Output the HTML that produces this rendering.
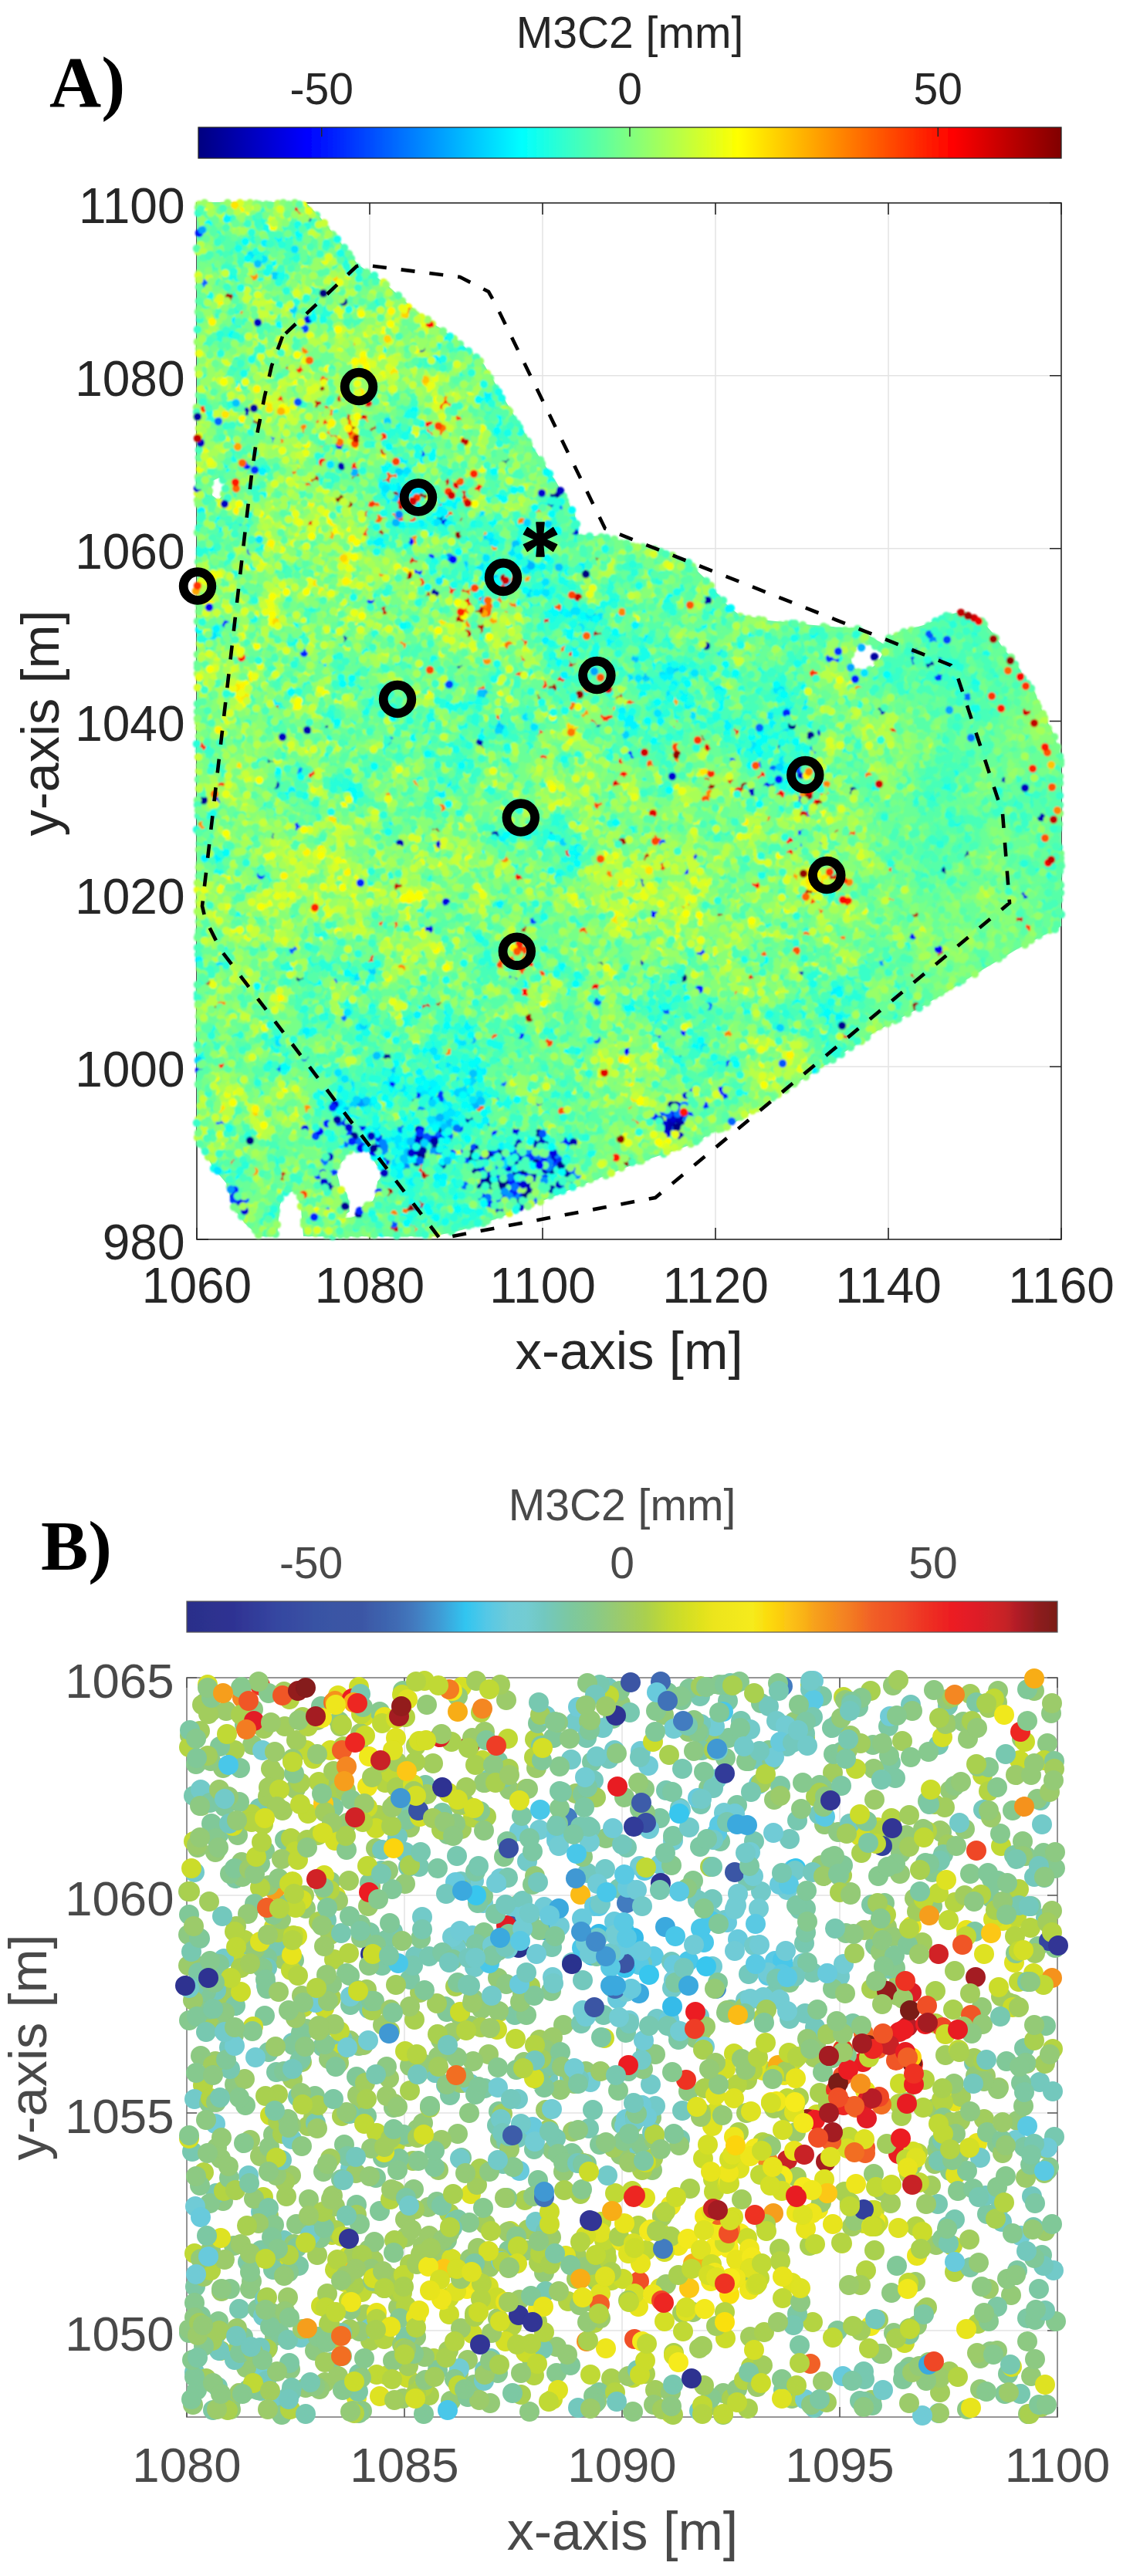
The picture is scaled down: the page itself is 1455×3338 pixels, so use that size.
<!DOCTYPE html><html><head><meta charset="utf-8"><style>
html,body{margin:0;padding:0;background:#fff;width:1455px;height:3338px;overflow:hidden}
svg{display:block}
.t{font-family:"Liberation Sans",sans-serif;fill:#262626}
.u{font-family:"Liberation Sans",sans-serif;fill:#4a4a4a}
.s{font-family:"Liberation Serif",serif;font-weight:bold;fill:#000}
</style></head><body>
<svg width="1455" height="3338" viewBox="0 0 1455 3338">
<defs>
<filter id="bl" x="-2%" y="-2%" width="104%" height="104%"><feGaussianBlur stdDeviation="0.9"/></filter>
<filter id="gb" filterUnits="userSpaceOnUse" x="0" y="0" width="1455" height="3338"><feGaussianBlur stdDeviation="0.55"/></filter>
<linearGradient id="jet" x1="0" x2="1" y1="0" y2="0">
<stop offset="0" stop-color="#000080"/><stop offset="0.125" stop-color="#0000ff"/>
<stop offset="0.375" stop-color="#00ffff"/><stop offset="0.625" stop-color="#ffff00"/>
<stop offset="0.875" stop-color="#ff0000"/><stop offset="1" stop-color="#800000"/>
</linearGradient>
<linearGradient id="bmap" x1="0" x2="1" y1="0" y2="0">
<stop offset="0" stop-color="#2b2f8a"/><stop offset="0.05" stop-color="#2e3192"/><stop offset="0.1" stop-color="#3545a0"/><stop offset="0.15" stop-color="#3953a4"/><stop offset="0.2" stop-color="#3b56a5"/><stop offset="0.24" stop-color="#3f6ab3"/><stop offset="0.26" stop-color="#4379be"/><stop offset="0.29" stop-color="#3f9bd5"/><stop offset="0.32" stop-color="#31c5f0"/><stop offset="0.345" stop-color="#55c8e6"/><stop offset="0.37" stop-color="#6fcbd8"/><stop offset="0.39" stop-color="#73ccd2"/><stop offset="0.41" stop-color="#72c8c0"/><stop offset="0.44" stop-color="#7cc8a0"/><stop offset="0.467" stop-color="#88c98a"/><stop offset="0.5" stop-color="#9ccb6a"/><stop offset="0.527" stop-color="#aad04e"/><stop offset="0.554" stop-color="#c4da30"/><stop offset="0.58" stop-color="#d8e022"/><stop offset="0.605" stop-color="#ece51a"/><stop offset="0.65" stop-color="#f6eb1b"/><stop offset="0.67" stop-color="#fcd90b"/><stop offset="0.69" stop-color="#fcc513"/><stop offset="0.71" stop-color="#f9b116"/><stop offset="0.72" stop-color="#f7a21b"/><stop offset="0.74" stop-color="#f5901f"/><stop offset="0.76" stop-color="#f37e21"/><stop offset="0.79" stop-color="#f15d27"/><stop offset="0.82" stop-color="#ef4b26"/><stop offset="0.85" stop-color="#ee3124"/><stop offset="0.88" stop-color="#ec1c24"/><stop offset="0.91" stop-color="#dd1f26"/><stop offset="0.94" stop-color="#c62128"/><stop offset="0.96" stop-color="#a81d24"/><stop offset="0.98" stop-color="#8c1a1d"/><stop offset="1.0" stop-color="#7a1a17"/>
</linearGradient>
</defs>
<rect width="1455" height="3338" fill="#fff"/>
<g filter="url(#gb)">

<line x1="479.0" y1="263" x2="479.0" y2="1606" stroke="#e3e3e3" stroke-width="1.5"/>
<line x1="703.0" y1="263" x2="703.0" y2="1606" stroke="#e3e3e3" stroke-width="1.5"/>
<line x1="927.0" y1="263" x2="927.0" y2="1606" stroke="#e3e3e3" stroke-width="1.5"/>
<line x1="1151.0" y1="263" x2="1151.0" y2="1606" stroke="#e3e3e3" stroke-width="1.5"/>
<line x1="255" y1="1382.2" x2="1375" y2="1382.2" stroke="#e3e3e3" stroke-width="1.5"/>
<line x1="255" y1="1158.3" x2="1375" y2="1158.3" stroke="#e3e3e3" stroke-width="1.5"/>
<line x1="255" y1="934.5" x2="1375" y2="934.5" stroke="#e3e3e3" stroke-width="1.5"/>
<line x1="255" y1="710.7" x2="1375" y2="710.7" stroke="#e3e3e3" stroke-width="1.5"/>
<line x1="255" y1="486.8" x2="1375" y2="486.8" stroke="#e3e3e3" stroke-width="1.5"/>
<rect x="255" y="263" width="1120" height="1343" fill="none" stroke="#262626" stroke-width="1.6"/>
<path d="M255.0 1606v-15M255.0 263v15M479.0 1606v-15M479.0 263v15M703.0 1606v-15M703.0 263v15M927.0 1606v-15M927.0 263v15M1151.0 1606v-15M1151.0 263v15M1375.0 1606v-15M1375.0 263v15M255 1606.0h15M1375 1606.0h-15M255 1382.2h15M1375 1382.2h-15M255 1158.3h15M1375 1158.3h-15M255 934.5h15M1375 934.5h-15M255 710.7h15M1375 710.7h-15M255 486.8h15M1375 486.8h-15M255 263.0h15M1375 263.0h-15" stroke="#262626" stroke-width="1.6" fill="none"/>
<polygon points="255,262 396,262 416,283 464,343 499,367 542,406 590,439 627,472 660,528 692,582 721,625 739,657 744,664 750,693 784,696 832,708 860,714 890,727 912,748 940,782 958,797 996,804 1042,809 1102,814 1114,813 1120,820 1147,836 1150,826 1172,817 1200,809 1228,797 1243,793 1273,805 1286,820 1302,843 1313,855 1329,880 1341,898 1348,916 1365,952 1373,978 1375,995 1375,1200 1321,1228 1259,1265 1197,1303 1134,1337 1072,1378 978,1438 940,1462 922,1467 903,1480 885,1487 823,1508 760,1533 698,1558 641,1580 598,1594 562,1602 393,1602 390,1564 384,1543 368,1546 362,1564 359,1602 336,1602 317,1585 302,1564 293,1533 275,1512 266,1491 257,1480 255,1480" fill="#6cf8a4"/>
<polygon points="434.7,1514.8 444,1504.4 448.6,1494 460.2,1489.4 475.2,1488.2 481,1498.6 488,1510.2 496,1515 495,1524 489,1531 488,1545 483,1556 475,1561 465,1566 464,1574 455.6,1578 440,1579 453,1570 451,1554 448.6,1545 440.5,1538 438.2,1526.4" fill="#fff"/>
<polygon points="1102,852 1108,840 1118,830 1138,840 1143,848 1136,860 1126,868 1112,870 1104,864" fill="#fff"/>
<polygon points="273,624 284,619 292,624 290,640 283,648 275,642" fill="#fff"/>
<g fill="none" stroke-linecap="round" stroke-width="10.4" filter="url(#bl)">
<path stroke="#a8ff57" d="M258 265h0m59 0h0m-54 25h0m32 2h0m26 6h0m28-7h0m-45 12h0m92 20h0m-40 23h0m87 9h0m-159 5h0m133 12h0m49-8h0m27 6h0m-118 20h0m23 8h0m17-15h0m33 16h0m-147 12h0m25-3h0m12 6h0m3-13h0m8 14h0m-84 19h0m63 0h0m36 3h0m14-10h0m17 6h0m7-5h0m16 4h0m5-2h0m2 2h0m5-10h0m31 10h0m11-2h0m12-10h0m11 13h0m46-5h0m14 6h0m-297 11h0m90 1h0m32 13h0m55-18h0m15 1h0m63 5h0m10-7h0m-157 27h0m115 9h0m29-16h0m12 5h0m-242 18h0m66 16h0m38-6h0m137-10h0m51 12h0m7-12h0m-273 27h0m204-2h0m39 6h0m43-6h0m7 5h0m-243 26h0m31-6h0m57-11h0m-171 31h0m0-5h0m31-8h0m31 13h0m3-6h0m107 7h0m101 1h0m13-7h0m8 0h0m-221 29h0m9 3h0m10-19h0m218 4h0m67 13h0m-299 12h0m283-1h0m27 3h0m-392 16h0m349 0h0m86 10h0m-407 11h0m125 10h0m200-11h0m65 0h0m-362 14h0m82-1h0m65 0h0m-126 21h0m2 4h0m90 8h0m-99 7h0m32 3h0m14 14h0m45-12h0m29 5h0m-84 25h0m27 2h0m161-8h0m184 0h0m-302 30h0m62-7h0m367-3h0m-540 12h0m47 6h0m386 2h0m-457 27h0m86-4h0m41 2h0m99-10h0m31 9h0m-308 22h0m24-16h0m148 16h0m51-1h0m37 0h0m88 1h0m185-1h0m-491 8h0m45 6h0m74 3h0m10-3h0m118 9h0m100-1h0m193-14h0m85 3h0m-565 27h0m6 4h0m72-15h0m153 1h0m70 8h0m6-2h0m222-8h0m25 7h0m21 7h0m51 2h0m-654 4h0m70 3h0m2 2h0m128 13h0m2-5h0m534-4h0m13-7h0m23-2h0m-849 32h0m57-2h0m60-9h0m95 15h0m14-4h0m14 5h0m8 0h0m45 1h0m156 0h0m85-12h0m230 6h0m40 1h0m30-1h0m8-4h0m-742 29h0m11-4h0m166-2h0m1 7h0m161 1h0m242-14h0m131-6h0m26 11h0m5 8h0m8-8h0m-765 19h0m42-5h0m113 1h0m73 11h0m485-1h0m-762 23h0m88-18h0m190 9h0m162-3h0m5 0h0m607 7h0m-871 15h0m241 7h0m377-13h0m23-2h0m35 0h0m194 2h0m-1057 30h0m28-6h0m40-6h0m9 4h0m4 7h0m15-1h0m4-3h0m19-1h0m71 1h0m151-6h0m74-1h0m57 7h0m6-1h0m143 7h0m102-3h0m116 4h0m19-12h0m21 10h0m9-12h0m-868 24h0m18 7h0m5 7h0m10 1h0m169-8h0m15 6h0m17-7h0m108 2h0m44-3h0m216 6h0m28-2h0m-595 16h0m206 2h0m184-5h0m89-4h0m275 16h0m-788 17h0m43-9h0m214-4h0m110 0h0m20 6h0m50 0h0m23 11h0m6-15h0m130 9h0m76 1h0m104-9h0m-640 30h0m123-16h0m134 9h0m52-6h0m16 8h0m78-1h0m145-2h0m105 3h0m-773 15h0m138 2h0m6-7h0m109 0h0m15 5h0m12 8h0m3-1h0m177 6h0m145 1h0m151-20h0m22 8h0m-816 14h0m38 8h0m50 3h0m9-6h0m43 0h0m33-6h0m58 3h0m8 1h0m22-5h0m43 7h0m38-6h0m219 18h0m1-18h0m21 15h0m24-15h0m6 17h0m17-5h0m34-6h0m2-6h0m104 1h0m27 15h0m60-13h0m-796 34h0m44-9h0m140 7h0m17-7h0m99 6h0m37-3h0m130-2h0m51 1h0m73 7h0m104-18h0m-776 25h0m78-1h0m28-2h0m13 16h0m11-4h0m1-5h0m65 1h0m59 5h0m15 2h0m30-15h0m34 1h0m89-1h0m74 3h0m21-4h0m14 1h0m115 14h0m14-11h0m7-4h0m84 1h0m55 15h0m-744 19h0m79-3h0m12-10h0m89 0h0m66 12h0m21-7h0m115-5h0m42 4h0m30-4h0m16 4h0m10 8h0m57-2h0m8 1h0m113-3h0m10-10h0m142 9h0m9 3h0m1 6h0m24-13h0m105 9h0m32-5h0m-1052 18h0m71 11h0m1-8h0m1-10h0m40 9h0m218-5h0m21-2h0m8-2h0m93 1h0m128-1h0m2 4h0m7-3h0m78-2h0m17 0h0m5 11h0m12-8h0m45 5h0m-729 23h0m4 8h0m18-7h0m244 5h0m195 1h0m112-16h0m56-1h0m130 12h0m19-7h0m62 9h0m9 3h0m-824 11h0m37 6h0m9-3h0m35 7h0m94-12h0m55 10h0m33-12h0m70 1h0m184 13h0m61-7h0m20 1h0m95-1h0m43 7h0m14-6h0m137 4h0m18-1h0m54-11h0m-956 31h0m47 1h0m26 1h0m126-8h0m4 0h0m57 9h0m38-1h0m8-3h0m167-6h0m61 2h0m2 3h0m42-6h0m61 1h0m8-5h0m22 1h0m40 9h0m60-12h0m26 4h0m153 11h0m-952 11h0m82 7h0m179-15h0m34 13h0m155 3h0m36 4h0m34-12h0m78 6h0m-583 14h0m10 8h0m1-10h0m147 8h0m62-7h0m1 8h0m61 4h0m57-17h0m169 1h0m104 7h0m5-7h0m22 11h0m18-12h0m0 18h0m50-17h0m44-2h0m-785 27h0m9-4h0m214 11h0m111-2h0m15-9h0m19-4h0m38 11h0m76-9h0m35 17h0m164-13h0m175-5h0m-871 29h0m252 4h0m166-11h0m326 9h0m-325 14h0m97-3h0m108 1h0m134 5h0m-762 22h0m147 4h0m3-8h0m3-2h0m284 5h0m85-1h0m41 7h0m154-1h0m58 4h0m-41 8h0m17 8h0m17-13h0m-370 30h0m98-10h0m60 9h0m9-10h0m72 1h0m42 12h0m32 1h0m21 4h0m-700 8h0m53-6h0m17 8h0m4 8h0m18-1h0m289-10h0m260 0h0m40 3h0m9 1h0m5 4h0m-677 8h0m380 7h0m3-6h0m122-3h0m27 2h0m9 15h0m10-5h0m63-10h0m-645 19h0m55 10h0m27 5h0m31-9h0m398-3h0m70 7h0m57 0h0m27-7h0m-683 31h0m141-8h0m188 2h0m119-3h0m100 4h0m71-4h0m-497 28h0m418 5h0m47-8h0m-449 17h0m-34 20h0m253 4h0m-289 24h0m57-12h0m17-2h0m264 2h0m31 13h0m-371 13h0m75 17h0m34-5h0"/>
<path stroke="#98ff67" d="M288 267h0m7-4h0m4 14h0m11 3h0m83-4h0m-129 9h0m24 7h0m10 5h0m13-15h0m-33 34h0m135 19h0m-155 19h0m27-2h0m103 1h0m9-5h0m31-1h0m-51 30h0m18-12h0m55 9h0m8-14h0m-180 25h0m12 0h0m16 13h0m17-1h0m133-14h0m55 9h0m-192 11h0m37 15h0m53-11h0m-141 22h0m63 1h0m0-8h0m39 17h0m76-3h0m53-14h0m11 14h0m57 0h0m21 3h0m-306 15h0m92-9h0m1-2h0m23-2h0m4 6h0m121 12h0m3-13h0m-35 28h0m5 4h0m34-14h0m29-3h0m20 1h0m43 6h0m-353 31h0m168-12h0m23-5h0m58 5h0m-215 18h0m79 9h0m67-4h0m86-3h0m8 10h0m6-8h0m7 1h0m-301 18h0m68 0h0m21 7h0m130-3h0m4 3h0m32 4h0m-209 10h0m47 6h0m3-10h0m70-2h0m74 5h0m87-2h0m11 8h0m14-14h0m-348 33h0m11-7h0m5-2h0m44-2h0m265-1h0m11 13h0m-283 21h0m92-9h0m1 4h0m34 10h0m125-3h0m98-12h0m9 11h0m8 1h0m-320 13h0m30 4h0m2-9h0m91 0h0m98-1h0m23 8h0m36-9h0m-281 19h0m206 4h0m26 11h0m105-10h0m-439 21h0m48-2h0m29 9h0m42-6h0m10-3h0m44-5h0m15 0h0m175 14h0m16 0h0m6-2h0m-303 8h0m89 19h0m237-8h0m7-12h0m-328 33h0m7-7h0m65 7h0m58-12h0m5 15h0m74 0h0m-257 21h0m20-2h0m120-10h0m334 13h0m2-8h0m49-2h0m16 7h0m-552 18h0m21-10h0m46 0h0m76 8h0m65 3h0m37 2h0m312-11h0m-546 28h0m62 6h0m52-11h0m114 3h0m23-10h0m245 5h0m45-3h0m5 2h0m80 14h0m-632 13h0m120 1h0m72-5h0m42-8h0m37 8h0m10 11h0m272-9h0m6-6h0m-587 21h0m43 9h0m7-11h0m6 15h0m23-8h0m24 7h0m4-17h0m74 7h0m44-3h0m41 13h0m2-14h0m19 11h0m44 2h0m294 2h0m27-15h0m46 16h0m-607 19h0m53-3h0m70 0h0m11-4h0m20-6h0m37 3h0m88-3h0m16 0h0m156 5h0m232 8h0m-699 4h0m179 1h0m6 4h0m48-6h0m8 1h0m297 14h0m0-8h0m207 10h0m22-4h0m59-10h0m-900 16h0m14 13h0m11 6h0m97-13h0m27-2h0m14 14h0m4-16h0m50 16h0m93-16h0m13 13h0m103-12h0m4 0h0m10 4h0m151 9h0m221-14h0m63 17h0m12-18h0m112 2h0m-972 28h0m15 1h0m122 2h0m24-14h0m28 19h0m21-5h0m62-2h0m47-10h0m24 4h0m62 5h0m116-11h0m201 3h0m-744 35h0m59-11h0m25 9h0m54-12h0m6 2h0m15 0h0m7 11h0m45-6h0m35-7h0m173 1h0m111 4h0m16 1h0m97 6h0m3-4h0m30-11h0m-671 36h0m79-2h0m111 0h0m136 1h0m210-11h0m301 10h0m-801 16h0m37 6h0m134-8h0m253 8h0m254-16h0m126 6h0m42 0h0m24 8h0m167-8h0m-1068 19h0m43 14h0m7-12h0m32 8h0m45-13h0m56-2h0m121 13h0m12-4h0m129-2h0m30 12h0m1-16h0m54-3h0m147 12h0m92-5h0m81 11h0m33 0h0m10-5h0m20-7h0m24-5h0m98 16h0m1-6h0m21 7h0m1-18h0m24 9h0m-1063 25h0m25 3h0m13 0h0m81-1h0m293-15h0m71 10h0m97-10h0m23 17h0m181 0h0m72-5h0m197-2h0m-987 19h0m42 1h0m7-8h0m34 14h0m21-13h0m302 12h0m0-10h0m231 1h0m148 5h0m132-8h0m-1018 22h0m30 2h0m34-3h0m19 0h0m72 13h0m61-9h0m20-8h0m17 7h0m42 6h0m144 3h0m25-17h0m49 11h0m17 4h0m138-12h0m1 11h0m25-6h0m0-4h0m-597 31h0m232 2h0m38-2h0m47-5h0m15-3h0m20-1h0m10 9h0m8 0h0m48-9h0m68 7h0m69-6h0m231-3h0m-839 35h0m29-10h0m37-9h0m140 19h0m165 0h0m78-12h0m52-7h0m106 9h0m22 5h0m5 4h0m5-15h0m57-1h0m14 16h0m34-9h0m20-3h0m64 6h0m-769 19h0m110-7h0m72-3h0m51 1h0m79 2h0m126 9h0m11-11h0m14 16h0m62-8h0m47-5h0m34 13h0m8-5h0m94 5h0m50-10h0m72 4h0m-905 19h0m15-5h0m105 12h0m1-11h0m89 3h0m44 2h0m39-6h0m217 10h0m7-15h0m52 3h0m61 14h0m41 1h0m137-15h0m77-1h0m-668 28h0m187 6h0m127-15h0m49 8h0m16-2h0m39 10h0m25-9h0m30 6h0m35-7h0m16-2h0m22-4h0m80 6h0m-805 25h0m303-12h0m35 16h0m40-15h0m113 1h0m10 13h0m21-3h0m11 0h0m42-11h0m20 12h0m20-5h0m65-8h0m18 1h0m44 13h0m28 2h0m18-10h0m121 4h0m8-4h0m-968 13h0m98 12h0m49-3h0m49 7h0m37-3h0m4-7h0m10-1h0m35 8h0m39 1h0m77-4h0m6 8h0m64-16h0m23-3h0m94 3h0m7 3h0m52 9h0m185 0h0m1-6h0m50-7h0m-804 30h0m40-11h0m28 6h0m39 11h0m7-9h0m2 9h0m91-16h0m5 3h0m7 4h0m30-4h0m18 7h0m13 2h0m149-12h0m33 9h0m23 4h0m55-3h0m54 6h0m157-8h0m19 2h0m171-10h0m47 12h0m-1050 10h0m69 2h0m141 0h0m40 5h0m16 3h0m197-7h0m6-5h0m160 5h0m34 6h0m124-6h0m13-2h0m57 3h0m7 5h0m35 4h0m5 1h0m-904 7h0m25 14h0m67-16h0m45 8h0m314 7h0m66-12h0m55 5h0m62-11h0m68 6h0m12-5h0m75 11h0m87 4h0m4 3h0m11-18h0m20 12h0m8-3h0m35 10h0m-965 11h0m69-1h0m36-7h0m109 2h0m64 3h0m29 10h0m284-2h0m77-7h0m88 5h0m10-13h0m9 16h0m36-6h0m93-5h0m8 5h0m24 5h0m14-4h0m11-11h0m18 8h0m-747 20h0m260 10h0m64 0h0m121-18h0m139 8h0m-667 11h0m13 1h0m51 18h0m15-5h0m49-13h0m14 7h0m20-6h0m10 7h0m37 7h0m91 2h0m128-11h0m35-2h0m28 7h0m242-4h0m45 6h0m33-13h0m-944 37h0m33-11h0m80 10h0m31 2h0m77-5h0m76-2h0m56-8h0m63-2h0m39-2h0m39 19h0m205-1h0m25-12h0m116 5h0m-815 22h0m223-2h0m95 5h0m406-12h0m-737 21h0m65 0h0m111 6h0m219-11h0m24 5h0m34 5h0m189 0h0m24 6h0m162-8h0m-839 19h0m0-4h0m76 11h0m134-6h0m192-3h0m80 10h0m4 2h0m21-9h0m19-3h0m2 5h0m99 6h0m50 0h0m36-3h0m23-4h0m34 7h0m-709 11h0m79 6h0m87 6h0m6-7h0m94 2h0m2-6h0m33 2h0m27-3h0m166 12h0m0-16h0m12 10h0m117 6h0m69-13h0m14 13h0m-745 14h0m63 2h0m344-3h0m170-5h0m85 1h0m-718 29h0m67-5h0m60 2h0m247-13h0m23 4h0m84 7h0m141-7h0m122 9h0m-702 23h0m58-15h0m23 2h0m10 7h0m367 4h0m57-2h0m54-8h0m-593 29h0m408-9h0m-381 24h0m2 11h0m315-11h0m173-7h0m42 11h0m36 3h0m-592 9h0m62 3h0m404 1h0m65 0h0m29 2h0m3-9h0m-470 37h0m50-2h0m321-4h0m84-9h0m-431 16h0m3 3h0m359 2h0m-422 29h0m93 3h0m7-1h0m-115 12h0m19-5h0m50 24h0m15 11h0m37-10h0m5-5h0m94 6h0"/>
<path stroke="#f9ff06" d="M269 274h0m52 4h0m7-9h0m65-3h0m68 113h0m68 19h0m-32 30h0m-206 62h0m93 7h0m180 40h0m-103 41h0m-56 42h0m-68 46h0m90 8h0m-141 73h0m169 9h0m-130 117h0m-7 13h0m782 0h0m-285 129h0m251 39h0m-661 61h0m42 2h0m123 1h0m-276 20h0m169 0h0m580-1h0m-555 15h0m-137 17h0m171-7h0m277 19h0m-440 22h0m56 16h0m594 144h0m-190 22h0m181 12h0m-630 14h0m40 158h0"/>
<path stroke="#8f7" d="M257 269h0m71 8h0m41-8h0m-100 48h0m17-14h0m0 19h0m104 16h0m-125 15h0m21-8h0m55 2h0m36 4h0m35 9h0m10-1h0m35-4h0m-195 6h0m13 17h0m9 1h0m5-2h0m19-11h0m56 13h0m-24 19h0m18-9h0m31 0h0m80-3h0m43 9h0m9-5h0m-225 27h0m81 3h0m19-12h0m100 3h0m19-8h0m-255 20h0m57 1h0m90 2h0m4 8h0m48-4h0m58 0h0m-72 21h0m54 6h0m7-11h0m9-4h0m93 16h0m-285 3h0m31 13h0m78-1h0m28 4h0m121-11h0m-317 20h0m20 12h0m34-6h0m13-8h0m10 5h0m129 3h0m19-10h0m4 16h0m43-6h0m42 4h0m18-13h0m-284 25h0m5 9h0m74-3h0m38-4h0m-117 14h0m83 3h0m80 1h0m11 4h0m-214 28h0m37-6h0m70 5h0m28-7h0m8 7h0m22-13h0m18 14h0m133-13h0m33-5h0m-339 32h0m55-4h0m17 1h0m27-6h0m100 5h0m110-5h0m-310 31h0m94-12h0m58 5h0m30 4h0m27-9h0m138 13h0m41-11h0m16 13h0m-428 19h0m73-4h0m76-11h0m11 0h0m13 9h0m7 2h0m122-10h0m128 1h0m-397 35h0m10-4h0m42-14h0m46 11h0m22 0h0m2-4h0m242 4h0m-314 20h0m4-6h0m5 0h0m133 12h0m146-16h0m-363 24h0m368-5h0m16 17h0m-322 11h0m46-1h0m2 9h0m25-1h0m105-2h0m52 5h0m29-10h0m32-1h0m36-4h0m-384 33h0m91-4h0m94-9h0m19-1h0m34 14h0m71-12h0m182-1h0m34-3h0m-510 21h0m6 1h0m29 0h0m196 0h0m12 7h0m36-6h0m212 11h0m52-7h0m17 8h0m34-6h0m0 8h0m-569 14h0m8-12h0m6 1h0m21 6h0m3-5h0m2 10h0m66 6h0m1-17h0m9-2h0m145 4h0m167 4h0m106 5h0m4 5h0m-535 6h0m8 10h0m40-9h0m14-1h0m5 13h0m1-3h0m139-7h0m62-7h0m7 10h0m167 0h0m83-2h0m65-7h0m4 7h0m13 11h0m-611 11h0m11-4h0m142 12h0m39-14h0m37 16h0m8-5h0m27-10h0m61 13h0m27 1h0m-294 13h0m119-9h0m48 5h0m65-4h0m383-1h0m198 14h0m-856 12h0m188 8h0m17-1h0m15-12h0m31 12h0m123 1h0m209-10h0m27 3h0m31-8h0m78 5h0m3 7h0m-727 12h0m59-4h0m13 11h0m79-5h0m5-5h0m16 3h0m78 9h0m182 3h0m216-16h0m90 12h0m12 4h0m23-11h0m0 12h0m7-12h0m-833 24h0m122 3h0m54-14h0m113 11h0m400-6h0m66 8h0m74 7h0m7-3h0m7 1h0m7-6h0m-840 20h0m131 2h0m34 6h0m9-6h0m22 2h0m87-6h0m9 9h0m89-6h0m52 0h0m233-2h0m4 0h0m27 5h0m154 0h0m179-3h0m-1028 12h0m0 6h0m16 1h0m7-8h0m116 12h0m26-8h0m212-6h0m260 1h0m222 13h0m9-10h0m28 11h0m3 0h0m151-8h0m3-4h0m6 12h0m-1060 8h0m56-1h0m3 6h0m25-2h0m48-3h0m91 3h0m87-4h0m13-3h0m76 16h0m34-8h0m116 5h0m323-10h0m20 13h0m28-15h0m118 8h0m1 9h0m1-5h0m-1060 20h0m5-1h0m81-4h0m9-5h0m5 5h0m99 5h0m36 3h0m120 1h0m183-3h0m320 3h0m56-12h0m13-2h0m22-2h0m10 16h0m5-12h0m108-4h0m28 2h0m-1079 35h0m6-14h0m32 15h0m28-2h0m64 0h0m45 1h0m91-13h0m107-4h0m14 18h0m51-2h0m20-13h0m50-3h0m64 0h0m18 15h0m12-16h0m31 3h0m37 13h0m55-2h0m58-12h0m53 15h0m44 2h0m19-3h0m125-14h0m-1041 18h0m241 5h0m2 10h0m4-12h0m11 10h0m127 6h0m41-19h0m72 5h0m12 7h0m20-8h0m16 14h0m40-6h0m201 4h0m96-12h0m34 13h0m-813 6h0m14 12h0m145 3h0m40-6h0m1 5h0m77-8h0m31 5h0m3-5h0m172-10h0m48 5h0m37 12h0m46-8h0m2-6h0m94 6h0m25 7h0m39-8h0m10-3h0m4 8h0m5-9h0m23 15h0m134-15h0m-893 31h0m15-1h0m245-4h0m103 6h0m52-7h0m12 9h0m249-9h0m180-2h0m78-6h0m-1071 36h0m20-8h0m20 10h0m117 0h0m17-18h0m121 7h0m6-2h0m47-5h0m22 19h0m84-11h0m20-6h0m24-2h0m24 6h0m38-6h0m7 14h0m32-12h0m139 10h0m1-4h0m257-5h0m59 15h0m-1062 12h0m104-5h0m99 14h0m21-9h0m16-8h0m20-2h0m4 6h0m63 13h0m57-14h0m100-5h0m8 5h0m9 7h0m9 1h0m34 3h0m58-14h0m140 13h0m10-10h0m8 8h0m52 1h0m2-8h0m15-7h0m31 19h0m199-5h0m3 3h0m8-8h0m15-8h0m-1085 35h0m58-11h0m51 11h0m12 2h0m47-7h0m10 6h0m3-5h0m11 0h0m4-6h0m130 8h0m9-13h0m49 12h0m138-8h0m1 13h0m53-1h0m8-17h0m49 1h0m81 3h0m7 8h0m38-1h0m241 6h0m17-5h0m22-6h0m14 12h0m-989 6h0m94-1h0m49 3h0m38-5h0m44 10h0m94 7h0m8-13h0m136 13h0m287 1h0m80-9h0m96-2h0m8 5h0m41-8h0m-1054 26h0m50 0h0m13-9h0m23 6h0m7-2h0m58-4h0m17 15h0m196-7h0m44-7h0m19 7h0m12 10h0m47-3h0m26-7h0m195 10h0m27-19h0m91 9h0m48 7h0m24 1h0m10-11h0m116-5h0m-1006 28h0m84-9h0m136 5h0m63 11h0m8-16h0m10 8h0m48 5h0m114 1h0m34-5h0m67-9h0m12 5h0m9 0h0m73-2h0m21 0h0m9 13h0m247-8h0m57-2h0m4-3h0m-1007 34h0m11 0h0m5-15h0m0 6h0m16 2h0m41-9h0m43 5h0m50-4h0m45 16h0m69-1h0m110-9h0m20-1h0m5 4h0m25-7h0m6-2h0m1 16h0m1-14h0m70 2h0m50 12h0m82-11h0m36 11h0m209-18h0m3 5h0m15 7h0m46 4h0m1-5h0m29-11h0m7 2h0m-936 23h0m15 14h0m11-4h0m115-9h0m10-3h0m28 0h0m17 6h0m96-5h0m29 9h0m83-14h0m3 10h0m86-4h0m107 13h0m19-15h0m40 2h0m25 9h0m69-8h0m18 5h0m24-2h0m8-6h0m7 14h0m82-13h0m20-3h0m1 3h0m4 8h0m3-9h0m27 2h0m17 2h0m44-3h0m10 3h0m12 11h0m-1088 14h0m44-13h0m89 10h0m26-4h0m66 0h0m92-1h0m57 4h0m25 8h0m55-5h0m24-5h0m64-1h0m33 11h0m37-13h0m26 3h0m17 11h0m82-15h0m54 7h0m96 2h0m89-6h0m17 7h0m19-9h0m18 0h0m58 1h0m-1034 19h0m135-3h0m60 18h0m11-7h0m82 6h0m87-3h0m5-12h0m25 11h0m6-2h0m15-1h0m14-8h0m16 7h0m36 8h0m45-9h0m70 6h0m63-11h0m13 1h0m146 6h0m25 0h0m11 3h0m26-9h0m10-1h0m14 13h0m-982 18h0m80 0h0m9-2h0m40-9h0m116 15h0m18-9h0m40 3h0m33-9h0m1 6h0m53 3h0m34-12h0m21 14h0m78-8h0m16-2h0m22-5h0m8 8h0m1-3h0m29 11h0m13-9h0m16 13h0m17-9h0m10-4h0m27-6h0m31 7h0m20 9h0m13-12h0m46 4h0m43 5h0m93-9h0m-920 17h0m100 0h0m16 4h0m6 13h0m124-3h0m77 2h0m37 0h0m41-11h0m33 9h0m56-1h0m8 0h0m36-15h0m91 3h0m8 5h0m137 11h0m35-11h0m18-6h0m29 9h0m11-4h0m15 2h0m74-9h0m2 15h0m-951 16h0m57 6h0m48 1h0m43-13h0m108 0h0m115-4h0m61 7h0m50 9h0m68-17h0m68 4h0m8 9h0m0-7h0m19 14h0m9-17h0m41 9h0m31-1h0m45 4h0m98-9h0m10-1h0m7 3h0m6-8h0m-904 37h0m69-4h0m262-7h0m67 7h0m29-2h0m84-10h0m145 17h0m137-5h0m58-1h0m26-12h0m-815 37h0m117-14h0m98 13h0m89-7h0m80-3h0m36-1h0m78 0h0m117 12h0m98-12h0m67 7h0m-818 16h0m3 6h0m52 0h0m54-9h0m144 5h0m228-9h0m14 7h0m43 8h0m21-5h0m-511 29h0m102-19h0m13 3h0m20 4h0m211 8h0m19-6h0m48 10h0m195-12h0m19-5h0m26 5h0m13-6h0m5 16h0m-701 9h0m38 12h0m56 0h0m15-17h0m248 16h0m121 1h0m35-18h0m19 0h0m9 13h0m37-5h0m20-2h0m-619 26h0m35-5h0m36 2h0m10-6h0m16-4h0m12 4h0m277-3h0m16 12h0m14 3h0m70 3h0m15-16h0m95 3h0m71 5h0m86-11h0m-763 25h0m88 4h0m142 6h0m245 1h0m34-5h0m21 7h0m7-9h0m9-6h0m93 0h0m30 2h0m10 0h0m14 4h0m-604 21h0m554-3h0m10 9h0m-662 4h0m100 10h0m7-7h0m24 1h0m7 9h0m27-10h0m256 13h0m19-16h0m83 17h0m8-8h0m17-8h0m11 9h0m17-7h0m8 4h0m-449 21h0m9 0h0m372-8h0m37 15h0m-490 15h0m31 8h0m35-9h0m-36 23h0m57-3h0m21-7h0m334 6h0m-407 19h0m46 3h0m72 12h0m17 14h0m159-16h0m-229 23h0m81 10h0"/>
<path stroke="#fff500" d="M312 273h0m-2 229h0m52 2h0m-100 31h0m236 56h0m-95 63h0m45 73h0m-174 50h0m142-11h0m48 45h0m-137 68h0m56 36h0m172-15h0m258 125h0m-524 123h0m635 86h0m-107 169h0"/>
<path stroke="#37ffc8" d="M343 273h0m-13 10h0m39 15h0m38 10h0m-123 20h0m16-8h0m0 9h0m84 0h0m65 3h0m-129 15h0m93 42h0m4 9h0m75 1h0m-223 12h0m15-3h0m10 26h0m-26 14h0m319 7h0m20 0h0m-57 13h0m-235 27h0m-46 45h0m194-20h0m60 19h0m-196 4h0m308 16h0m-225 8h0m152 1h0m99 6h0m-230 7h0m146 8h0m78-4h0m34 0h0m-386 27h0m128 5h0m8-8h0m218-1h0m37-4h0m-203 17h0m114 13h0m57-1h0m-343 19h0m173-10h0m166 0h0m-361 35h0m187 0h0m32-16h0m37 17h0m115-5h0m52-3h0m-242 16h0m31 0h0m3 12h0m31-16h0m60 3h0m6-2h0m61 17h0m19-4h0m39-16h0m-462 37h0m200-5h0m34-8h0m94 2h0m11 4h0m20-7h0m157 12h0m-466 14h0m325 1h0m7-9h0m33-1h0m36 17h0m21-2h0m25-6h0m-173 17h0m1 8h0m98-5h0m-432 19h0m51-2h0m8-5h0m3 5h0m311 1h0m119-6h0m60 7h0m107 7h0m5-4h0m-527 21h0m168-3h0m113-2h0m28 7h0m65-4h0m95 4h0m12-7h0m-146 17h0m102 8h0m364 7h0m8-4h0m26-9h0m34 5h0m-963 12h0m140 11h0m359-4h0m52 5h0m16-10h0m185 2h0m14 9h0m136-5h0m-886 23h0m29 2h0m38 0h0m384-4h0m77 0h0m71-2h0m269-3h0m15 12h0m32-7h0m11 2h0m-595 11h0m198 0h0m27 14h0m117-5h0m23-1h0m17 5h0m207-13h0m9 10h0m40-3h0m8 3h0m-716 12h0m127 5h0m280 1h0m14 7h0m11-19h0m12 9h0m6 8h0m11-11h0m8 0h0m95-5h0m5 5h0m5-2h0m79 5h0m28-4h0m-825 16h0m172 9h0m94 5h0m18 1h0m8-7h0m19-10h0m153 0h0m127 4h0m268-4h0m9 3h0m-937 35h0m166-8h0m102 6h0m31-1h0m16-14h0m240 3h0m27 5h0m31 2h0m153-9h0m-808 21h0m331 11h0m7-6h0m6 12h0m24-11h0m137 6h0m28 0h0m8 1h0m5-13h0m13 12h0m86-2h0m10 6h0m30-9h0m104 8h0m145-18h0m-987 32h0m314 7h0m18-1h0m137 1h0m136-7h0m89-7h0m3-3h0m29 11h0m62-1h0m202 2h0m-970 22h0m87-5h0m98 7h0m9-13h0m85-4h0m156 3h0m131 2h0m148 4h0m4-6h0m1-3h0m98 0h0m16 17h0m103-4h0m23-4h0m-887 19h0m98 1h0m135 0h0m76-6h0m33 13h0m339 0h0m21-6h0m66 6h0m71-9h0m3 5h0m19 0h0m31 4h0m66-8h0m33 1h0m-796 23h0m41-11h0m72 15h0m453-1h0m107-13h0m109 14h0m1-9h0m-935 24h0m164 7h0m37-16h0m524 1h0m57-3h0m10 14h0m33-8h0m5 7h0m67-14h0m-603 37h0m16-11h0m121 12h0m262-2h0m150-11h0m83 8h0m-1061 18h0m368-5h0m61 1h0m31-6h0m213 1h0m-245 19h0m33 15h0m269-13h0m136 1h0m227 14h0m-1024 7h0m330 4h0m35 1h0m484 1h0m30 0h0m127-7h0m-1014 26h0m19-7h0m208-2h0m86 15h0m322-5h0m-287 22h0m32-1h0m261 2h0m20 5h0m27-19h0m18 2h0m39 4h0m-741 25h0m45-6h0m168 12h0m27-3h0m17-1h0m489 4h0m9 1h0m-67 19h0m6-6h0m-196 14h0m223 5h0m-634 19h0m18-4h0m195 9h0m36-1h0m52 3h0m171-10h0m381 2h0m-935 18h0m57-3h0m63 9h0m4-12h0m244 1h0m22-1h0m26 7h0m68 9h0m39-4h0m5 3h0m181 0h0m113 0h0m-905 13h0m221-7h0m205-1h0m177 4h0m17 6h0m165 8h0m29-1h0m43 0h0m-662 8h0m18 14h0m6-5h0m58-1h0m188-4h0m86-4h0m20 5h0m30 1h0m44 6h0m3-13h0m98 8h0m7 4h0m71-13h0m20 4h0m1-6h0m56 0h0m-763 30h0m170 7h0m8-4h0m17 3h0m25-2h0m28 4h0m96-1h0m26-9h0m71 8h0m270-5h0m10-9h0m-840 26h0m214 6h0m27-12h0m39 4h0m8 2h0m9 0h0m115 2h0m149-7h0m57 10h0m12 2h0m169-9h0m14 4h0m-578 23h0m65 0h0m43-11h0m51 0h0m4 3h0m246 9h0m-452 6h0m16 3h0m64 6h0m0-3h0m7 10h0m29-2h0m-141 12h0m21 2h0m23 11h0m368-16h0m86 4h0m-537 29h0m23-5h0m6-6h0m77-3h0m13 11h0m19-11h0m56 9h0m87-2h0m-188 15h0m105-4h0m52 15h0m50-1h0m4 5h0m131-11h0m-567 18h0m215 5h0m26-8h0m85 2h0m71-5h0m-309 24h0m70 8h0m34-4h0m137-6h0m-320 24h0m79 7h0m51 0h0m245 3h0m9 2h0m11-15h0m60 8h0m2-6h0m-363 24h0m139 3h0m14-7h0m3 9h0m4-11h0m51 0h0m-222 29h0m141-6h0m25 10h0m15-2h0m47-10h0m1 11h0m42-1h0m-288 21h0m221-1h0"/>
<path stroke="#b8ff47" d="M279 279h0m75-10h0m35 9h0m-82 18h0m118 11h0m9 1h0m-37 22h0m-13 56h0m122 5h0m-181 26h0m149-15h0m-109 24h0m113-4h0m11 13h0m1-9h0m35-6h0m-100 34h0m74-6h0m37-5h0m4 4h0m5 12h0m7-1h0m19-3h0m-179 15h0m26 8h0m84-10h0m64-7h0m-198 31h0m18-8h0m29 13h0m92-6h0m32-6h0m92-1h0m-357 20h0m4 10h0m46-10h0m55 4h0m185-5h0m52 4h0m3-1h0m-310 31h0m104-4h0m23-6h0m-31 32h0m13-13h0m169-4h0m21 10h0m-160 20h0m6 7h0m165-7h0m-295 17h0m14-2h0m57 2h0m44 2h0m29-8h0m201 9h0m-55 16h0m82 2h0m-129 14h0m108 2h0m-322 33h0m41-11h0m230-5h0m-360 19h0m76 13h0m116-8h0m168-5h0m-277 35h0m6-17h0m-39 29h0m373-4h0m-303 15h0m29 1h0m3 8h0m38 10h0m340-19h0m-499 22h0m462 17h0m83-1h0m-421 13h0m16-6h0m69 8h0m262 7h0m0-14h0m83 6h0m54-7h0m-620 31h0m48-5h0m132-10h0m158 6h0m19-6h0m182 17h0m-517 2h0m11 15h0m54-9h0m142 6h0m8 6h0m144-7h0m-405 23h0m47-10h0m9 5h0m11 9h0m31-2h0m49-11h0m86 12h0m113 0h0m341 0h0m-639 11h0m91-2h0m109 6h0m131-11h0m48 6h0m318-2h0m9-2h0m-738 29h0m30-11h0m27 12h0m73-1h0m308 6h0m31-16h0m325 5h0m-800 25h0m103 1h0m711-12h0m-782 37h0m5-9h0m358 6h0m-394 14h0m47 5h0m805-3h0m37 4h0m2-6h0m175 5h0m-1055 7h0m17 12h0m21 1h0m124-10h0m227-2h0m450 13h0m3-14h0m34 2h0m-841 32h0m83 3h0m18-3h0m46-1h0m317-9h0m305 2h0m48-7h0m-836 34h0m236 0h0m181-4h0m37 4h0m381-4h0m-866 26h0m31-7h0m14 2h0m17-2h0m75 8h0m306-7h0m17 7h0m51-1h0m37-11h0m5 10h0m121-6h0m-613 12h0m33 19h0m373-19h0m69 8h0m145 2h0m316 0h0m-939 11h0m388 0h0m40 11h0m271 7h0m64-1h0m-644 10h0m103 4h0m283-11h0m28-2h0m114 7h0m87-2h0m14 0h0m11 0h0m-729 16h0m5 17h0m3-17h0m59 9h0m3 7h0m52-6h0m119 5h0m271-12h0m86 9h0m13-11h0m-610 37h0m19-2h0m26-11h0m86-5h0m9 3h0m90 12h0m200 4h0m102-2h0m48-6h0m109 3h0m77-10h0m162 5h0m-977 26h0m3 1h0m158-5h0m19-9h0m7-2h0m11 11h0m290 6h0m13-8h0m12-1h0m30-5h0m22 7h0m28 5h0m113-15h0m38 3h0m28-1h0m-806 21h0m26 1h0m69 9h0m26 0h0m56-12h0m9 1h0m23 8h0m51 0h0m7 4h0m93-11h0m66 3h0m6 2h0m69-6h0m7 14h0m54-6h0m47-8h0m50-3h0m23 12h0m72 5h0m1-10h0m7-4h0m28-3h0m82 14h0m130-1h0m-1008 19h0m28 7h0m72-11h0m71 6h0m100-6h0m17 5h0m6 0h0m44 2h0m118-4h0m45-9h0m11 10h0m4 6h0m12-3h0m0-7h0m31 9h0m38-15h0m5 7h0m43-6h0m48 11h0m133-3h0m-771 15h0m24 8h0m6-6h0m44 4h0m8-11h0m16 10h0m27 9h0m21-6h0m320 6h0m11-3h0m16 0h0m6-17h0m241 12h0m-787 27h0m98-2h0m22 1h0m116-8h0m119-4h0m158 0h0m114 0h0m51-5h0m-540 36h0m334 0h0m115-1h0m76-13h0m149 12h0m138-4h0m-708 17h0m11 7h0m82-13h0m84 14h0m99 0h0m55-15h0m82 9h0m144 9h0m6-14h0m27 5h0m-489 26h0m162-1h0m38-3h0m90-11h0m40 14h0m113-8h0m-710 31h0m346-6h0m22-11h0m-407 31h0m128-7h0m121 12h0m41-14h0m190 3h0m-257 26h0m15 6h0m81-16h0m312 14h0m189-2h0m-678 20h0m354-6h0m136 12h0m-490 18h0m234-6h0m89-8h0m25 5h0m11-1h0m93 7h0m98 1h0m31-6h0m-646 30h0m318-2h0m81-9h0m0 11h0m33-2h0m153-10h0m42-3h0m6-3h0m9 7h0m-724 18h0m702 11h0m-690 9h0m79-1h0m492 0h0m92 10h0m-685 13h0m24 2h0m72 7h0m-136 16h0m494 4h0m52 1h0m68-10h0m-597 12h0m508 29h0m10 3h0m-466 46h0m85-8h0m-20 12h0m28 29h0"/>
<path stroke="#7f8" d="M376 273h0m-67 16h0m25 14h0m64 1h0m-22 35h0m-112 10h0m16 25h0m5-3h0m133-5h0m50 12h0m5-6h0m2 6h0m22-2h0m-200 19h0m73-5h0m37-8h0m102 3h0m-233 16h0m20 10h0m105-6h0m12 13h0m-142 16h0m12-12h0m13-2h0m101 2h0m107 6h0m15-5h0m5 10h0m15 2h0m-226 23h0m243-11h0m-276 30h0m8-11h0m0 5h0m47-7h0m22 2h0m198 14h0m-148 6h0m7-1h0m31-1h0m74 4h0m26 7h0m68-4h0m-321 20h0m49-9h0m44 8h0m68-6h0m145-2h0m-269 22h0m120 11h0m30-7h0m24 6h0m41 2h0m2-9h0m-270 25h0m45-9h0m23 2h0m29 11h0m65-3h0m33-2h0m71 7h0m-240 21h0m14-1h0m70-7h0m224 7h0m4-5h0m21-1h0m37-6h0m-356 26h0m53-3h0m28 8h0m37 0h0m93-10h0m13 10h0m42-12h0m23 4h0m9 4h0m4-2h0m17 6h0m27 0h0m30 2h0m-381 10h0m157 5h0m7 2h0m30-7h0m118-5h0m77 10h0m-361 21h0m94-1h0m11-13h0m137 7h0m124-2h0m-288 28h0m238 5h0m-351 13h0m28 7h0m40-19h0m105 1h0m112 4h0m95-3h0m-190 22h0m27 11h0m137 3h0m56 1h0m60 0h0m22 0h0m-511 3h0m79 14h0m50-14h0m61 16h0m73-4h0m11 1h0m21 1h0m72 0h0m26 0h0m121-8h0m6-4h0m9 13h0m-544 16h0m107 0h0m22 4h0m21-16h0m16 0h0m331 2h0m30 14h0m48-13h0m16 1h0m27 5h0m-550 13h0m6 10h0m69-3h0m64 2h0m78 3h0m6-7h0m237-7h0m55 18h0m-567 7h0m11 2h0m78 4h0m119-10h0m20 4h0m17-2h0m244 3h0m43-2h0m45-4h0m25 6h0m-630 25h0m20-5h0m137-1h0m65 7h0m32-10h0m44 15h0m263-18h0m52 20h0m29-2h0m29-6h0m-656 26h0m31 1h0m93-10h0m64 6h0m145 0h0m122 0h0m173 3h0m17-9h0m14-4h0m2 9h0m22-10h0m54 11h0m61-1h0m8 5h0m16-2h0m-821 13h0m48-8h0m25 2h0m16-3h0m4 6h0m33 7h0m17-4h0m2-10h0m6 9h0m10 10h0m21-17h0m43 7h0m68-2h0m52 3h0m73 4h0m26-11h0m146 16h0m119-5h0m56-13h0m85 10h0m36-3h0m-904 20h0m62-8h0m26 19h0m33-2h0m19-2h0m11 4h0m67-4h0m71-6h0m10 3h0m104-5h0m5-2h0m84 10h0m51-3h0m174-7h0m45 2h0m23 3h0m24-6h0m90 2h0m108 9h0m20-1h0m19 6h0m-986 3h0m80-2h0m98 7h0m250 2h0m22 1h0m11 2h0m43 5h0m106-16h0m50 6h0m128 1h0m32 0h0m159-9h0m7 6h0m-1012 22h0m47-2h0m87 4h0m1 7h0m63-13h0m66-4h0m41 10h0m5 2h0m7-8h0m7 16h0m60-9h0m4-6h0m9-5h0m33 3h0m23 1h0m13 10h0m188 3h0m34-3h0m22-9h0m51-4h0m31 3h0m43 0h0m3 6h0m21 7h0m25-11h0m5 5h0m132 5h0m2-2h0m-991 11h0m17-5h0m135 4h0m60 13h0m29-2h0m85-8h0m13 2h0m65 9h0m31-12h0m149 4h0m78-5h0m68 13h0m2-5h0m19-1h0m36-6h0m17 0h0m89 0h0m76 9h0m24 2h0m23-6h0m-1051 21h0m19-7h0m15 6h0m23 0h0m74 5h0m207-14h0m78 13h0m19-5h0m33-1h0m112-6h0m43 5h0m6 8h0m76 1h0m175-1h0m40-2h0m14-4h0m5 0h0m108-9h0m-935 36h0m114-5h0m55 2h0m128-1h0m28-10h0m7 1h0m0 14h0m187-9h0m119-7h0m21 12h0m14-10h0m40 9h0m87-5h0m16 2h0m25 6h0m6 3h0m26-7h0m12 0h0m18-5h0m24 11h0m11-1h0m29-2h0m-1037 14h0m24 4h0m20 4h0m33-17h0m5 14h0m51-12h0m84 15h0m48-10h0m16-7h0m25 1h0m39 7h0m40-7h0m20 10h0m14 1h0m75-6h0m20 11h0m100 0h0m122-5h0m39-10h0m63 1h0m27 11h0m62-14h0m66 3h0m0 2h0m31 2h0m12-2h0m1 15h0m-1098 10h0m63-9h0m120 6h0m84 9h0m26-9h0m92 3h0m18 9h0m105-6h0m161 4h0m17-15h0m4 14h0m25-11h0m66 6h0m43 1h0m26 1h0m35-1h0m11-8h0m7 14h0m94-10h0m7-4h0m14 14h0m1-5h0m11 0h0m5-11h0m15 10h0m-1010 23h0m6 0h0m15 4h0m40-9h0m92-8h0m57 3h0m13 6h0m87 7h0m20-6h0m77-10h0m21-2h0m39 2h0m65 11h0m41-2h0m18 6h0m14-11h0m53 3h0m180 6h0m35-10h0m3 4h0m94 0h0m23-7h0m36 4h0m-1037 26h0m45-7h0m232 10h0m83-1h0m153-6h0m98-6h0m11 15h0m38-16h0m15 8h0m52 2h0m57 0h0m9-10h0m19 4h0m53 11h0m112-14h0m89 0h0m-1082 20h0m64 5h0m33 1h0m34-4h0m10-3h0m77 6h0m5 8h0m30-11h0m14 2h0m58-6h0m10 19h0m72-1h0m4-12h0m9-4h0m26 11h0m126-4h0m19-8h0m9 18h0m66 0h0m13-10h0m7 5h0m78-10h0m36-1h0m35 16h0m45-19h0m5 7h0m51 3h0m3-6h0m-928 18h0m28 12h0m25-9h0m28 1h0m71-1h0m30 10h0m54 4h0m1-7h0m21 6h0m47-12h0m7 3h0m25-1h0m1 11h0m1-18h0m38 14h0m148-9h0m21 1h0m12-5h0m288 12h0m11 4h0m3-5h0m10-4h0m4 6h0m22-13h0m29 6h0m39 12h0m73-12h0m8 0h0m-1067 30h0m42-17h0m89 13h0m80-11h0m66 8h0m78 1h0m126-12h0m183 14h0m9-1h0m67 7h0m3-19h0m27 14h0m82-14h0m8 11h0m5 7h0m4-2h0m39-4h0m29 3h0m72-10h0m15-2h0m7 9h0m5-9h0m15 14h0m-1035 21h0m179-6h0m39-10h0m23 0h0m25 9h0m9 1h0m36-2h0m22-10h0m79 10h0m70 0h0m6 6h0m62-16h0m16 15h0m111 3h0m33-7h0m6-8h0m55 6h0m3-6h0m27 7h0m19 7h0m8 0h0m112-12h0m12 12h0m6-2h0m14-5h0m14-8h0m5 1h0m22 6h0m50 9h0m22-13h0m-1100 22h0m147 6h0m157 0h0m33-13h0m28 4h0m328 9h0m64-5h0m119 3h0m38-9h0m62 0h0m15-1h0m8 9h0m21-1h0m-986 27h0m116 0h0m173-16h0m39 2h0m26 4h0m5 2h0m68-2h0m251-5h0m20 6h0m56 6h0m21 5h0m18-12h0m4-6h0m41 9h0m4 0h0m11-3h0m85 2h0m19-2h0m37 6h0m12-9h0m28-1h0m-919 30h0m108 3h0m44 2h0m11-16h0m50 4h0m135 6h0m54-4h0m134-2h0m73 2h0m36-7h0m66 17h0m66 1h0m7-17h0m84 4h0m10 13h0m29-9h0m36 8h0m-954 12h0m73 3h0m11-3h0m17-8h0m56 12h0m24 4h0m80-1h0m26 3h0m10-3h0m155-6h0m30 0h0m91-6h0m36 2h0m4-3h0m28 7h0m122 0h0m33-3h0m1 4h0m21-1h0m4 7h0m50-6h0m22 6h0m54-18h0m8 12h0m-1112 23h0m30 4h0m43-2h0m48-12h0m53 6h0m21 8h0m47-8h0m40-6h0m38 2h0m53 5h0m48 3h0m33-4h0m1 5h0m10-6h0m23-5h0m19 7h0m57-7h0m21-4h0m4 12h0m84-4h0m102 9h0m48-14h0m17 6h0m39-1h0m9 10h0m9-14h0m36 0h0m30-1h0m18 14h0m12-17h0m33 19h0m37-17h0m5 12h0m11-11h0m-940 35h0m38-17h0m20 4h0m7 9h0m28 2h0m100-9h0m34 1h0m18 7h0m169-13h0m7 1h0m85 12h0m90-4h0m16-4h0m77 3h0m100-3h0m66-2h0m1 4h0m35 2h0m8 4h0m0-4h0m13-10h0m-982 35h0m49-14h0m20-3h0m44 14h0m115 2h0m22 4h0m16-12h0m111 1h0m9-5h0m7-1h0m36 13h0m38-13h0m91-3h0m65 3h0m16 12h0m21 0h0m17 5h0m35-16h0m40 3h0m6 3h0m54 7h0m18-7h0m28 9h0m1-12h0m10 4h0m2 6h0m44-2h0m10-5h0m17 5h0m13-9h0m14-4h0m-932 28h0m58-1h0m10 0h0m37-1h0m24 7h0m35-9h0m205 10h0m6-6h0m26-5h0m8 10h0m43-6h0m36 5h0m12 4h0m47-6h0m94 4h0m70-2h0m10-12h0m62-1h0m45 9h0m25 0h0m38-7h0m-993 25h0m50-2h0m11 1h0m14 5h0m56-7h0m28 7h0m49 6h0m54 1h0m151-1h0m144-13h0m94 0h0m68-4h0m26 18h0m41-8h0m160-3h0m5-7h0m1 6h0m-947 13h0m38 13h0m13-8h0m50-4h0m7 17h0m0-13h0m5 0h0m363 5h0m13 9h0m24-3h0m161-6h0m27 6h0m93 4h0m73-3h0m-874 13h0m2-6h0m64 0h0m47 8h0m74-3h0m0-6h0m88 1h0m119-1h0m36 5h0m1-3h0m40 12h0m59 0h0m3-12h0m96-5h0m63 1h0m29 15h0m42-11h0m103 14h0m5-17h0m31 0h0m-891 26h0m46-7h0m35 2h0m18-1h0m29 4h0m38 3h0m4-1h0m53 3h0m163-9h0m1 15h0m36-12h0m17 2h0m170 11h0m8-14h0m54 12h0m25-14h0m50 1h0m35 13h0m-777 23h0m32-7h0m82-9h0m122-1h0m71 7h0m103 9h0m76-10h0m44-7h0m49 5h0m68-5h0m-282 31h0m76 7h0m13-1h0m4-17h0m44 1h0m130 4h0m7 12h0m104 2h0m-668 6h0m21-5h0m32 2h0m5 15h0m388-13h0m18-5h0m23 12h0m29 6h0m49-10h0m54-2h0m4-6h0m28 5h0m-686 27h0m87 1h0m380-8h0m99-5h0m92 5h0m-695 19h0m36 1h0m40 11h0m60 2h0m7 1h0m1-12h0m72 2h0m12-7h0m7 1h0m121 17h0m43-16h0m70 9h0m55-4h0m27-4h0m22 0h0m78 10h0m-567 17h0m50-3h0m175 3h0m54-9h0m79-2h0m37 5h0m40 6h0m9-2h0m28-4h0m17-3h0m-582 19h0m34 6h0m91 5h0m111 1h0m47 3h0m141-10h0m30-6h0m63 2h0m7 4h0m29 7h0m30-9h0m-519 27h0m453 5h0m43-13h0m-530 34h0m37-2h0m213-14h0m56 7h0m124-6h0m57 0h0m-460 32h0m8-13h0m5 6h0m208 3h0m9-8h0m79-2h0m64 9h0m-363 25h0m61-13h0m267 4h0m-322 20h0m107 8h0m8-7h0"/>
<path stroke="#f10000" d="M387 272h0m69 217h0m-52 189h0m73-11h0m126 111h0m22-3h0m111 72h0m-9 32h0m42 57h0m183 11h0m204 2h0m-100 86h0m2 7h0m-323 63h0m-62 31h0m187-13h0m-380 119h0m292 38h0m323 62h0m-792 165h0"/>
<path stroke="#57ffa8" d="M267 278h0m143 1h0m-135 10h0m69-7h0m38 4h0m-76 25h0m123 2h0m-122 13h0m7-4h0m11 11h0m84-11h0m27 8h0m-117 29h0m-58 19h0m45 1h0m38-18h0m27 10h0m15-3h0m50 11h0m-60 5h0m78 4h0m28 3h0m14 7h0m-135 17h0m66-7h0m26 2h0m15 5h0m-165 9h0m34 0h0m-40 19h0m1 11h0m192-9h0m-174 33h0m29-6h0m16 1h0m167 1h0m4 3h0m50 2h0m-291 5h0m65 7h0m-91 14h0m181-3h0m79 6h0m3-5h0m112 8h0m-347 18h0m129-9h0m94 8h0m122 8h0m-241 10h0m92-1h0m130 3h0m-307 12h0m13 7h0m165 3h0m51 3h0m40 1h0m28-13h0m51 17h0m11-4h0m13-2h0m-257 27h0m36-2h0m11-6h0m39 2h0m75-6h0m53 3h0m-317 19h0m30 2h0m62 5h0m20-14h0m52 13h0m173 2h0m-195 14h0m7-7h0m2 8h0m5-2h0m9 5h0m52-11h0m48 6h0m8 3h0m51-11h0m32 18h0m1-4h0m31 0h0m-47 7h0m65 0h0m2 6h0m-471 27h0m7-4h0m15 5h0m277-7h0m80-2h0m45 4h0m36-7h0m-444 25h0m8 8h0m11 1h0m229-5h0m68 5h0m10-19h0m66 5h0m33 10h0m5 1h0m-377 5h0m260 16h0m22-1h0m133-11h0m31 1h0m-490 25h0m9 5h0m85-6h0m11 6h0m133-13h0m17 8h0m118-7h0m46 6h0m61 10h0m4-11h0m-435 29h0m421-5h0m43 3h0m4-9h0m2 11h0m8-6h0m-544 14h0m33 6h0m100-1h0m72 9h0m71-19h0m86 11h0m17 2h0m35 5h0m23-7h0m18-7h0m70 3h0m106 3h0m-478 20h0m129-4h0m193 10h0m92-16h0m15 14h0m46 2h0m333 2h0m-953 12h0m17-6h0m33 4h0m2 6h0m11 3h0m128-8h0m330-6h0m75 0h0m33 0h0m57-2h0m253 13h0m20-9h0m5 3h0m4 9h0m-918 6h0m18 13h0m111 3h0m26-9h0m55 5h0m13-12h0m77 6h0m191-9h0m21 13h0m12-4h0m24 9h0m13-3h0m34 0h0m3 4h0m43-11h0m72-2h0m51 9h0m15-15h0m28 16h0m19-1h0m42-14h0m5 14h0m-903 20h0m8 0h0m43 4h0m180-12h0m22 7h0m0-13h0m86 10h0m24-9h0m78 12h0m23-9h0m98 13h0m15-5h0m14-8h0m27-5h0m80 11h0m33 8h0m7-12h0m55-5h0m120 7h0m83 2h0m6-6h0m-1015 33h0m100-17h0m1 3h0m107 6h0m61-7h0m17 13h0m30 2h0m9-12h0m41 4h0m99 4h0m21 4h0m141-18h0m73-1h0m194 5h0m20 3h0m21 5h0m91-6h0m3 10h0m3 0h0m-1056 10h0m76 5h0m105-9h0m36 1h0m8 7h0m122 7h0m239-2h0m83-15h0m97 9h0m90-7h0m71 8h0m65-6h0m1 11h0m46 2h0m7-10h0m25-2h0m-1057 16h0m51 14h0m6-3h0m13 3h0m61-16h0m77 19h0m31-12h0m18-4h0m244 13h0m8-13h0m55-3h0m17 4h0m44 13h0m43 0h0m21 0h0m164-7h0m31-5h0m50 0h0m13 13h0m10-6h0m1 5h0m19-17h0m3 16h0m12-8h0m7-1h0m47-1h0m-1013 28h0m189-2h0m26-11h0m83 17h0m25 2h0m81-18h0m84 6h0m32 1h0m104-7h0m242 0h0m105 15h0m14-8h0m-847 26h0m21 0h0m94-6h0m14-1h0m11-1h0m75 12h0m106-12h0m1-7h0m94 20h0m87-10h0m0 6h0m68 3h0m39-11h0m39 0h0m48 8h0m21-15h0m29 0h0m15 10h0m27 9h0m43-7h0m11-12h0m-917 26h0m73-1h0m11 9h0m11 3h0m167-1h0m52-17h0m41 6h0m127 9h0m8 5h0m141-13h0m147 1h0m86 9h0m27-17h0m35 3h0m-1024 22h0m6 13h0m8-7h0m104 2h0m3 1h0m130-14h0m110 4h0m161 1h0m34 5h0m13-7h0m80 16h0m135-9h0m16 2h0m32-5h0m1 11h0m11-2h0m96-15h0m42 17h0m42 0h0m-857 11h0m95-1h0m35-8h0m55 5h0m65 12h0m10-7h0m328-6h0m12 5h0m62-7h0m3 9h0m67-8h0m19 8h0m20 1h0m4-12h0m31 18h0m8-11h0m5 9h0m57 2h0m44-14h0m-1009 19h0m22 14h0m15-14h0m7 0h0m5 6h0m47 6h0m42-12h0m62 4h0m52 2h0m35 0h0m48 9h0m315-4h0m127-10h0m48 12h0m44-15h0m95 14h0m14-11h0m23 1h0m7 10h0m12-10h0m-982 18h0m2 4h0m9 8h0m114-5h0m1 3h0m26 2h0m60 0h0m67-4h0m185-9h0m51 7h0m42 10h0m152-2h0m18-14h0m41 9h0m58-5h0m54 0h0m3-6h0m5 19h0m5-1h0m4-5h0m5 5h0m6-3h0m3-7h0m36-1h0m14-2h0m7 8h0m-854 9h0m74 2h0m51 1h0m65-1h0m5-2h0m24 15h0m336-6h0m72-10h0m53 6h0m8-3h0m10 4h0m12-1h0m5-6h0m2 10h0m7-11h0m0 10h0m90-10h0m50 17h0m-1108 15h0m121 5h0m31-8h0m413 7h0m64-3h0m69-13h0m75 3h0m40 1h0m37 8h0m53 0h0m15 0h0m48-12h0m13-1h0m24 10h0m4-9h0m1 3h0m1 10h0m25 4h0m47-6h0m-1043 19h0m183 2h0m87-7h0m80-1h0m44-5h0m25 17h0m17-1h0m29 1h0m155 0h0m167-12h0m7-1h0m54 5h0m0-4h0m7 1h0m60 13h0m15-2h0m3 2h0m10-6h0m62-10h0m53 10h0m-1095 17h0m301 8h0m7 0h0m54 0h0m97-7h0m5-6h0m10 9h0m236-2h0m137-2h0m170 7h0m11 1h0m15 0h0m6-17h0m13 9h0m-1008 22h0m43-10h0m333 4h0m5-4h0m56-1h0m198 12h0m47 3h0m121-8h0m74-6h0m50 13h0m21-13h0m70 5h0m19 1h0m7-5h0m16 4h0m0 10h0m-1104 13h0m34-3h0m114 5h0m76 6h0m33-5h0m22-2h0m98-3h0m65 11h0m234-16h0m17 15h0m149-16h0m14 1h0m3 14h0m38-6h0m40 2h0m165-7h0m-1058 18h0m69 13h0m4-12h0m51 6h0m125 6h0m23-4h0m36 2h0m29-7h0m27 4h0m9 8h0m7-1h0m75-13h0m216 4h0m57-6h0m4 12h0m133-10h0m96 12h0m38-1h0m13-5h0m20 0h0m23 6h0m-1018 6h0m370 1h0m55 8h0m59 0h0m131-9h0m122 9h0m26 7h0m107-1h0m7-4h0m88 3h0m11-18h0m26 6h0m-1091 29h0m34-1h0m28-3h0m46-3h0m116 1h0m154 3h0m43 5h0m28-1h0m52-8h0m25 3h0m10 5h0m83 1h0m80 0h0m24 0h0m32-14h0m11 7h0m33-2h0m65-4h0m53 10h0m-897 14h0m80 5h0m5-5h0m35 2h0m1 3h0m26-9h0m24 12h0m14 1h0m232-3h0m113-5h0m87 1h0m29 5h0m94-12h0m80 11h0m15-11h0m29 13h0m18-1h0m9-7h0m-823 23h0m74 7h0m53-10h0m50 6h0m115-1h0m19 6h0m10-1h0m73-14h0m60 12h0m9 2h0m87 0h0m162-7h0m34-3h0m33-7h0m-795 26h0m66 10h0m78-7h0m302-9h0m37 11h0m229-6h0m15 8h0m126 3h0m-888 12h0m125 1h0m99 9h0m6-14h0m32 0h0m8 2h0m43-2h0m18 7h0m136 1h0m55-1h0m100 1h0m6 6h0m25-9h0m35 2h0m6-6h0m5 1h0m22 0h0m96 6h0m22-1h0m26 8h0m-898 19h0m9-3h0m83-8h0m63-2h0m89 0h0m35 0h0m73-4h0m14 8h0m5 8h0m12-2h0m42-1h0m24-3h0m26 2h0m27-9h0m6-2h0m94 9h0m8-3h0m93-6h0m54 15h0m24-7h0m-759 18h0m182 8h0m26-7h0m253-1h0m36-8h0m181 8h0m100 0h0m36 8h0m-788 16h0m286-9h0m55-4h0m41 14h0m159 4h0m17 1h0m77-9h0m51 3h0m75-6h0m4 6h0m-820 26h0m72-6h0m9-9h0m43 16h0m8-14h0m5-1h0m7 3h0m171 7h0m66-13h0m52 5h0m49-1h0m7 7h0m109 6h0m19-8h0m-542 19h0m37-5h0m90 14h0m30-9h0m94 0h0m70 10h0m52-7h0m34-7h0m48 11h0m110-10h0m3-7h0m47 4h0m5 16h0m-446 11h0m77-8h0m5 10h0m38 3h0m29 2h0m72 0h0m165-7h0m21 7h0m32-5h0m-632 24h0m111-9h0m3-7h0m60 4h0m130 0h0m17-3h0m8 7h0m50 5h0m26-10h0m7 11h0m7-10h0m-319 27h0m24-9h0m155 13h0m30-1h0m26-13h0m8 2h0m19 16h0m93-11h0m99 7h0m-549 15h0m5-5h0m36-6h0m43 1h0m177 16h0m248-9h0m3-7h0m-502 24h0m42 8h0m52-2h0m80-1h0m1 8h0m26-6h0m29-2h0m257-10h0m-502 28h0m108 1h0m12 8h0m128-5h0m20-4h0m31 6h0m122-3h0m-423 12h0m14 0h0m121 15h0m166-3h0m86-12h0m13 6h0m-370 17h0m79-5h0m154 0h0m27 13h0m-126 14h0m22-1h0m86 9h0m41-11h0"/>
<path stroke="#47ffb8" d="M293 295h0m8-12h0m75 8h0m-63 24h0m11-5h0m59-1h0m-34 25h0m11-11h0m37 11h0m33-13h0m-152 27h0m60 3h0m15 1h0m82-4h0m27-2h0m-180 19h0m99 32h0m15-8h0m43 10h0m-155 3h0m75 6h0m105 9h0m-1 4h0m54 15h0m-242 13h0m63-2h0m254 5h0m-285 27h0m237-11h0m7 4h0m61 1h0m-150 25h0m-146 3h0m326 2h0m-121 30h0m8-6h0m97 2h0m-125 12h0m17 8h0m134 9h0m2-7h0m11 1h0m5-3h0m-188 16h0m60 1h0m-224 18h0m114 0h0m-144 32h0m123 0h0m92-14h0m144 3h0m-375 17h0m284 2h0m29-1h0m57 8h0m-337 9h0m11 9h0m60 5h0m176 5h0m38-10h0m52-7h0m49 6h0m-405 24h0m22 5h0m17-2h0m221-3h0m45-10h0m15 6h0m71 5h0m13 5h0m-426 14h0m8 0h0m20 7h0m22-4h0m8-14h0m209 5h0m4-1h0m34 11h0m48-12h0m121 9h0m-458 10h0m21 2h0m21 0h0m17 12h0m204-15h0m54 8h0m21 6h0m60-12h0m-406 20h0m318 11h0m10-7h0m122 2h0m15-2h0m-377 14h0m98 5h0m252 11h0m96-6h0m12 6h0m-490 13h0m130-5h0m49 1h0m128 1h0m85 3h0m13-9h0m17 6h0m100 10h0m32-11h0m15 0h0m40 11h0m-529 15h0m8-2h0m35-5h0m46-5h0m37 16h0m144-16h0m21 0h0m112 6h0m53 11h0m74 1h0m15 1h0m273-2h0m21 1h0m5-1h0m-675 4h0m82 9h0m34 6h0m7 2h0m140 0h0m9-2h0m410 1h0m-996 7h0m57 8h0m64 3h0m49-5h0m95 9h0m101-7h0m62-4h0m47 5h0m40-12h0m174 12h0m85 3h0m8-12h0m17 12h0m2-6h0m125 6h0m81-1h0m5-9h0m-937 14h0m17 5h0m104 13h0m5-3h0m60-9h0m36 12h0m160-6h0m53-1h0m71-4h0m51 6h0m16 3h0m64 1h0m186-2h0m8-9h0m29 8h0m42-6h0m6-8h0m2 8h0m4 11h0m18-12h0m4-6h0m31 10h0m-949 14h0m11 9h0m100-6h0m57-3h0m58 12h0m36-13h0m99 0h0m35 0h0m143 14h0m45-11h0m20 11h0m40 1h0m41-8h0m97-1h0m32-10h0m21 14h0m35-1h0m20 3h0m3-11h0m-750 31h0m11-4h0m39 4h0m3-8h0m128 7h0m60 1h0m41-1h0m30 3h0m147-16h0m34 1h0m1-4h0m5 14h0m162-7h0m21 0h0m9-7h0m17 17h0m2-11h0m22-5h0m3 9h0m-818 17h0m100 10h0m97 0h0m25-13h0m32 12h0m9-13h0m53 15h0m38-9h0m60-5h0m2 7h0m255 2h0m144-8h0m4 4h0m2-5h0m41 9h0m-993 25h0m66-7h0m71-3h0m43 2h0m9-3h0m2 7h0m78 2h0m26 1h0m167-10h0m50-5h0m153 3h0m10-1h0m15-3h0m25 0h0m38 17h0m5-10h0m9 7h0m25-5h0m155 4h0m18 4h0m37-9h0m-750 18h0m9 2h0m37-3h0m190 11h0m57-3h0m44-6h0m18-2h0m7 2h0m21-6h0m11 14h0m2-13h0m30 6h0m35 10h0m36-6h0m69 0h0m141-4h0m43 0h0m-1016 30h0m36-17h0m204 18h0m40-13h0m87 1h0m12 3h0m37 3h0m157-3h0m97-3h0m10-7h0m69 18h0m30-10h0m159 8h0m25-5h0m46 0h0m-937 13h0m219 14h0m7-12h0m289 5h0m70-3h0m35 1h0m9 9h0m23-3h0m105-9h0m2 3h0m12-2h0m144-6h0m108 10h0m-1063 15h0m98 2h0m31-2h0m138-1h0m425-1h0m7 6h0m20 7h0m77-7h0m11 7h0m15-1h0m85-12h0m27-3h0m-703 31h0m24-12h0m294 7h0m114 9h0m24-7h0m46-1h0m14 7h0m151-3h0m29-4h0m64 7h0m12-11h0m45 2h0m-1094 30h0m5 2h0m78-8h0m203-4h0m15-6h0m231 2h0m94 14h0m160-14h0m117 16h0m46-9h0m46-9h0m35 9h0m40 0h0m0 9h0m27-18h0m-1091 33h0m141-5h0m133 5h0m124-3h0m6 3h0m156 1h0m241 0h0m148-2h0m44-7h0m19 2h0m-954 32h0m226-15h0m123-1h0m57 1h0m21-3h0m59 4h0m266 8h0m66-1h0m50-2h0m15-6h0m14 1h0m-693 19h0m145 6h0m71 5h0m216-4h0m236 3h0m-441 6h0m159 3h0m214 13h0m56-7h0m12-1h0m7-7h0m-937 20h0m455 5h0m135-7h0m454 0h0m-654 27h0m42-4h0m-14 22h0m70 13h0m101-1h0m415-3h0m108-9h0m-965 16h0m13 16h0m274-13h0m142 12h0m79 3h0m121-13h0m-666 28h0m70 2h0m139 0h0m51-7h0m13 3h0m49 4h0m27 2h0m405-2h0m-863 18h0m71-11h0m101 4h0m52 8h0m129-13h0m1 6h0m16-1h0m121 0h0m2-5h0m115 14h0m78 1h0m100 0h0m59 0h0m18-6h0m2 6h0m147-15h0m-985 26h0m6-2h0m104 6h0m5-10h0m230-1h0m202 4h0m45 7h0m125-6h0m60 13h0m19-10h0m20-2h0m67 12h0m68-6h0m-927 8h0m103 18h0m8-7h0m17 7h0m348-17h0m70 15h0m21 3h0m150-10h0m18-8h0m16 18h0m39-14h0m-768 19h0m60 8h0m11 4h0m37-12h0m37 14h0m43-7h0m191-2h0m22 3h0m38-10h0m69 10h0m24 4h0m46-3h0m39-9h0m25-5h0m129 3h0m56-2h0m-810 35h0m46-14h0m12 12h0m173 4h0m137-10h0m56 8h0m129-13h0m51 14h0m139 0h0m17-7h0m-762 30h0m22-15h0m59 0h0m20-4h0m23 13h0m15-12h0m85 13h0m145-2h0m17 3h0m3-12h0m125 2h0m30 4h0m-520 11h0m13 13h0m10-8h0m4 13h0m85-16h0m18 5h0m90 5h0m35-11h0m70 13h0m153-3h0m78-3h0m4 3h0m3 3h0m-609 22h0m16-15h0m28 4h0m43-1h0m116-1h0m233 13h0m119-2h0m24-1h0m148-8h0m-622 17h0m42 14h0m20-16h0m411 16h0m52-3h0m-684 21h0m267 4h0m170 0h0m6-8h0m2-6h0m1 14h0m-417 5h0m3 5h0m75 2h0m13-6h0m139 4h0m150 2h0m103 4h0m122-10h0m-490 35h0m28-20h0m92 10h0m14-3h0m64 6h0m13 3h0m65-2h0m30-5h0m52-1h0m-487 27h0m15 3h0m47-9h0m294-7h0m-324 21h0m23 13h0m193 4h0m102-10h0m120-10h0m9 2h0m-469 29h0m198 4h0m60 1h0m12 2h0m127-16h0m3-2h0m13 15h0m17-13h0m-334 36h0m154-14h0m10 0h0m1 11h0m17 3h0m21-14h0m10 5h0m13 7h0m62-2h0m-328 9h0m160 13h0m51-10h0m13-6h0m-113 26h0m87 3h0m52-1h0m-176 14h0"/>
<path stroke="#c8ff37" d="M372 283h0m36 87h0m-126 25h0m50 2h0m15-17h0m21 19h0m136-5h0m-150 15h0m87-4h0m80 4h0m-82 25h0m121-14h0m-218 21h0m17 18h0m32 0h0m40-14h0m-161 28h0m68-1h0m-2 14h0m161 3h0m60 0h0m7 22h0m-204 21h0m9-9h0m87 1h0m35-1h0m68 3h0m7-4h0m10 27h0m26 3h0m-215 25h0m253 3h0m-354 3h0m54 10h0m44 13h0m-38 33h0m35-15h0m33 10h0m204-10h0m-188 30h0m1-5h0m19-6h0m173 3h0m55 6h0m-262 13h0m248-4h0m-329 32h0m93 2h0m-34 24h0m53-5h0m13 4h0m112-4h0m-223 22h0m75 1h0m194-14h0m172 12h0m-380 6h0m1 19h0m65-2h0m306-11h0m-508 15h0m74 4h0m-77 24h0m87-7h0m1 10h0m141 4h0m98-16h0m172 0h0m-314 21h0m34 9h0m9 7h0m74-9h0m5 2h0m19 6h0m16 12h0m53 8h0m12-3h0m-416 16h0m42-9h0m59 3h0m588 10h0m-691 18h0m17 6h0m28-12h0m58-3h0m148 14h0m203-4h0m-446 12h0m75 3h0m70 11h0m107-18h0m293 30h0m-440 20h0m34-3h0m-92 20h0m428 10h0m-312 15h0m484 0h0m293-6h0m-844 17h0m392 6h0m373 8h0m-857 40h0m386-16h0m47 4h0m-203 15h0m260 7h0m-446 18h0m148-4h0m573 3h0m81 10h0m-781 24h0m98 0h0m3-12h0m131 0h0m217 3h0m116-6h0m1 7h0m-575 13h0m39 6h0m31-2h0m140 1h0m9-4h0m110 12h0m144 2h0m4-16h0m31 15h0m5-5h0m140 0h0m76-7h0m76 12h0m-746 10h0m18-5h0m45 0h0m93-1h0m16 3h0m215 10h0m41 3h0m7 0h0m58-8h0m-520 24h0m67-1h0m39-3h0m75-2h0m19 0h0m228-8h0m17 15h0m8-7h0m26 9h0m31-13h0m13 12h0m175-6h0m-799 22h0m79 5h0m27-17h0m8 15h0m53-6h0m35 4h0m20-2h0m12-5h0m249 7h0m63-6h0m80-5h0m69 3h0m-597 17h0m9 16h0m7-4h0m50-6h0m37 3h0m75 2h0m256 0h0m43-1h0m39-8h0m4 7h0m101 8h0m18-19h0m101 4h0m-800 26h0m157-7h0m404 2h0m40 12h0m58 2h0m3-6h0m64-1h0m84-7h0m-737 17h0m15 6h0m119-2h0m35 4h0m33 1h0m371-7h0m22 4h0m116-4h0m-808 46h0m39-3h0m57 27h0m617-14h0m32 2h0m-697 37h0m114-7h0m83-11h0m-187 34h0m563-5h0m194 13h0m-802 25h0m682 1h0m-189 19h0m219 5h0m-713 18h0m20 1h0m505-7h0m-515 27h0m27-2h0m9 3h0m456-10h0m188 16h0m-718 12h0m70-7h0m371-3h0m264 1h0m-697 19h0m114 6h0m395 38h0m-20 21h0m-392 15h0m56 4h0"/>
<path stroke="#0000a0" d="M402 282h0m144 169h0m176 188h0m-151 33h0m-7 96h0m353 10h0m-2 59h0m290 24h0m-779 83h0m574 74h0m251 89h0m-718 316h0m343 9h0m-1 23h0m7 1h0m-178 18h0m26-1h0m-62 14h0m39-5h0m-90 26h0m6 30h0m14-2h0m98-16h0m-64 37h0m44-16h0"/>
<path stroke="#06fff9" d="M270 290h0m84 17h0m-16 33h0m16 0h0m8 81h0m264 94h0m-321 56h0m-2 19h0m-6 22h0m210-10h0m26 9h0m-36 13h0m1 13h0m-218 36h0m233-8h0m49-1h0m1 13h0m42 21h0m-329 14h0m219-4h0m177-7h0m-55 35h0m78-1h0m-119 13h0m49 1h0m11 7h0m6 11h0m145 12h0m11 0h0m-129 2h0m278 7h0m-689 28h0m474 0h0m25 1h0m2-15h0m23 6h0m129 3h0m-289 13h0m352-2h0m10 24h0m-549 28h0m410-11h0m21 10h0m6-1h0m-39 28h0m209-9h0m-539 11h0m76 9h0m31-3h0m135 3h0m188 6h0m-121 12h0m-300 12h0m44 19h0m24 7h0m437 46h0m-646 18h0m640-8h0m10 63h0m-396 21h0m116-3h0m6-1h0m-372 152h0m37 19h0m435-1h0m25 1h0m18 20h0m143 6h0m-489 3h0m274 5h0m38-2h0m-333 24h0m392-5h0m-14 31h0m-28 12h0m-275 30h0m-143 14h0m72 6h0m42-12h0m2 3h0m13 7h0m10-5h0m36 2h0m338 3h0m-550 22h0m51-1h0m143-1h0m-79 7h0m-36 18h0m20 8h0m4 11h0m-36 19h0m8 0h0m18-17h0m15 7h0m245 4h0m-474 26h0m62-19h0m208 33h0m-45 15h0m5-5h0m-4 34h0"/>
<path stroke="#67ff98" d="M283 295h0m109-3h0m14 3h0m-38 13h0m16 5h0m6 0h0m-124 26h0m9-9h0m5 3h0m39-3h0m5-9h0m64 2h0m6 5h0m14 8h0m24-1h0m-153 20h0m57 4h0m22-6h0m45 0h0m4 0h0m-144 21h0m39-7h0m128-3h0m48 7h0m-206 20h0m54-3h0m104-2h0m26 13h0m7-14h0m14 6h0m-185 14h0m93 11h0m99-15h0m-95 20h0m184 12h0m-280 9h0m15 4h0m288 0h0m-245 20h0m76 4h0m131 7h0m-209 15h0m-29 17h0m196 0h0m3 11h0m-111 7h0m59-1h0m-97 16h0m18 7h0m166 4h0m92-1h0m8-6h0m-356 20h0m21 4h0m15-6h0m141 6h0m89 3h0m11 0h0m58-8h0m3 12h0m-170 12h0m11 10h0m43-9h0m14-3h0m108 10h0m7 1h0m22-18h0m29 16h0m-434 22h0m159-10h0m23 1h0m42 1h0m90 5h0m94-10h0m9-1h0m3 10h0m-414 12h0m27-6h0m61 14h0m10 6h0m67-12h0m1 8h0m46-13h0m39-1h0m162-2h0m8 2h0m14 17h0m-239 20h0m38-5h0m-227 11h0m52 7h0m57-6h0m153 7h0m123-6h0m13-3h0m63 2h0m-419 28h0m289-1h0m29-10h0m91 0h0m29 15h0m20-2h0m-396 13h0m37-5h0m68 5h0m16 3h0m66 3h0m149-12h0m12 15h0m17 0h0m-475 12h0m84-6h0m49 6h0m160 4h0m26-5h0m66 4h0m83-3h0m91-8h0m0 11h0m-524 13h0m5 3h0m243-9h0m19 20h0m105-12h0m119 11h0m16-19h0m-525 38h0m48-5h0m74 6h0m161-14h0m40 6h0m120 3h0m72-3h0m17-4h0m40 7h0m6-7h0m0-7h0m16 20h0m3-9h0m22 6h0m-570 23h0m46-16h0m42 13h0m159-10h0m116-2h0m103-2h0m25 13h0m-574 9h0m113 12h0m23-8h0m21 3h0m11-8h0m61 11h0m20-6h0m170 9h0m2-10h0m1-8h0m41 17h0m92-12h0m5 7h0m15-10h0m8 8h0m7-5h0m14-3h0m6 4h0m16 0h0m33 13h0m13-3h0m22 2h0m7-3h0m154 0h0m60 4h0m101-14h0m3 4h0m-964 26h0m216-11h0m11-3h0m11 8h0m68-4h0m240 3h0m216-1h0m5-5h0m4 1h0m5 7h0m51 7h0m14-10h0m16 10h0m7-8h0m30 11h0m25-9h0m3 3h0m53 0h0m-953 14h0m87-7h0m15 5h0m22 10h0m28-9h0m66 0h0m15 3h0m41-6h0m22-3h0m66 8h0m28-7h0m73 10h0m8-8h0m14 2h0m33-2h0m88-3h0m19-1h0m25 14h0m11-11h0m23-2h0m30 0h0m22 14h0m98-14h0m19 19h0m3-20h0m94 6h0m10 3h0m6-7h0m-1043 23h0m113 13h0m79 2h0m3-14h0m155 13h0m23-6h0m22-8h0m13 12h0m4-16h0m10 18h0m9-16h0m275-2h0m84 13h0m81-6h0m68 9h0m71-15h0m1 9h0m27-4h0m-863 25h0m44-2h0m121-6h0m87 8h0m82-8h0m63 0h0m88 0h0m147 12h0m12 0h0m27-5h0m7-8h0m88 16h0m8-9h0m31 9h0m91-2h0m-989 8h0m26 4h0m126-3h0m27-4h0m8 15h0m49-15h0m53 16h0m11-7h0m1 6h0m108-11h0m14-3h0m23 5h0m1 10h0m48 0h0m8-13h0m72 5h0m116-2h0m53 11h0m7-3h0m48-10h0m32-2h0m4 9h0m47-2h0m2-7h0m63 8h0m25 6h0m12 0h0m-1057 10h0m20-6h0m86 12h0m2 6h0m56-3h0m53-14h0m7-1h0m49 1h0m26 4h0m67-4h0m42 6h0m109 6h0m52-7h0m5-7h0m45 8h0m101-2h0m4-4h0m143 7h0m54-2h0m52-3h0m63 9h0m6-3h0m24-1h0m-843 12h0m20 10h0m22-2h0m28 4h0m15-11h0m11 16h0m183 1h0m202-17h0m64 6h0m15 10h0m15-5h0m35-8h0m85 1h0m81 0h0m29 7h0m9-10h0m5-2h0m-832 32h0m43-11h0m41 6h0m6 3h0m4-10h0m41 16h0m44-13h0m103 12h0m56-3h0m21-9h0m7 3h0m54-3h0m13-2h0m27 16h0m299-10h0m6-1h0m13 11h0m12-11h0m3 4h0m45-8h0m6 10h0m25 3h0m-973 8h0m14 2h0m55 5h0m6 2h0m81-5h0m26-5h0m35 9h0m45 0h0m12-10h0m17 4h0m15-2h0m7-4h0m23 17h0m116-8h0m164 6h0m56-12h0m50 0h0m29 9h0m14-8h0m24 6h0m14 1h0m20-7h0m8 9h0m6-11h0m30 1h0m30-3h0m11-1h0m24 17h0m0-5h0m19-8h0m25 3h0m27-1h0m-1117 24h0m28-1h0m263-9h0m65 16h0m8-5h0m26-7h0m19 9h0m127 0h0m80 3h0m82 0h0m89-9h0m3 2h0m21 3h0m62-7h0m33 8h0m51-10h0m98 7h0m19-4h0m9 13h0m33-13h0m-1110 34h0m89-3h0m5-9h0m17-7h0m100 19h0m57-12h0m10 10h0m40-13h0m5 4h0m36-1h0m33-5h0m1 11h0m43 3h0m32-5h0m36-1h0m101-4h0m52-2h0m32 13h0m105-13h0m58 4h0m4-5h0m30 13h0m8-6h0m2 7h0m79-7h0m15 4h0m12-14h0m2 12h0m14 1h0m34-4h0m6-2h0m3-6h0m-1040 37h0m37-1h0m68-2h0m28-10h0m33 0h0m42 2h0m84-5h0m62-2h0m50 5h0m1 10h0m57-7h0m27-2h0m8 8h0m136 0h0m58-12h0m29 1h0m8-2h0m102 6h0m69 2h0m60 6h0m13-15h0m6 9h0m9 6h0m33-2h0m9-3h0m21 2h0m16 0h0m7-13h0m-1088 23h0m3 16h0m30-8h0m2-2h0m35 8h0m45 2h0m37-6h0m36-1h0m41-9h0m27 2h0m36 11h0m32-13h0m19-2h0m38 4h0m120-5h0m39 1h0m116 1h0m3 4h0m18 0h0m40 0h0m148 9h0m15-3h0m49-4h0m14-8h0m11 5h0m24 14h0m53-5h0m53-9h0m7 7h0m9-9h0m3 5h0m-1064 20h0m204-1h0m48 7h0m60-13h0m25 15h0m75 3h0m31-8h0m23-1h0m8 6h0m172 1h0m135-3h0m19-13h0m11 11h0m11 4h0m20 4h0m80-6h0m1-14h0m8 6h0m37-1h0m5 7h0m8-7h0m22 9h0m2-12h0m19 0h0m22 16h0m2-14h0m5 2h0m-1058 25h0m60 8h0m104-1h0m24-1h0m193-10h0m36 8h0m193-3h0m70-11h0m8 1h0m38 14h0m10-3h0m8-3h0m40 5h0m49-4h0m155 6h0m18-14h0m10 14h0m19-8h0m9 2h0m12-10h0m15 11h0m-1116 23h0m36-5h0m122 2h0m112-7h0m32 7h0m31 3h0m0-8h0m5 5h0m26-7h0m11 3h0m64 0h0m18-5h0m15 11h0m182-4h0m99 7h0m100 1h0m19-3h0m11 5h0m3-3h0m62 1h0m5-1h0m22-2h0m116-14h0m13 7h0m-1038 19h0m316 0h0m18 12h0m3-3h0m101-6h0m27 1h0m326 4h0m70 4h0m1-8h0m33-10h0m1 11h0m31 1h0m5-10h0m75-2h0m12 19h0m1-13h0m28-3h0m-1006 35h0m28-13h0m182 9h0m87 0h0m265 1h0m58-3h0m190 6h0m44-12h0m37 11h0m41-12h0m25 0h0m15 0h0m-1080 28h0m62-2h0m21 4h0m36-15h0m132 9h0m7-6h0m160 2h0m40 11h0m3-10h0m40 9h0m15-9h0m59-5h0m22 11h0m53 4h0m127-17h0m138 1h0m65 19h0m22-8h0m80 2h0m-991 22h0m108 3h0m16-1h0m13-2h0m91-6h0m13-1h0m68-5h0m39 15h0m11-17h0m95 16h0m49-11h0m34 5h0m92 5h0m4-11h0m17 12h0m120-14h0m33 5h0m29 7h0m45-5h0m38 4h0m-1001 17h0m75 0h0m67-9h0m38 6h0m4-7h0m47 15h0m101 1h0m1-10h0m18-6h0m67 4h0m5-4h0m28 14h0m45-11h0m58 4h0m8 0h0m72-1h0m17 2h0m5 6h0m7-13h0m78 1h0m65-2h0m221 1h0m10 14h0m-969 19h0m134-8h0m122 12h0m19-5h0m134 0h0m66 0h0m69-5h0m117 1h0m65 2h0m93 2h0m13-13h0m17 14h0m46-2h0m41-4h0m-969 23h0m7 0h0m37 2h0m35-6h0m72 4h0m17-2h0m193 0h0m77 7h0m71-17h0m81 15h0m288-3h0m58 2h0m-975 17h0m117-11h0m8 5h0m10-4h0m55 9h0m64-7h0m13 10h0m31-9h0m27 5h0m12 7h0m49-2h0m32-13h0m7 16h0m41 0h0m49-6h0m100-5h0m30 4h0m11 0h0m46 8h0m14-6h0m28-6h0m16 5h0m39-3h0m33 3h0m34 3h0m42-2h0m-896 23h0m7-1h0m31 2h0m20 2h0m15-13h0m10 9h0m183-8h0m35-6h0m175 3h0m7 1h0m15-1h0m10 7h0m49-8h0m65-2h0m94 2h0m60 11h0m55-5h0m60 1h0m4 0h0m-893 15h0m36 9h0m77-12h0m33 8h0m94 1h0m125-7h0m14 4h0m5 1h0m92 9h0m42-3h0m19-3h0m43-6h0m26 12h0m22-2h0m29 2h0m48-15h0m49 2h0m28 5h0m51 8h0m-794 11h0m6-1h0m62-5h0m14 0h0m52 10h0m67 2h0m60-10h0m140 9h0m9-5h0m42 4h0m6 1h0m5-10h0m82-3h0m20 4h0m-567 18h0m8 16h0m140-11h0m14 4h0m189-11h0m63 11h0m116-10h0m23 6h0m113 4h0m87-10h0m-791 27h0m18-5h0m65 10h0m27-12h0m25 9h0m12 1h0m55-10h0m13 0h0m75 5h0m28 6h0m14 0h0m31-1h0m49-1h0m6-8h0m6-2h0m-431 28h0m59-9h0m5 4h0m252 3h0m181-3h0m73-3h0m9 12h0m15-3h0m15 4h0m-598 8h0m33 11h0m106-8h0m3 1h0m96 11h0m65-15h0m95 7h0m42-5h0m38 2h0m4-2h0m70 14h0m83-3h0m26 2h0m31-13h0m-669 32h0m76-15h0m7 14h0m230-10h0m53 14h0m52-5h0m17 0h0m16-12h0m74 0h0m109 12h0m-634 22h0m316 2h0m14 1h0m10-4h0m45-13h0m32 13h0m29-3h0m37-2h0m113 6h0m6-9h0m-636 20h0m34-6h0m4 14h0m42 0h0m22-8h0m82-1h0m108 5h0m101-10h0m11 11h0m131 3h0m36-13h0m-548 25h0m10-7h0m39 7h0m41 7h0m38-11h0m16 5h0m204 10h0m0-13h0m-272 31h0m129 2h0m97-12h0m8-5h0m6 3h0m8 2h0m46 10h0m96-3h0m-435 8h0m30 1h0m291 15h0m-135 5h0m134 13h0m-305 7h0m12 14h0m11 3h0m66 1h0m9-15h0m106 13h0m21-16h0"/>
<path stroke="#e9ff16" d="M349 294h0m125 141h0m75-14h0m-80 31h0m27 33h0m59 18h0m30 8h0m25-3h0m-36 13h0m-112 37h0m-21 10h0m97-6h0m63 6h0m-342 40h0m366 0h0m-271 45h0m-6 20h0m-26 61h0m125 24h0m87-15h0m-173 27h0m166 7h0m-176 3h0m86 13h0m-83 15h0m309 10h0m161-16h0m-511 22h0m337 11h0m-355 36h0m15 14h0m-4 15h0m89 72h0m343-11h0m205 62h0m117 37h0m-157 6h0m-541 25h0m597-7h0m-528 28h0m115 6h0m245-2h0m-349 22h0m385-15h0m-571 30h0m29 0h0m173 6h0m373-4h0m83-7h0m-620 26h0m52 0h0m63-13h0m466 18h0m-595 6h0m147-1h0m368 2h0m112 9h0m194-15h0m-798 24h0m247 3h0m250-3h0m77 12h0m0-12h0m66 44h0m66 38h0m-671 37h0m460 35h0m16-11h0m164 1h0m-203 19h0m-469 51h0m77 26h0m425 34h0m3-6h0"/>
<path stroke="#26ffd9" d="M384 299h0m-102 5h0m64-3h0m-21 37h0m15-12h0m37 11h0m-103 4h0m30 42h0m80 8h0m79 4h0m-44 12h0m5-5h0m3 3h0m-144 35h0m285 9h0m-292 93h0m49 18h0m205-6h0m-48 22h0m22-12h0m139 2h0m-98 17h0m10 8h0m70 1h0m-109 23h0m21-14h0m45 11h0m-165 12h0m12-1h0m128 8h0m77 16h0m73 7h0m-35 25h0m46-3h0m-413 5h0m274 12h0m130-9h0m-97 26h0m26 7h0m25-8h0m95 18h0m-454 16h0m240 6h0m62 3h0m43-8h0m15 7h0m35-9h0m24 8h0m40-1h0m84-4h0m-165 25h0m8-10h0m99 9h0m2-8h0m1 12h0m91-11h0m46 13h0m-525 14h0m292-6h0m55 14h0m38-10h0m17 8h0m-103 8h0m5 12h0m20-15h0m28 8h0m12 9h0m263-2h0m-654 18h0m343 3h0m28-8h0m58-6h0m31 3h0m31 12h0m147-1h0m205 1h0m42-13h0m-743 31h0m517-2h0m51 0h0m-739 26h0m297-7h0m131-11h0m5 6h0m24 1h0m38 9h0m39-16h0m12 14h0m147-14h0m112 11h0m56 5h0m81 3h0m-892 7h0m192-2h0m48 14h0m95-5h0m27 2h0m67-7h0m11-5h0m15 7h0m24-8h0m106 13h0m20 0h0m13-11h0m182-1h0m44 14h0m18-17h0m-687 29h0m76 7h0m93-7h0m59 6h0m40 1h0m25-15h0m-407 32h0m230 2h0m153 4h0m35-19h0m86 6h0m6-4h0m-467 33h0m96-14h0m217 12h0m68-14h0m78 19h0m30-11h0m21 2h0m-556 17h0m45-3h0m84 1h0m269 1h0m3 9h0m98-7h0m43 9h0m-337 14h0m355 3h0m20-3h0m-610 21h0m11-1h0m174-4h0m222 5h0m-469 18h0m66 3h0m133 5h0m3-10h0m620 9h0m146-10h0m-1061 29h0m74-15h0m492 5h0m205 2h0m-313 12h0m273 18h0m-491 16h0m192 5h0m2-7h0m515 7h0m-934 12h0m417-6h0m-354 32h0m158-3h0m48 3h0m112-15h0m65 8h0m488-6h0m123 5h0m-863 14h0m589 13h0m-769 7h0m245 16h0m156-1h0m61-4h0m360-12h0m-371 32h0m245 4h0m-576 12h0m191 2h0m433-5h0m-13 15h0m-663 31h0m5-2h0m30-7h0m4 5h0m9 4h0m57-3h0m4 5h0m385-2h0m123-4h0m-144 19h0m260-3h0m66 14h0m-310 18h0m61 0h0m-429 22h0m41 1h0m377-9h0m58-8h0m72 10h0m31 0h0m-679 24h0m80 1h0m10-16h0m51 6h0m55 1h0m-281 12h0m316 13h0m282-7h0m-441 15h0m75 11h0m16-7h0m20 1h0m10 5h0m7-5h0m54 8h0m265-12h0m-495 23h0m6-4h0m21 0h0m5 8h0m111-3h0m32-5h0m9 7h0m72 5h0m44-2h0m8 8h0m-382 18h0m92-12h0m100 1h0m185 11h0m-265 15h0m144-10h0m-110 20h0m37 10h0m33-12h0m60 15h0m-88 18h0m125-8h0m91 0h0m-384 38h0m208 4h0m33-7h0m59 0h0m-156 29h0m166-1h0m-299 16h0m162-1h0m28 31h0m31-2h0m7-5h0m5-4h0"/>
<path stroke="#00e5ff" d="M325 330h0m209 309h0m2-11h0m89 39h0m101 124h0m43 15h0m-493 18h0m441 30h0m216-8h0m-75 29h0m149 19h0m5 0h0m-367 44h0m353-11h0m-374 22h0m351 17h0m6 0h0m-696 284h0m197 2h0m-20 14h0m450 91h0m-332 25h0m13 18h0m-34 13h0m49 3h0m-140 10h0m15 5h0m91-3h0m-36 45h0m115 33h0"/>
<path stroke="#d9ff26" d="M257 357h0m240 9h0m-144 25h0m-19 47h0m148-5h0m-126 21h0m84 1h0m-148 12h0m3 3h0m109 10h0m48-7h0m17 1h0m6 4h0m3-13h0m-215 44h0m144-1h0m-70 21h0m5-6h0m30 11h0m128-13h0m-153 22h0m108 28h0m151 5h0m-350 63h0m146 21h0m51 1h0m-105 32h0m121 5h0m-125 6h0m73 12h0m118-11h0m-243 80h0m39 11h0m-63 23h0m184-17h0m134 8h0m72-4h0m-352 31h0m98-2h0m45 5h0m-154 22h0m405 16h0m-444 13h0m63 9h0m58 9h0m61 0h0m122-6h0m155 43h0m33-3h0m379 0h0m-700 18h0m649 6h0m-657 30h0m222 18h0m76 3h0m190-14h0m-89 23h0m-386 40h0m12 7h0m7 0h0m144-3h0m163 3h0m224-1h0m-441 14h0m24 12h0m400-15h0m-574 36h0m221-13h0m317 6h0m58 6h0m127-17h0m-519 19h0m58 1h0m119 7h0m-292 25h0m64-11h0m376 0h0m-514 26h0m54 0h0m167 4h0m177 5h0m67 0h0m36-17h0m191 2h0m-732 29h0m66-10h0m453 6h0m115 21h0m196-4h0m-452 25h0m183 1h0m-546 17h0m143-5h0m244 2h0m26 15h0m262-13h0m39-5h0m-242 21h0m47 0h0m-399 37h0m210 0h0m-172 51h0m485-3h0m-243 25h0m60-1h0m-63 20h0m-493 25h0m460-1h0m63 3h0m-521 10h0m97 10h0m454-14h0m-505 48h0m260 19h0m67 80h0m-217 8h0m123 18h0"/>
<path stroke="#16ffe9" d="M298 358h0m10 2h0m30 5h0m-66 18h0m134 35h0m192 35h0m-294 44h0m-3 30h0m227 12h0m2-4h0m-30 23h0m18-5h0m2 5h0m126-10h0m-99 28h0m-245 21h0m-9 4h0m419 13h0m-318 20h0m240 1h0m-293 6h0m240 8h0m-259 18h0m235 4h0m83 3h0m58-3h0m44 3h0m-192 8h0m86-2h0m87 11h0m-385 17h0m142-5h0m145 16h0m11 8h0m76 12h0m-151 2h0m51 12h0m34-3h0m32 6h0m25-9h0m32 9h0m-117 25h0m67 15h0m1-11h0m60 0h0m1-5h0m27 7h0m28 12h0m32-6h0m-452 18h0m-114 19h0m18-8h0m95 9h0m346 2h0m17-2h0m31 4h0m24-13h0m108 18h0m-472 13h0m38-9h0m239 16h0m124-6h0m442-8h0m-801 20h0m261 13h0m258-15h0m-112 33h0m-404 8h0m205 14h0m211-7h0m38-7h0m332 13h0m-653 15h0m242-3h0m5-2h0m17 0h0m124 9h0m18-1h0m-417 5h0m21 0h0m29 2h0m46-1h0m112 7h0m17-6h0m115 7h0m20-8h0m36 11h0m22-11h0m-748 26h0m226 5h0m332 2h0m155 0h0m38-15h0m-749 30h0m759-4h0m-574 33h0m395-1h0m370 1h0m-762 18h0m778 29h0m-504 27h0m-453 22h0m445-6h0m14 4h0m-17 18h0m-313 79h0m25 9h0m-145 13h0m140 19h0m46 22h0m134-10h0m-270 21h0m108 16h0m83-3h0m204-11h0m135 12h0m227-5h0m-710 18h0m489 7h0m187-1h0m17-7h0m-804 23h0m324-5h0m13 3h0m317 0h0m-665 25h0m133-14h0m190 3h0m4 10h0m480 0h0m-812 13h0m4 4h0m617 8h0m185-14h0m-636 26h0m41 3h0m52-4h0m2 9h0m58-14h0m20 3h0m20 6h0m-209 19h0m6 3h0m109-6h0m-118 26h0m30-12h0m4-3h0m116 14h0m37-13h0m33 15h0m27-6h0m0-7h0m-59 30h0m106-10h0m-234 19h0m8-2h0m75 0h0m119 11h0m33 1h0m31 0h0m-102 7h0m3 19h0m47 5h0m-174 30h0m14-3h0m7 3h0m13-14h0m166 3h0m-178 31h0m76 15h0m-34 19h0"/>
<path stroke="#ff9400" d="M329 358h0m134 87h0m117 72h0m-152 41h0m72 115h0m38 26h0m102 9h0m-31 58h0m22 21h0m127 138h0m-220 91h0m503 12h0m-779 41h0m136 368h0m-68 81h0"/>
<path stroke="#ffd500" d="M435 360h0m304 581h0m-407 500h0"/>
<path stroke="#0063ff" d="M264 367h0m953 487h0m36 49h0m-251 94h0m-622 234h0m271 172h0m-6 22h0m-16 32h0m-61 13h0m306-10h0m-425 22h0m201 17h0m15-6h0m46 5h0m-64 15h0m94 3h0m-423 38h0m373 2h0m-266 14h0"/>
<path stroke="#a00000" d="M297 385h0m123 120h0m-27 55h0m63-9h0m-4 101h0m322 170h0m-58 69h0m197 63h0m-291 14h0m299 49h0m127 14h0m15 11h0m-498 34h0m241 15h0m128 97h0m-655 119h0m407 12h0m-182 226h0"/>
<path stroke="#000090" d="M445 391h0m210 207h0m63 44h0m332 311h0m-698 33h0m-88 51h0m841-12h0m120 103h0m-449 121h0m-275 121h0m369 62h0m-299 30h0m127 6h0m-134 21h0m86 2h0m-34 25h0m99 0h0m-59 14h0m34-7h0m-4 20h0m-221 30h0"/>
<path stroke="#ff8400" d="M313 404h0m81 151h0m63 10h0m219 111h0m-183 70h0m171 21h0m142 26h0m-198 15h0m-87 28h0m591 58h0m-235 77h0m1 16h0m193 30h0m-151 11h0m-266 84h0m137 19h0m309 12h0m55 25h0m-635 87h0m-233 46h0m657 40h0m-364 21h0m235 75h0m-305 132h0m1 7h0"/>
<path stroke="#ff1200" d="M531 404h0m44 124h0m4-4h0m-171 23h0m44 12h0m80 90h0m262 228h0m-89 102h0m102 7h0m179 19h0m-310 76h0m423 87h0m-411 79h0"/>
<path stroke="#0000e1" d="M399 414h0m41 163h0m-115 137h0m857 142h0m-146 181h0m292 122h0m-750 10h0m-22 35h0m144 225h0m-253 25h0m421-2h0m-473 11h0m274 3h0m-181 19h0m185 14h0m-14 14h0m-24 10h0"/>
<path stroke="#ff0200" d="M557 421h0m-2 127h0m-123 20h0m137-8h0m51 73h0m-101 16h0m90 136h0m-296 67h0m476 78h0m-88 20h0m-297 53h0m608 26h0m10 61h0m0 15h0m-43 42h0m-91 27h0m-208 112h0m-395 93h0m262 135h0"/>
<path stroke="#0043ff" d="M395 426h0m553 561h0m100 69h0m-357 136h0m-121 232h0m-285 32h0m124 16h0m141 13h0m65 2h0m-10 17h0m-302 51h0m345 0h0"/>
<path stroke="#00f5ff" d="M580 440h0m-16 25h0m-40 133h0m-28 3h0m5 48h0m42-8h0m31 13h0m-29 24h0m33-5h0m56 24h0m111-12h0m-256 18h0m114 34h0m23 17h0m36-11h0m-14 18h0m66 22h0m122 44h0m-92 13h0m-107 37h0m230 0h0m2-17h0m18 38h0m42-4h0m-312 12h0m12-1h0m240 7h0m40 6h0m132-10h0m3 11h0m-485 15h0m381 3h0m20 37h0m-582 50h0m72-2h0m123 7h0m95 14h0m-163 27h0m-223 40h0m807 172h0m-511 29h0m272 11h0m-257 29h0m-46 47h0m74-10h0m433-2h0m-636 26h0m94 5h0m100-13h0m-150 43h0m107 9h0m-78 22h0m-50 6h0m75 16h0m1-11h0m59 0h0m74-4h0m-156 27h0m25 4h0m26 17h0m-14 30h0"/>
<path stroke="#e10000" d="M374 480h0m103 42h0m-5 21h0m29 80h0m91 5h0m-56 99h0m66 39h0m50-4h0m58 43h0m208 163h0m-119 48h0m116-3h0m33-2h0m59 19h0m-161 24h0m-171 199h0m300 15h0m206-1h0"/>
<path stroke="#f20" d="M389 478h0m-25 40h0m57 13h0m3 17h0m34 56h0m16 85h0m191 58h0m-79 17h0m290 174h0m-614 29h0m659 35h0m158 153h0m-25 12h0m-381 56h0m1 9h0"/>
<path stroke="#ff4300" d="M420 492h0m40 83h0m-77 35h0m119 7h0m195 43h0m-177 12h0m14-1h0m97 123h0m47 37h0m-121 37h0m319 100h0m187 63h0m-288 12h0m328 36h0m-611 119h0m842 3h0m-654 30h0m-31 19h0m14-3h0m38 16h0m10 88h0"/>
<path stroke="#ffe500" d="M552 495h0m-204 29h0m60 232h0m165 48h0m-262 189h0m601 6h0m-526 150h0m670 3h0m-258 40h0m-511 245h0"/>
<path stroke="#d00000" d="M439 515h0m12 27h0m47 42h0m22 71h0m47-2h0m34-12h0m4 180h0m-243 97h0m968 4h0m-289 134h0m40 21h0m-1 59h0m-480 50h0m720 5h0m-100 47h0m-668 67h0"/>
<path stroke="#c00000" d="M411 523h0m191 49h0m-194 49h0m169 3h0m-25 147h0m197 3h0m-251 17h0m98 12h0m30 14h0m115 43h0m60 42h0m35 208h0m246 14h0m-566 25h0m35 373h0m-6 39h0m-34 32h0"/>
<path stroke="#f30" d="M265 529h0m331 12h0m-100 25h0m33 69h0m-48 17h0m64 102h0m131 99h0m-3 20h0m381-1h0m-350 15h0m79 42h0m-496 90h0m708 40h0m-144 28h0m304 37h0m-62 17h0m174 32h0m-754 27h0m166 60h0"/>
<path stroke="#0000b0" d="M320 533h0m123 71h0m6 224h0m145 36h0m-61 45h0m609 12h0m-365 23h0m-155 18h0m676 49h0m51 48h0m-994 25h0m163 9h0m124-13h0m193 167h0m203 12h0m-430 191h0m247 1h0m15 4h0m-327 9h0m0 10h0m323-12h0m15 10h0m-260 15h0m15 7h0m56-12h0m51-2h0m-170 30h0m48 9h0m46-11h0m2 11h0m-240 18h0m198-6h0m22-3h0m38 10h0m55-7h0"/>
<path stroke="#ff7300" d="M429 536h0m144 19h0m-208 19h0m75-1h0m51 81h0m113-4h0m-94 20h0m138 107h0m-43 13h0m48 1h0m11-6h0m-5 51h0m83 79h0m314 98h0m69-7h0m-622 26h0m537-10h0m33 8h0m-501 17h0m495 99h0m-23 66h0m48 6h0m-566 349h0m13 24h0"/>
<path stroke="#900000" d="M333 547h0m107 99h0m72-4h0m36 1h0m47 50h0m182 30h0m-26 177h0m126 78h0m88 41h0m-300 215h0m522 70h0m-383 172h0m9 29h0m-280 61h0"/>
<path stroke="#ff6300" d="M456 548h0m-38 30h0m91 39h0m153 141h0m-37 33h0m10-4h0m97 55h0m353 300h0m-94 96h0m-40 46h0m-329 151h0m-87 152h0"/>
<path stroke="#ffa400" d="M477 546h0m-49 148h0m204-2h0m53 60h0m-58 43h0m12 10h0m153 112h0m82-8h0m-126 39h0m285 187h0m-357 106h0"/>
<path stroke="#00d4ff" d="M502 546h0m128 152h0m-24 31h0m81 40h0m-269 92h0m456 7h0m145 81h0m-762 425h0m336 42h0m-31 35h0m-53 21h0m144 37h0"/>
<path stroke="#b00000" d="M484 556h0m-24 61h0m85 41h0m54 17h0m-104 17h0m34 53h0m123 24h0m8-2h0m-39 24h0m1 19h0m76 95h0m349 250h0m139 32h0m-509 16h0m-410 71h0m302 24h0"/>
<path stroke="#ff5300" d="M557 560h0m-32 93h0m56 13h0m141 121h0m-107 15h0m8 88h0m194 22h0m-170 15h0m196 63h0m71 46h0m-158 171h0m276 25h0m-384 8h0m13 1h0m-19 104h0m181 108h0"/>
<path stroke="#0002ff" d="M353 568h0m178 134h0m-51 75h0m232 304h0m180 50h0m-44 53h0m-174 157h0m140 22h0m131 16h0m-687 8h0m251 18h0m425 8h0m-53 22h0m-467 31h0m160 8h0m68-4h0m-74 22h0m34-1h0m131-8h0m-16 21h0m14 30h0m-97 26h0m22-11h0"/>
<path stroke="#0012ff" d="M545 589h0m181 73h0m-434 147h0m-12 229h0m106 33h0m50 202h0m229-6h0m222 70h0m-36 6h0m88 76h0m-23 14h0m-68 15h0m-382 26h0m98 3h0m167 3h0m-145 15h0m40 21h0m-214 7h0m251 8h0m10 4h0m-182 10h0m133 6h0"/>
<path stroke="#0000d0" d="M256 633h0m488 57h0m320 259h0m-37 47h0m-457 98h0m311 274h0m8 51h0m-29 38h0m12-8h0m-8 20h0m-324 11h0m179 19h0m-299 33h0m270-4h0"/>
<path stroke="#0000c0" d="M726 636h0m-11 18h0m298 314h0m25 36h0m-207 140h0m49 304h0m6-5h0m-346 49h0m16-10h0m29 1h0m45 15h0m41-17h0m31 0h0m0 18h0m5 17h0m-56 27h0m-342 20h0m365 1h0"/>
<path stroke="#0084ff" d="M727 655h0m-145 67h0m627 108h0m-821 169h0m158 439h0m341-6h0m-351 53h0m150 9h0m37 3h0m-197 15h0m185 1h0m1-7h0m-44 43h0"/>
<path stroke="#0000f1" d="M577 678h0m606 164h0m-190 177h0m-93 90h0m283 103h0m33 18h0m-820 143h0m478 69h0m-405 20h0m76 2h0m-78 24h0m17 5h0m-66 27h0m266 4h0m-371 33h0m229 10h0"/>
<path stroke="#02f" d="M542 740h0m16-17h0m-164 123h0m688 9h0m-576 105h0m312 18h0m170 12h0m71 8h0m-20 81h0m-131 156h0m-2 47h0m-366 137h0m356-7h0m-338 13h0m-134 31h0m46 23h0m21-4h0m68 0h0m130 24h0m-62 11h0m77-5h0m-27 17h0m-12 23h0m13 4h0m-212 20h0"/>
<path stroke="#00c4ff" d="M640 748h0m183 106h0m-175 88h0m359 58h0m-496 385h0m102 44h0"/>
<path stroke="#00b4ff" d="M774 799h0m-147 99h0m-15 449h0m-139 82h0m111 9h0m33-6h0"/>
<path stroke="#0053ff" d="M1204 822h0m-151 150h0m-194 121h0m-85 205h0m90 11h0m-91 38h0m-412 38h0m78 69h0m421-13h0m6 3h0m-313 29h0m29-1h0m121-3h0m18 43h0m-211 74h0"/>
<path stroke="#03f" d="M1075 853h0m141 24h0m-149 217h0m-494 324h0m323 23h0m-444 26h0m92 1h0m51-6h0m28 36h0m18-7h0m-209 27h0m293-13h0m-19 22h0m-403 24h0"/>
<path stroke="#000080" d="M1026 940h0m-637 329h0m496-2h0m-8 194h0m-331 37h0m66-3h0m0 6h0m67 15h0m-45 14h0m6-5h0m11 10h0m30 12h0"/>
<path stroke="#0094ff" d="M1034 1096h0m109 150h0m-666 232h0m21 13h0m64 1h0m186 31h0m-94 21h0m6 6h0"/>
<path stroke="#0073ff" d="M447 1318h0m471-14h0m-470 144h0m430-5h0m-414 35h0m56-15h0m177 36h0m-277 6h0m241 20h0m6 13h0m-35 14h0"/>
<path stroke="#7f8" d="M282 268h0m63-3h0m-62 25h0m56-1h0m61 10h0m-140 4h0m57 1h0m99 12h0m0-14h0m15 2h0m6 12h0m-160 5h0m91 5h0m38 0h0m13 3h0m11-3h0m-160 20h0m12-4h0m90 7h0m-32 20h0m-81 30h0m49-10h0m56-3h0m71 6h0m27-2h0m-205 14h0m9 10h0m22 1h0m31-8h0m116 7h0m4 1h0m-116 11h0m51 6h0m80 3h0m104 1h0m-270 15h0m19-8h0m22 0h0m19 12h0m42-4h0m24 7h0m3-10h0m67-2h0m2 9h0m89 3h0m-286 21h0m33-14h0m14 12h0m29 0h0m13-12h0m9-1h0m49 2h0m9 7h0m9 4h0m60 1h0m30 0h0m45-10h0m14-4h0m7 16h0m13-1h0m-199 6h0m76 13h0m135-8h0m-302 27h0m113-1h0m29-1h0m97-7h0m0-2h0m14-3h0m42 0h0m-310 20h0m31 12h0m37-7h0m11-7h0m48 10h0m12 3h0m59-14h0m78 2h0m-233 24h0m120-4h0m31 3h0m84 4h0m19-7h0m12 7h0m33-7h0m-384 31h0m14-2h0m58 0h0m169 1h0m36-2h0m132 6h0m-275 4h0m37 16h0m1-15h0m35 4h0m7 10h0m84-9h0m32 11h0m-305 7h0m64 12h0m36-8h0m51 8h0m164-1h0m3-12h0m36 15h0m-291 9h0m9 1h0m113 1h0m90 5h0m132-5h0m-422 29h0m24-10h0m107-2h0m196 12h0m55-13h0m-363 22h0m61 6h0m0 7h0m108-6h0m16 4h0m159-17h0m88 16h0m-481 13h0m64 6h0m301 1h0m-334 20h0m3-8h0m14-1h0m96-3h0m26-3h0m13 15h0m15-2h0m61 0h0m45-13h0m140 4h0m54-3h0m53 5h0m26 1h0m15 3h0m-524 16h0m157 8h0m22-14h0m15 6h0m237-4h0m68 0h0m15 6h0m3-2h0m2 5h0m-535 26h0m30-10h0m1 4h0m43-10h0m33 12h0m21-9h0m26-5h0m121 12h0m135-5h0m108 0h0m52 5h0m20-7h0m-635 21h0m63-2h0m159-1h0m26 10h0m273 1h0m48-6h0m-574 15h0m71 0h0m39 9h0m4-4h0m27-6h0m46 13h0m2-2h0m11-11h0m14 2h0m55 7h0m54-7h0m2 8h0m59-3h0m7 3h0m15-2h0m155-2h0m8 3h0m15-11h0m-501 31h0m86-8h0m6-2h0m60 1h0m6-1h0m12 16h0m103-3h0m4 3h0m168-7h0m6 7h0m44-1h0m19 0h0m35 0h0m46-6h0m23 0h0m36 1h0m16-2h0m8-1h0m5 9h0m16-8h0m27 2h0m36 6h0m-814 17h0m36 5h0m71-20h0m33 1h0m29 15h0m10-9h0m93 0h0m36 0h0m75 12h0m16-16h0m142 0h0m54 8h0m56-10h0m47 2h0m35 16h0m223-9h0m45-3h0m-998 28h0m62-13h0m88 1h0m7 5h0m14-2h0m44 2h0m29 11h0m53 1h0m193-18h0m93 4h0m7 0h0m21 7h0m40 4h0m37-14h0m18 6h0m100 4h0m1 7h0m157-5h0m28-15h0m12 15h0m-1007 22h0m27-9h0m102 12h0m12-14h0m25 9h0m22 0h0m7-7h0m31 5h0m22-1h0m27 6h0m109-12h0m15-1h0m16 2h0m42-1h0m176 9h0m48-12h0m73 2h0m22 2h0m20-4h0m98 5h0m-700 16h0m36 4h0m20-5h0m5 8h0m22 2h0m217-3h0m120 4h0m7-14h0m47 10h0m71-3h0m38 7h0m2-2h0m5-7h0m113 3h0m88-7h0m1 18h0m1-16h0m2 11h0m27 3h0m-1044 5h0m10 10h0m67 5h0m30-14h0m184 15h0m15-15h0m125 1h0m20 1h0m246 6h0m34-2h0m17 5h0m42-3h0m38-5h0m27 0h0m15 1h0m12 6h0m23-4h0m12 3h0m14 7h0m53-2h0m77-11h0m10 10h0m-1052 11h0m36 5h0m16 2h0m65 2h0m67-11h0m71 2h0m66 2h0m39-6h0m55 11h0m52 2h0m43-14h0m110 18h0m4-12h0m72 9h0m79-16h0m7 12h0m6-10h0m17 2h0m51-1h0m86 12h0m19-11h0m16 9h0m52-10h0m6-1h0m11 16h0m-1018 5h0m110 14h0m107-5h0m58-12h0m141 18h0m27-11h0m83-6h0m13 11h0m251 0h0m9-6h0m58 10h0m84-7h0m35 8h0m31-12h0m8 4h0m-1011 24h0m35-11h0m53 4h0m215 1h0m129 6h0m18 1h0m16-12h0m15-2h0m24 0h0m240 8h0m114-1h0m4 4h0m48-5h0m19-5h0m29-2h0m22 9h0m3 3h0m5-6h0m6 0h0m47-6h0m3 18h0m4-5h0m9-5h0m-1083 18h0m31 6h0m34-11h0m0 11h0m35-12h0m78 12h0m8-8h0m16-3h0m47 2h0m153 4h0m7 3h0m8-3h0m61 5h0m46 0h0m5-5h0m2 12h0m18-2h0m55-17h0m16 3h0m165-2h0m17 16h0m172-7h0m8 3h0m70-7h0m-1034 24h0m73-1h0m17-4h0m24 0h0m74 3h0m38-4h0m8-1h0m8 1h0m11 5h0m117 1h0m43-8h0m43 11h0m81 1h0m22-3h0m379 0h0m62 7h0m-1049 19h0m262-3h0m53-13h0m24 16h0m25-4h0m29 5h0m41-3h0m85 1h0m9-11h0m145 12h0m203-1h0m138-15h0m-877 22h0m18 9h0m29-11h0m33 5h0m77 8h0m14-2h0m22 2h0m77 2h0m24 4h0m7-5h0m115 2h0m6-1h0m8-4h0m1-5h0m6 5h0m95 1h0m36 0h0m16 0h0m83 4h0m19-15h0m49 14h0m6-7h0m3-8h0m25 13h0m11-11h0m26 4h0m20 9h0m38-9h0m5 7h0m59 1h0m-804 22h0m2-8h0m49-3h0m75 6h0m26-5h0m65-2h0m7 8h0m47-7h0m75 1h0m7-1h0m10 14h0m29-7h0m93-11h0m12 12h0m116 4h0m44-12h0m0-5h0m9 1h0m12 16h0m86 0h0m12-5h0m4-10h0m6 4h0m3 5h0m-1046 15h0m64-4h0m50 1h0m18 7h0m152 6h0m44-1h0m92-3h0m30 5h0m54-6h0m56-4h0m7-2h0m0 4h0m55 6h0m107-4h0m61 1h0m13 5h0m40-12h0m49 6h0m194-11h0m-1087 38h0m2-9h0m50 0h0m140 0h0m7-4h0m1 10h0m15-10h0m44 3h0m14 0h0m109 8h0m2-8h0m25 6h0m12 0h0m77-8h0m32-2h0m133-1h0m26 1h0m54 10h0m80 2h0m18-13h0m8-3h0m53 11h0m20 0h0m5 4h0m0-14h0m69 11h0m11-7h0m28 6h0m32-7h0m4-2h0m-1056 34h0m270-6h0m94 1h0m10 6h0m46 0h0m169-2h0m26-14h0m61 4h0m28 10h0m36 0h0m84-11h0m18-3h0m3 3h0m82 4h0m80 2h0m5-2h0m13 9h0m28-4h0m7 3h0m21-1h0m-1022 4h0m37 1h0m60 19h0m88-19h0m71 15h0m15 1h0m14-4h0m14-7h0m18-6h0m10 4h0m23 2h0m7-3h0m40-2h0m8 1h0m3 9h0m182 0h0m5-3h0m70-1h0m153-5h0m31 5h0m42 3h0m4 4h0m28 2h0m23-7h0m36-1h0m-1050 18h0m33-1h0m206-3h0m66 13h0m74-13h0m82 1h0m183 5h0m26-6h0m42 11h0m7-4h0m8-2h0m7 0h0m157 12h0m18-7h0m18 7h0m80-7h0m37-5h0m3 8h0m9-12h0m4 10h0m31-10h0m-930 32h0m109-6h0m19-3h0m3-4h0m29 2h0m39 7h0m15 8h0m8 0h0m7-17h0m6 4h0m59 6h0m6 1h0m21-7h0m39 6h0m114-1h0m24-5h0m35 5h0m38-3h0m69 8h0m40-16h0m45 18h0m11-17h0m54-1h0m23 11h0m27-6h0m15 14h0m-1015 8h0m85 2h0m92 8h0m51 0h0m39-5h0m2-5h0m32 5h0m31-12h0m12 18h0m32-2h0m0-6h0m43 0h0m32 9h0m29-2h0m1-5h0m31 8h0m6-3h0m15 0h0m213 2h0m60-9h0m13 8h0m18-14h0m19 14h0m2-15h0m17 0h0m114 8h0m40-4h0m6 6h0m10 6h0m-975 19h0m2-13h0m59 11h0m30-1h0m4-5h0m44-6h0m213 8h0m71 3h0m119-5h0m107 0h0m30-1h0m34 2h0m50 0h0m17-8h0m41 15h0m25-1h0m31-15h0m13 15h0m32 1h0m18-13h0m9 12h0m22-8h0m-1043 13h0m115 0h0m72 1h0m18 0h0m42 0h0m36 6h0m41 5h0m82-14h0m43 13h0m36-3h0m12 0h0m43-1h0m87 8h0m29 0h0m96-7h0m43-7h0m90 4h0m9-6h0m43 2h0m0 5h0m38-2h0m4 5h0m15-9h0m28 0h0m-1006 21h0m225 16h0m13-10h0m46 10h0m90-9h0m35 5h0m30-8h0m39 11h0m159 0h0m42-6h0m16 1h0m17-7h0m39 6h0m12-3h0m60-8h0m7-1h0m1 13h0m30-13h0m10 5h0m37-2h0m3 13h0m18-15h0m13 9h0m3-8h0m16 6h0m-982 13h0m24 12h0m23-2h0m37 6h0m58-5h0m4 0h0m78-2h0m172 9h0m11-1h0m53 1h0m46-12h0m24-1h0m37-5h0m27 10h0m92-9h0m13 8h0m37-1h0m54 11h0m79-20h0m28 11h0m5-3h0m50 2h0m-912 13h0m84 14h0m103-11h0m22 11h0m39 2h0m16-5h0m11-10h0m85 1h0m54 11h0m99 3h0m60-9h0m28-4h0m40-5h0m3 9h0m44 7h0m139-6h0m9 5h0m41-3h0m2-7h0m-911 20h0m40 5h0m40 5h0m31 2h0m0-7h0m4-7h0m4 5h0m23 1h0m49 2h0m57 4h0m36-14h0m1 9h0m19 0h0m98-8h0m24 8h0m134-6h0m89 14h0m19-14h0m8 0h0m97 7h0m-649 19h0m21-6h0m46 9h0m39-12h0m15-1h0m69 13h0m113-7h0m2 8h0m2 4h0m165-2h0m7-13h0m121-1h0m13 4h0m30-4h0m61 7h0m-822 12h0m9 0h0m12 10h0m11-5h0m10 0h0m4 0h0m5 12h0m19-7h0m63-6h0m114-5h0m118 6h0m69-6h0m14 8h0m16-2h0m8 5h0m17 2h0m68-7h0m63-3h0m27 3h0m71 1h0m20-2h0m-687 20h0m1 7h0m22 0h0m17 1h0m11 0h0m11-4h0m20 8h0m276-14h0m75 15h0m4-12h0m54-1h0m50-1h0m49-4h0m29 18h0m22-19h0m38 5h0m-737 22h0m8 10h0m73 0h0m54-6h0m79-5h0m276-1h0m41 7h0m2 6h0m61-1h0m13-2h0m131 4h0m-679 6h0m51 1h0m260 0h0m71 7h0m19-4h0m36 0h0m24 3h0m28-2h0m27 5h0m13-12h0m68 7h0m10 8h0m2-7h0m27-9h0m27 2h0m-620 18h0m34 12h0m244 0h0m27-13h0m21 1h0m65 5h0m184 8h0m12-8h0m-590 21h0m115 2h0m296 5h0m-493 23h0m29 0h0m42-5h0m9 4h0m36-4h0m14 4h0m5-2h0m18-2h0m167-6h0m168-6h0m14 11h0m9 1h0m32 6h0m-508 17h0m21-2h0m3-10h0m67-4h0m5 11h0m23-11h0m152 4h0m44 9h0m150-12h0m6 6h0m7-3h0m-486 30h0m18 3h0m13-1h0m57-4h0m36 0h0m129-8h0m136 5h0m-377 19h0m11 4h0m51-9h0m28 0h0m18 7h0m84 7h0m5-1h0m169-5h0m-380 16h0m24 10h0m23 3h0m64-18h0m82 11h0m-172 15h0m22-2h0m108 12h0m4 1h0m8-6h0m10 0h0m18 1h0"/>
<path stroke="#d9ff26" d="M311 263h0m41 20h0m42 65h0m55 13h0m-167 30h0m64-2h0m26 13h0m65-1h0m5 7h0m105 6h0m-266 15h0m271-1h0m-47 14h0m-44 32h0m-187 16h0m101 6h0m109-6h0m-82 20h0m30 16h0m146 2h0m-285 42h0m88 9h0m-88 5h0m65-3h0m29 47h0m35 7h0m-69 38h0m12 12h0m19 5h0m33-3h0m19-2h0m5 12h0m1-4h0m16 42h0m-187 11h0m130 14h0m112-17h0m-198 34h0m-19 9h0m149-6h0m197 18h0m-325 13h0m76-9h0m30 14h0m176-5h0m-21 17h0m21 9h0m-318 15h0m30-5h0m188 1h0m74-1h0m108-4h0m-381 24h0m96 7h0m144 24h0m12 7h0m-260 24h0m3 5h0m450 18h0m387-6h0m-44 17h0m-729 22h0m-38 25h0m402-1h0m85 9h0m-506 16h0m114-11h0m309 17h0m225-16h0m-635 17h0m406 2h0m170 0h0m-456 29h0m-141 13h0m138-4h0m143 16h0m399-13h0m-550 24h0m362 3h0m-496 27h0m88-8h0m50 5h0m412-10h0m182 11h0m106-12h0m-867 24h0m108 12h0m175-3h0m6-2h0m189 4h0m137-9h0m34-9h0m72 15h0m-559 22h0m107 1h0m239-11h0m51 6h0m238-11h0m-588 35h0m321-17h0m50 12h0m38 5h0m-377 21h0m39-8h0m445-11h0m2 10h0m82 8h0m-784 21h0m285-14h0m11 22h0m332-7h0m-595 32h0m113 6h0m359-12h0m-34 25h0m-241 26h0m-223 13h0m698 27h0m5-8h0m-553 21h0m337-4h0m247 10h0m10 2h0m4-6h0m-232 17h0m40-4h0m-184 18h0m236 15h0m-566 37h0m563 6h0m-466 106h0"/>
<path stroke="#a8ff57" d="M324 263h0m36 1h0m79 58h0m-59 35h0m45-16h0m17 7h0m-176 30h0m60-8h0m64 9h0m4-18h0m1 9h0m-53 10h0m105 2h0m8 20h0m-75 34h0m59-14h0m17 17h0m-42 3h0m23 3h0m26 6h0m16-10h0m-217 32h0m12 0h0m121 1h0m43-14h0m0 14h0m6-11h0m43-1h0m16 11h0m-215 10h0m157 13h0m119 1h0m46 1h0m10 2h0m-249 17h0m50-7h0m54-6h0m68 2h0m70 11h0m1-12h0m-332 34h0m5-5h0m94 0h0m31 5h0m92-10h0m40 11h0m-276 10h0m22-1h0m8-7h0m18 4h0m59 0h0m211 5h0m-321 26h0m95-13h0m41 7h0m31-1h0m196-4h0m-302 17h0m20 1h0m1 6h0m14 0h0m19 5h0m11-8h0m83-4h0m7 16h0m8-6h0m-226 9h0m110 2h0m8 2h0m23 10h0m163-13h0m96 6h0m-314 21h0m87 10h0m232-16h0m-364 36h0m18-2h0m11 0h0m15-4h0m13 4h0m43-11h0m8-1h0m71-5h0m12 18h0m131-7h0m57-2h0m-414 28h0m25-16h0m53 15h0m-9 6h0m40 6h0m43 7h0m29-7h0m-59 22h0m134 6h0m40-15h0m255 16h0m-472 9h0m3 12h0m80 1h0m41-15h0m14 11h0m24-6h0m-222 29h0m38-6h0m2 1h0m64-12h0m28 6h0m21-8h0m48 15h0m18-14h0m3 15h0m115 2h0m139 0h0m10-9h0m4-5h0m57 1h0m-475 34h0m32-18h0m33 16h0m6-6h0m50 2h0m22 6h0m264-6h0m147-12h0m2 6h0m-590 23h0m130 5h0m54 3h0m392-18h0m-632 22h0m40 6h0m167-3h0m117 5h0m46 5h0m245 1h0m110-2h0m10-2h0m-596 19h0m27-9h0m55 2h0m17 0h0m93-2h0m-242 37h0m154-18h0m434 2h0m-611 23h0m16 13h0m38-2h0m268-2h0m-374 18h0m2 6h0m59-8h0m152-7h0m73-1h0m45 9h0m473-8h0m-799 32h0m25 0h0m33-11h0m63 5h0m594 0h0m62-7h0m55 6h0m-864 27h0m128-8h0m6-5h0m276 8h0m483-3h0m-892 15h0m6 15h0m22-17h0m101-1h0m67 1h0m272 13h0m13-2h0m343 7h0m69-9h0m190-1h0m-991 17h0m32-3h0m39 5h0m164 6h0m79 1h0m464 4h0m-826 7h0m27 0h0m67-5h0m63 8h0m179-4h0m50 12h0m10-10h0m251 12h0m103-12h0m5 0h0m90 12h0m13 1h0m115-3h0m-1015 22h0m248-2h0m145 2h0m17-1h0m23-11h0m36 3h0m195 2h0m169-7h0m-797 33h0m21-2h0m90-9h0m13-2h0m284 4h0m38 7h0m149-6h0m202-1h0m15-1h0m47-4h0m-833 31h0m61 0h0m243-14h0m123 18h0m36-1h0m104-3h0m29-11h0m49 16h0m21-3h0m47-10h0m17 6h0m-718 14h0m9 7h0m5-3h0m22-9h0m8 10h0m157-9h0m82 10h0m26-11h0m115 5h0m2-6h0m93 6h0m132 12h0m26-12h0m30-6h0m63 12h0m72 1h0m-828 14h0m169 12h0m60-12h0m16 2h0m163-4h0m135-2h0m2 6h0m14-3h0m21 10h0m42-1h0m5 1h0m91-15h0m49-1h0m-829 19h0m40 10h0m5 3h0m26-8h0m97 10h0m103 0h0m78-5h0m63-3h0m144-5h0m30 15h0m163-2h0m44-9h0m50 1h0m-830 17h0m77 4h0m33 1h0m44 8h0m61-15h0m11 2h0m1 12h0m16 2h0m74-13h0m41 4h0m106 8h0m28-13h0m106 6h0m13 4h0m10-11h0m34 5h0m148 3h0m26-3h0m-869 31h0m32-16h0m89 12h0m28-6h0m59 7h0m51-1h0m245-2h0m133 7h0m75 0h0m21-9h0m35-9h0m8 7h0m7 0h0m37-5h0m-803 24h0m1-6h0m72-1h0m7 5h0m2 5h0m44-11h0m48 9h0m49 7h0m12-3h0m40-10h0m7 4h0m53 0h0m27-6h0m109 8h0m85-4h0m22 12h0m22-15h0m72 7h0m-635 11h0m82 20h0m5-14h0m207 10h0m56 1h0m152-3h0m16 6h0m17-6h0m67 4h0m198-11h0m21 13h0m10-12h0m-843 31h0m69-14h0m31 14h0m68-7h0m8 0h0m37-5h0m39 4h0m7 6h0m126-12h0m78-1h0m5 5h0m2-2h0m65-4h0m46 16h0m13-16h0m46 9h0m10 6h0m29-7h0m360-7h0m-1073 20h0m11 0h0m27 4h0m230 8h0m9 0h0m180-10h0m210 3h0m193 1h0m65-8h0m11 2h0m39 8h0m-905 15h0m53 1h0m3 6h0m1-7h0m101 6h0m281 0h0m8-9h0m180 15h0m15-11h0m34 5h0m14-3h0m60 5h0m13-11h0m95-4h0m-910 32h0m48-9h0m97 11h0m80-7h0m76 5h0m5 0h0m16-1h0m86 4h0m50 3h0m43-10h0m84-6h0m69 1h0m45 12h0m-690 5h0m30 17h0m43-17h0m75 5h0m19-3h0m117 11h0m31 4h0m29-9h0m57 8h0m25-8h0m65 11h0m23-17h0m16 9h0m5-6h0m183 6h0m-726 27h0m341-13h0m43-2h0m21 3h0m8 1h0m72 9h0m207-11h0m-281 21h0m69 13h0m63-8h0m306-6h0m-703 29h0m360 2h0m0-15h0m177 1h0m9 18h0m38-13h0m-671 13h0m16 9h0m62 10h0m310-5h0m53-7h0m38-1h0m149 13h0m60-4h0m31 1h0m-704 21h0m469-9h0m5-2h0m10 1h0m141 2h0m36 8h0m-665 16h0m321 3h0m9 0h0m81-4h0m38-9h0m37 1h0m156 6h0m-644 18h0m287 0h0m6 7h0m-300 15h0m38 3h0m-36 21h0m472-11h0m-551 36h0m8-7h0m350 3h0m-260 22h0m435-9h0m-405 38h0m308 2h0m-386 24h0m13-10h0m82 10h0m102-11h0m-176 32h0m215 7h0"/>
<path stroke="#8f7" d="M367 263h0m-37 35h0m32 1h0m47-16h0m-146 37h0m51 10h0m103-8h0m23 17h0m-162 19h0m27-18h0m23 12h0m46 3h0m63-3h0m-137 19h0m101-11h0m54 7h0m2 6h0m36 5h0m-179 6h0m15 1h0m73 14h0m17-13h0m23-1h0m-9 26h0m69-8h0m-242 30h0m62 7h0m48-20h0m95 6h0m-199 26h0m116 3h0m74 3h0m103-16h0m-266 37h0m85-8h0m224-11h0m-301 38h0m33-2h0m62-4h0m46-1h0m20-3h0m9 8h0m58 2h0m84-2h0m10-9h0m-275 22h0m65 6h0m7 2h0m12 0h0m39-3h0m13-13h0m9 7h0m-180 27h0m95 1h0m81-7h0m5 4h0m54-12h0m15 18h0m47-7h0m7-2h0m-305 25h0m93-6h0m2-7h0m100 13h0m-232 5h0m59 20h0m12-15h0m50 0h0m115 13h0m166-6h0m-357 27h0m25-1h0m64-14h0m7 0h0m38 1h0m41 13h0m94-2h0m9-7h0m33-2h0m-324 17h0m8 11h0m2-8h0m56 8h0m1-6h0m254 8h0m56-10h0m-388 18h0m19 3h0m14-7h0m21 0h0m15 15h0m14-1h0m45-11h0m224 13h0m20-11h0m48 9h0m-433 25h0m14-17h0m40 3h0m21 6h0m54 4h0m2-13h0m16 15h0m243-16h0m-377 22h0m58 2h0m64 8h0m41-13h0m40 15h0m206-8h0m-434 27h0m31 2h0m40 3h0m50-13h0m108-1h0m2 7h0m62 0h0m86-2h0m-83 20h0m15-2h0m17-6h0m8 3h0m117 12h0m8-6h0m46-1h0m18 8h0m30-1h0m-567 4h0m54 17h0m54-14h0m9 3h0m26-6h0m57 9h0m37 8h0m8-12h0m18 11h0m21-3h0m2-5h0m38 6h0m29-13h0m125-2h0m61 7h0m99 6h0m-568 14h0m23 2h0m4-2h0m26 5h0m12-6h0m137 9h0m8-8h0m134 2h0m103 6h0m109-10h0m-609 20h0m65 0h0m44-5h0m8 5h0m45-5h0m18 17h0m82-4h0m40 4h0m93-11h0m163-6h0m1 10h0m-427 12h0m66 11h0m114-2h0m93-7h0m175 0h0m50 6h0m39 8h0m-684 12h0m65 3h0m10-6h0m207-6h0m12 15h0m67-12h0m300 12h0m123-2h0m-761 16h0m149 4h0m8-6h0m122 6h0m80 5h0m228-18h0m30 15h0m30-9h0m14-3h0m27 8h0m-628 13h0m162-4h0m20 14h0m65-12h0m10 0h0m21-3h0m16 18h0m21-1h0m49-16h0m196 1h0m70 9h0m27 3h0m8-8h0m74 2h0m19-1h0m41 12h0m54-16h0m-912 31h0m1-8h0m26 10h0m29 1h0m40-5h0m14 6h0m11-14h0m206 9h0m96 0h0m81-14h0m14 14h0m10-10h0m79-3h0m77 7h0m24-6h0m-662 24h0m19 6h0m112-5h0m69-6h0m247 12h0m36-10h0m359-2h0m163 17h0m-1070 6h0m1 15h0m11-2h0m15 0h0m58-14h0m115 3h0m130-1h0m199 5h0m282-1h0m39 7h0m74 2h0m-854 18h0m23-8h0m21 6h0m68-7h0m98 10h0m43-2h0m164-14h0m20 9h0m3 4h0m96 2h0m190-11h0m55 12h0m52-8h0m26 0h0m18 1h0m36-1h0m93-8h0m-1068 22h0m52 14h0m51-1h0m46-3h0m7-10h0m58 4h0m73-7h0m18 18h0m129-9h0m211 11h0m239-7h0m148 0h0m44 6h0m6-3h0m-1035 11h0m12-5h0m106 12h0m12-8h0m15 2h0m12-5h0m13-1h0m47 3h0m39 6h0m69-10h0m45 14h0m32-2h0m27-4h0m18 9h0m121-11h0m151-6h0m93 4h0m41 13h0m19-16h0m2-1h0m132 5h0m15-6h0m-1049 24h0m23 2h0m107 6h0m71-10h0m17 17h0m72 0h0m80-18h0m62 12h0m58 5h0m17 0h0m27 1h0m58-9h0m14 9h0m35-14h0m24-1h0m142-3h0m24 3h0m185 14h0m-1045 6h0m216 14h0m154-2h0m5-10h0m86 1h0m10 12h0m46-6h0m95 5h0m16-1h0m4-4h0m19 2h0m62-4h0m76-6h0m4 11h0m103 0h0m4-14h0m124 1h0m-976 25h0m25 0h0m80 10h0m101-8h0m99-4h0m5-3h0m54 11h0m20-13h0m57 7h0m13-5h0m32 8h0m3 4h0m14 1h0m48 0h0m42-12h0m164 0h0m22 16h0m54-3h0m28-13h0m13-2h0m56 0h0m17 7h0m-997 19h0m47-7h0m21 0h0m3 15h0m24-7h0m16 1h0m44 9h0m73-4h0m106-7h0m28 7h0m0-6h0m12 4h0m77 1h0m17-5h0m50-1h0m79 6h0m5-8h0m28 4h0m42-6h0m86 11h0m43-9h0m33 14h0m75-5h0m136-5h0m66 4h0m-1011 7h0m34 18h0m89-5h0m5-8h0m207 2h0m127-7h0m5 4h0m2 9h0m17-1h0m21 5h0m160 1h0m7-8h0m9-6h0m32 11h0m64-11h0m147 14h0m0-5h0m9-9h0m1 14h0m59-17h0m-962 26h0m36 7h0m31-9h0m2 13h0m107-17h0m16 12h0m15 3h0m215-3h0m6-1h0m51-7h0m60 12h0m30-5h0m29-2h0m16-9h0m1 9h0m39 6h0m37-15h0m38 8h0m167 1h0m12-3h0m-1045 13h0m45 5h0m28-5h0m7 11h0m122 1h0m68 6h0m10-16h0m144 13h0m90-1h0m164-12h0m9 5h0m76 2h0m79 10h0m162-1h0m75-13h0m-1070 32h0m53-14h0m35 11h0m160 0h0m51-5h0m13-6h0m50 10h0m222-3h0m5 1h0m11-11h0m22 17h0m51-14h0m95-1h0m57 1h0m13 1h0m169-4h0m-825 38h0m55-4h0m70 4h0m43-16h0m28 6h0m110 7h0m34 0h0m37-13h0m0 9h0m65-10h0m34 13h0m31-13h0m3 5h0m126 9h0m6 1h0m81 2h0m28-5h0m31 5h0m64-17h0m42-1h0m2 16h0m-1020 21h0m154-16h0m28 10h0m116 6h0m79 0h0m5-11h0m32 1h0m116 8h0m20-2h0m6-7h0m44-4h0m101 5h0m117-7h0m5 15h0m1-16h0m5 18h0m46-15h0m39 6h0m7 0h0m11-4h0m0-2h0m-924 35h0m8-14h0m6 1h0m19 15h0m1-6h0m10-6h0m11 6h0m126-13h0m105 12h0m51-3h0m40 4h0m26-9h0m8-1h0m148 16h0m55-16h0m63 11h0m102-9h0m50-1h0m14 1h0m13-6h0m34 14h0m18-9h0m42 9h0m3-13h0m26 13h0m4-10h0m4 2h0m46 4h0m-974 20h0m153 7h0m59-4h0m65 2h0m26 0h0m47-9h0m49 6h0m79 3h0m45-5h0m20-4h0m35-5h0m7 19h0m12-5h0m17-10h0m36 5h0m21 9h0m71-4h0m67 2h0m21-1h0m66-6h0m5 5h0m2-12h0m28 7h0m23-10h0m-1029 23h0m10 13h0m64 0h0m84-11h0m44 11h0m160 1h0m122-15h0m34 14h0m21-15h0m68 0h0m22 15h0m122-13h0m56 11h0m120-2h0m17-8h0m26 6h0m47-6h0m-1057 18h0m59-1h0m129 2h0m45 13h0m99-14h0m10 11h0m122-6h0m64 0h0m51 8h0m79-10h0m282-4h0m4 9h0m33 6h0m6-1h0m-974 23h0m79-15h0m67 4h0m13 11h0m145 1h0m103-11h0m257-8h0m25 13h0m24-11h0m3 13h0m15-11h0m20-2h0m102 13h0m13-1h0m51-6h0m2 5h0m5-6h0m10 9h0m18-15h0m14 2h0m-938 33h0m86 3h0m60-13h0m79 7h0m16-6h0m45 0h0m13 5h0m13-1h0m108 0h0m19 7h0m4-12h0m261 13h0m27-13h0m27 0h0m151-5h0m-937 30h0m19-10h0m69 8h0m6 4h0m8-1h0m21 6h0m15-5h0m133 3h0m92-6h0m18 7h0m50-12h0m46 5h0m40 7h0m22-1h0m139-7h0m-661 22h0m69 0h0m84-1h0m36 8h0m138-12h0m38 9h0m50-10h0m84-2h0m10 15h0m59 1h0m86-4h0m4-9h0m0 4h0m89 8h0m17-10h0m14 9h0m-681 20h0m23-1h0m4-9h0m1-4h0m3 5h0m95 6h0m271-6h0m50 7h0m46-6h0m42 0h0m19 10h0m53-17h0m-705 36h0m90-10h0m37-4h0m21 16h0m87-13h0m134 1h0m1 4h0m127-10h0m6 12h0m37-12h0m32 14h0m44-7h0m92-3h0m-694 28h0m374 4h0m16-6h0m69 8h0m31-3h0m5 2h0m30-8h0m12 1h0m104 1h0m15-6h0m78 8h0m-712 21h0m156-11h0m153-4h0m19 12h0m6 1h0m38-4h0m56 1h0m41-2h0m17 4h0m65-1h0m37-5h0m62 0h0m33-3h0m-747 32h0m17-13h0m47 3h0m23-3h0m14 1h0m412 12h0m26-11h0m79 11h0m16 3h0m80-14h0m-699 24h0m27 0h0m9-7h0m72-1h0m12 0h0m2 19h0m275-3h0m76-15h0m25 6h0m35-6h0m8 5h0m22 9h0m101-6h0m-560 24h0m382 2h0m118-14h0m7 7h0m15-7h0m26 0h0m-643 37h0m4-12h0m115 5h0m28 1h0m319-11h0m7 1h0m22 4h0m-445 15h0m30-1h0m367 12h0m34 3h0m-477 10h0m27 1h0m67 11h0m221-7h0m81 5h0m-268 11h0m70 2h0m131 26h0m-290 25h0m59-18h0m29 7h0m34-7h0"/>
<path stroke="#98ff67" d="M278 272h0m70-2h0m-87 14h0m26-1h0m27 0h0m12 8h0m35 0h0m7-5h0m22-1h0m-82 16h0m17 16h0m-34 19h0m36 10h0m85 0h0m-142 27h0m24-6h0m80-1h0m-97 30h0m151 2h0m14-10h0m41-4h0m16 1h0m-125 23h0m126 10h0m35-14h0m-251 25h0m182 6h0m5-13h0m18-2h0m53 19h0m18-10h0m7 0h0m-309 23h0m117 0h0m160 8h0m15-17h0m6 9h0m7-11h0m-287 19h0m4 8h0m11-7h0m9 4h0m43 12h0m29-10h0m12 6h0m52 3h0m31 2h0m-193 7h0m67 14h0m53-14h0m35 4h0m191 0h0m-351 26h0m72 0h0m13-10h0m43-2h0m65-1h0m9 1h0m56 12h0m21-10h0m41-3h0m-245 28h0m164-3h0m46 3h0m42 5h0m64-2h0m-369 26h0m1-16h0m95 16h0m36-5h0m187-7h0m-342 27h0m7 3h0m80-15h0m4 10h0m65-4h0m22-4h0m123 6h0m20 9h0m-314 6h0m58 6h0m26-6h0m24 0h0m22-5h0m129 9h0m-224 25h0m42-12h0m58 6h0m56-6h0m88 0h0m14 13h0m22 5h0m3-18h0m17 0h0m-302 29h0m67 5h0m12-14h0m67 18h0m7-4h0m4-14h0m7 4h0m228-4h0m-434 32h0m59-7h0m1 5h0m32-6h0m7 12h0m63-4h0m14 0h0m221-9h0m19 7h0m-410 17h0m39-5h0m87 8h0m12-7h0m17-4h0m15 18h0m21-3h0m26-15h0m144 6h0m28 12h0m-400 18h0m29-4h0m2-6h0m286 12h0m-251 15h0m31-9h0m154 3h0m62-6h0m27 12h0m124-11h0m54-1h0m-416 28h0m2 5h0m42 2h0m50-7h0m21-5h0m18-4h0m5 13h0m7-13h0m197 4h0m64 12h0m9-9h0m29 1h0m-513 18h0m21 6h0m127-4h0m32 0h0m42 10h0m88 1h0m302-6h0m-597 17h0m59 1h0m21 7h0m8 1h0m11-15h0m25 11h0m37-9h0m3 7h0m37-13h0m9 9h0m30-3h0m48 4h0m5 1h0m304 2h0m-539 22h0m85-6h0m72-4h0m94 12h0m158-18h0m-465 35h0m74-13h0m30 17h0m107-14h0m29 3h0m7 2h0m5-5h0m72 7h0m252-2h0m11-7h0m72-1h0m-687 32h0m70-3h0m39-1h0m62 0h0m46-9h0m14 9h0m58 5h0m20-8h0m13 3h0m272-3h0m25-4h0m22-1h0m28 5h0m22 13h0m102-5h0m6-4h0m12 6h0m-828 18h0m16-15h0m56 15h0m138-6h0m15-7h0m18 16h0m449-13h0m-693 20h0m8-3h0m68 10h0m0-3h0m757 4h0m-804 18h0m34 5h0m212-6h0m15-6h0m71 0h0m434 3h0m-799 32h0m136-14h0m11 2h0m180 5h0m120-2h0m55 6h0m156-5h0m4 6h0m25-2h0m200-5h0m-828 12h0m88 13h0m38-13h0m250 0h0m204 1h0m89 4h0m60 2h0m47 0h0m49 5h0m34-13h0m143 9h0m-1039 26h0m45-15h0m44 13h0m1-5h0m41-1h0m108 2h0m5 3h0m61-9h0m114 11h0m374-5h0m14 6h0m17-13h0m71 6h0m0 6h0m103-14h0m-939 25h0m142-5h0m91 16h0m171-11h0m9 5h0m295 6h0m18-16h0m66 18h0m8-13h0m34 0h0m8-5h0m17 12h0m-835 24h0m69-12h0m17 7h0m92-8h0m30 7h0m92-7h0m41 9h0m51 5h0m49-4h0m7 3h0m30 0h0m35-5h0m14-7h0m63 6h0m122-8h0m95 2h0m22 5h0m88 8h0m-960 20h0m10-15h0m7 1h0m122 6h0m20-6h0m3 4h0m34 8h0m2-3h0m139-6h0m44-3h0m38 0h0m26 15h0m2-16h0m40 7h0m124-7h0m205 1h0m7 2h0m3 12h0m119-3h0m48-15h0m-1011 24h0m17-1h0m3 15h0m78-3h0m0-10h0m78-4h0m13 12h0m1-3h0m5-7h0m84 12h0m82-12h0m57 8h0m94 9h0m11-3h0m48 0h0m57-15h0m10 14h0m12 1h0m46-7h0m170-3h0m-900 20h0m24-5h0m27 8h0m10 9h0m33-16h0m65-3h0m26 19h0m1-6h0m159-11h0m67 2h0m57-2h0m88 2h0m12 0h0m33 5h0m150-6h0m83 11h0m-694 23h0m1-4h0m54 7h0m5-8h0m21-1h0m86 1h0m5 6h0m30-12h0m151 0h0m4 5h0m299-8h0m-801 21h0m15-3h0m22 9h0m8 4h0m27-3h0m14 5h0m12 3h0m4-11h0m133 12h0m61-20h0m38 8h0m4 0h0m74 9h0m80-1h0m78-6h0m8-2h0m114 6h0m55-2h0m40 5h0m67-1h0m9-10h0m-798 32h0m115-10h0m30 11h0m37-9h0m73-7h0m13 15h0m5-16h0m158 4h0m114 12h0m32-2h0m61-4h0m103 8h0m187-15h0m24 12h0m2-13h0m-1028 20h0m49-1h0m12 11h0m38-2h0m22-8h0m44-1h0m1 8h0m46 7h0m4-4h0m35-10h0m21 7h0m9-4h0m59 10h0m60 1h0m5-10h0m263 4h0m26 5h0m101-12h0m18-3h0m24 8h0m23 8h0m4-7h0m121-7h0m37-1h0m22 8h0m12-1h0m-1050 19h0m30 5h0m26-11h0m4 16h0m48-12h0m99-3h0m1 6h0m25-2h0m84-8h0m6 0h0m25 8h0m70 9h0m87-9h0m7 6h0m80 3h0m77-11h0m15 1h0m59-7h0m16 10h0m56-1h0m76 4h0m131-5h0m30 5h0m-1050 24h0m7-15h0m77 18h0m52-8h0m0-7h0m29 7h0m23 1h0m38-10h0m14 2h0m124-4h0m145 7h0m66 7h0m19-8h0m18 4h0m17 8h0m11-13h0m100-3h0m36 8h0m49 8h0m181-1h0m36-16h0m6 16h0m-1055 19h0m50-17h0m61 0h0m61 12h0m15 3h0m13-10h0m15-4h0m18 7h0m28 5h0m15-13h0m8 7h0m37 0h0m63 1h0m11 6h0m10-9h0m10-5h0m65 2h0m2 17h0m30 0h0m6-18h0m0 13h0m136-6h0m52 5h0m41-6h0m4-2h0m11 13h0m9-1h0m31 0h0m41 0h0m17-11h0m175 7h0m-982 18h0m69 1h0m100-5h0m29 12h0m9-1h0m47-2h0m96-6h0m74 0h0m18 8h0m60 0h0m57-13h0m21 4h0m25-4h0m24-2h0m66 13h0m188-4h0m50-2h0m7 7h0m6-8h0m32 2h0m22-7h0m-950 22h0m15-2h0m195 14h0m77-1h0m81-15h0m117 16h0m13-16h0m15 14h0m90-14h0m76 2h0m155 0h0m64-1h0m-994 25h0m55-5h0m216 12h0m17-10h0m159 3h0m35-6h0m17 17h0m4-5h0m29-1h0m82-10h0m45 16h0m97-2h0m1-6h0m50 5h0m29-7h0m60 10h0m62-11h0m15-6h0m8 1h0m3-3h0m-949 40h0m32-7h0m7 6h0m199-11h0m107-3h0m130 1h0m66-5h0m67 8h0m234 4h0m-854 20h0m47 5h0m107-4h0m4-7h0m18 7h0m33-13h0m90 18h0m105-14h0m23 8h0m46 4h0m26-6h0m14-6h0m22-1h0m77 2h0m28 13h0m5-7h0m3 0h0m106-11h0m91 4h0m43 14h0m-881 21h0m29-14h0m187 6h0m120 5h0m22-10h0m10 4h0m7 1h0m2 6h0m20-6h0m278-2h0m9 8h0m-721 17h0m56-14h0m50 2h0m164 12h0m26 3h0m72-2h0m179-13h0m37 0h0m68 16h0m12-10h0m47 3h0m6 0h0m-688 12h0m159 5h0m82 2h0m4-7h0m192 13h0m31-15h0m74 1h0m10 2h0m18 14h0m35-19h0m50 7h0m14-6h0m19 2h0m51-1h0m-735 24h0m31-3h0m6 0h0m115 9h0m30-11h0m433 18h0m62-3h0m14 0h0m70-12h0m-781 30h0m254-8h0m129 4h0m22 9h0m164 1h0m16-9h0m78 7h0m28 0h0m17-1h0m13-10h0m22 4h0m12 1h0m10 0h0m-749 14h0m0 13h0m66-1h0m78 1h0m208-13h0m42 1h0m23-4h0m10 0h0m53 2h0m15 9h0m49-7h0m13 13h0m7-4h0m37-6h0m89-6h0m-516 35h0m331-16h0m4 8h0m59-2h0m109 5h0m9-1h0m-652 21h0m26 6h0m9-15h0m352 12h0m214-15h0m-597 21h0m284-1h0m160-1h0m18 13h0m6-11h0m5 5h0m29-7h0m46 17h0m33-12h0m-581 31h0m15-5h0m42-4h0m453-3h0m21 4h0m-472 18h0m26 0h0m339 11h0m13-1h0m42-4h0m-471 15h0m4-5h0m57 2h0m185 11h0m-168 23h0m23-17h0m242-1h0m-281 28h0m22 1h0m26 4h0m1-7h0m29-1h0m6-4h0m103 5h0m49 2h0m10 1h0m15-4h0m-298 21h0m121 12h0"/>
<path stroke="#b8ff47" d="M288 279h0m19-5h0m15-4h0m82 8h0m-144 39h0m150-12h0m-153 21h0m66 26h0m-65 11h0m190 16h0m9 0h0m26 1h0m-211 31h0m93-10h0m112 0h0m8 9h0m5 6h0m15 2h0m-153 5h0m218 16h0m-264 20h0m23-13h0m14 11h0m27-8h0m41-3h0m21 6h0m33 6h0m9-4h0m44-8h0m-256 15h0m205 4h0m128 12h0m-198 19h0m6-7h0m4 8h0m28-8h0m13 6h0m27-6h0m75-5h0m19 2h0m-275 15h0m36 10h0m34-3h0m42 7h0m175-6h0m-294 21h0m177 3h0m91-9h0m33-4h0m-328 25h0m61 6h0m231-9h0m-291 35h0m78 2h0m282-1h0m37-11h0m-376 14h0m110 16h0m77 2h0m136-15h0m20-4h0m-351 34h0m271-11h0m61 11h0m-229 25h0m19-19h0m-15 36h0m17 4h0m26-13h0m193 2h0m59-2h0m-238 17h0m-94 19h0m11 16h0m31-13h0m82 1h0m3-4h0m-164 35h0m1-7h0m65-8h0m60 5h0m373 9h0m-540 18h0m46-7h0m22-3h0m9 8h0m27-11h0m9 2h0m121 3h0m-154 31h0m5 2h0m18-5h0m102-13h0m105 13h0m208-13h0m-491 37h0m202-5h0m86 1h0m74 3h0m-342 21h0m154-8h0m129-6h0m309 0h0m-528 28h0m19 2h0m49-11h0m20-2h0m8 0h0m15 13h0m51 3h0m53 0h0m58-9h0m327 2h0m-634 10h0m1 9h0m60-3h0m243 4h0m233-8h0m88 14h0m-567 4h0m19 14h0m167-12h0m70 12h0m24-6h0m10 7h0m7 2h0m396-16h0m-827 35h0m13-16h0m41 4h0m755 7h0m-813 28h0m161-19h0m147 9h0m27 6h0m64-12h0m412-4h0m18 6h0m13 10h0m-648 15h0m189-1h0m-231 17h0m160 9h0m53-5h0m18-9h0m504 12h0m6-9h0m-778 35h0m32-10h0m726 4h0m13-1h0m-759 21h0m42-13h0m55 8h0m179-2h0m3 8h0m42-6h0m196 10h0m169-4h0m-818 24h0m64-16h0m391-3h0m61 4h0m11 6h0m353 7h0m-864 9h0m20-6h0m17 4h0m342-2h0m44 0h0m124 7h0m30-3h0m3 6h0m-560 9h0m128 10h0m125-9h0m191 5h0m10 10h0m7-12h0m32-4h0m30 1h0m7 8h0m62 5h0m39-5h0m10 0h0m95 5h0m-728 8h0m14 6h0m215-5h0m59-2h0m55 9h0m37-2h0m138-1h0m14-2h0m2 9h0m38 0h0m136 4h0m-723 16h0m121 0h0m3-7h0m34 12h0m8-2h0m132-8h0m307-4h0m82-4h0m51 10h0m23-9h0m-643 18h0m37 19h0m36-1h0m362-17h0m135 9h0m122 7h0m16-2h0m-810 23h0m51-13h0m33 0h0m18 6h0m32-2h0m105 10h0m53-17h0m210 9h0m26 6h0m2-14h0m46 8h0m5-8h0m7 2h0m5-1h0m44 0h0m11 12h0m15-11h0m-518 31h0m17-13h0m59 7h0m118 3h0m124-8h0m7-2h0m4 12h0m5-8h0m20-5h0m40 11h0m196 4h0m4-12h0m23-2h0m-793 29h0m42-6h0m85 10h0m17 2h0m35-3h0m37 3h0m57-9h0m245 9h0m9-2h0m8-9h0m20 0h0m21-1h0m28-4h0m7 4h0m108 6h0m-657 16h0m135 5h0m30-6h0m125-1h0m133 5h0m43 3h0m63-2h0m18 6h0m18-7h0m-523 28h0m32-11h0m53 11h0m3-14h0m345-2h0m108-2h0m27 8h0m36 3h0m127-3h0m-800 27h0m8-6h0m22-2h0m49 10h0m59-13h0m3 3h0m137-4h0m12 1h0m49 9h0m45-9h0m245 12h0m125-11h0m45 10h0m53-1h0m8-3h0m-618 12h0m43 0h0m356 12h0m151-2h0m-819 7h0m73 1h0m483-1h0m50 6h0m156 3h0m-542 22h0m81 2h0m352 1h0m71-9h0m6 13h0m-738 19h0m2-19h0m2 11h0m11-9h0m10 2h0m80 1h0m196 9h0m70-9h0m117 3h0m156-4h0m47-2h0m-706 21h0m7 2h0m96-1h0m4 1h0m143 7h0m147 4h0m138 2h0m-497 7h0m41 5h0m467 0h0m184 23h0m2-4h0m-700 12h0m531 18h0m1-3h0m-527 23h0m454-12h0m8-1h0m34 2h0m2 3h0m215-5h0m-690 34h0m505-8h0m8 1h0m180-1h0m-748 24h0m28-13h0m204 7h0m194-5h0m13 12h0m86-2h0m4-6h0m74-7h0m14 0h0m-612 22h0m37 28h0m47-6h0m502 10h0m-580 12h0m14-3h0m22 9h0m11-5h0m13 38h0m17 10h0m64 14h0m274 9h0m-368 20h0"/>
<path stroke="#37ffc8" d="M257 276h0m150 12h0m-103 28h0m174 44h0m-219 54h0m58 3h0m12 43h0m-27 17h0m5-10h0m17 9h0m218-3h0m13-2h0m-292 17h0m326 39h0m43 6h0m14-6h0m3-5h0m-367 24h0m210 6h0m181 2h0m-171 20h0m52-9h0m-253 21h0m29 1h0m182-3h0m-169 18h0m154 15h0m34-14h0m17 12h0m23-13h0m5 6h0m55-5h0m-363 36h0m168-19h0m-141 25h0m208 13h0m-243 14h0m180-12h0m86 18h0m95-4h0m-363 10h0m225 11h0m160-6h0m-361 20h0m334-7h0m174 7h0m-495 21h0m76 7h0m15-2h0m225-1h0m17-3h0m27-3h0m128 0h0m45 6h0m-458 7h0m32 2h0m180 4h0m32-5h0m62 17h0m15-7h0m27 8h0m23-4h0m107-4h0m-474 26h0m130-16h0m43 16h0m17 1h0m150 0h0m22-13h0m-448 32h0m281-8h0m318-5h0m28 8h0m-632 16h0m119-5h0m31 12h0m106-14h0m280 12h0m86 1h0m21-3h0m13-6h0m118 11h0m155-12h0m8-3h0m-511 21h0m50 17h0m4-3h0m10-9h0m14 1h0m44 8h0m14-15h0m114 7h0m45 9h0m4-11h0m24-2h0m165 3h0m7 9h0m56-10h0m3 7h0m-848 16h0m292 6h0m6-15h0m4 18h0m107-13h0m6 0h0m60 8h0m335 0h0m-874 14h0m146-6h0m32 3h0m193 0h0m17 4h0m220 5h0m71-3h0m27 8h0m154-8h0m14 7h0m38-4h0m21-8h0m-984 33h0m63-19h0m31 14h0m272 3h0m40 3h0m169-9h0m25-11h0m3 18h0m228-2h0m37-10h0m21 12h0m28-11h0m27 3h0m12 3h0m28 3h0m-893 7h0m2 9h0m83 4h0m62-1h0m313 3h0m32 1h0m80-9h0m133-4h0m149-3h0m-825 21h0m401 14h0m68-9h0m8 4h0m389-11h0m-973 34h0m189 3h0m116-15h0m11 13h0m31-4h0m150-11h0m116 6h0m21-7h0m1 18h0m50-11h0m266 6h0m-898 25h0m84-18h0m66 8h0m18 3h0m67-7h0m1-4h0m196 7h0m10-7h0m0 5h0m8-1h0m17 14h0m15-11h0m84-1h0m31 13h0m29-14h0m37 6h0m8 0h0m8 6h0m179-5h0m32 3h0m-872 16h0m88-11h0m54 3h0m63-1h0m6 4h0m265-2h0m167 3h0m47 9h0m176-6h0m-960 11h0m77 16h0m109-14h0m114 2h0m311 5h0m97-9h0m10 0h0m6 5h0m10-2h0m4 12h0m-661 16h0m425-4h0m67 0h0m127 4h0m32-11h0m188 6h0m7 12h0m4-9h0m17-9h0m2 15h0m-833 6h0m9 16h0m44-12h0m97-3h0m7 3h0m115-6h0m39 18h0m263-10h0m255 10h0m63-10h0m41-8h0m-612 32h0m6-7h0m18 3h0m168-4h0m8 2h0m322-6h0m9 19h0m-983 5h0m21 12h0m385-14h0m71 3h0m496 11h0m127 1h0m-1104 17h0m5-6h0m7-7h0m371 1h0m419 2h0m125 4h0m30 3h0m135-7h0m-1016 26h0m405 0h0m242-2h0m207 7h0m-876 16h0m886 0h0m143 17h0m-851 30h0m56-13h0m126-5h0m18 11h0m42-1h0m38-3h0m-375 12h0m11 3h0m191 1h0m523 6h0m-788 18h0m262 1h0m108 2h0m-265 22h0m249-3h0m188 4h0m177 5h0m90 1h0m-889 12h0m136-4h0m34-7h0m61 1h0m127 6h0m3 5h0m176-5h0m59 11h0m233-6h0m13 2h0m12 3h0m-860 15h0m91-12h0m201-1h0m124 6h0m107 6h0m31 3h0m43-7h0m73 7h0m107-11h0m21 2h0m4 11h0m18-11h0m20-4h0m-701 34h0m28-9h0m38-1h0m40 10h0m232 0h0m80-4h0m22-6h0m12 13h0m182-1h0m69-1h0m15 0h0m33 2h0m18-16h0m-734 20h0m39 2h0m35 11h0m162-8h0m127 3h0m212-8h0m76 1h0m30 14h0m-830 18h0m85-1h0m103-6h0m8-8h0m0 6h0m62 10h0m104-8h0m8 0h0m11-5h0m239-1h0m14 17h0m143-19h0m14-1h0m6 14h0m14 2h0m-625 6h0m11 6h0m53 10h0m12-6h0m12 6h0m34-15h0m25 3h0m34-3h0m38-1h0m199 11h0m10-5h0m1 8h0m2-13h0m4 4h0m-469 15h0m46 10h0m17 2h0m81-6h0m22 6h0m54-14h0m148 8h0m85-1h0m8 10h0m25-6h0m-649 26h0m180-5h0m27-1h0m58 8h0m5-15h0m37 7h0m183 8h0m-242 1h0m153 18h0m35-13h0m-451 30h0m186-7h0m1-6h0m36 2h0m3 7h0m14 7h0m33-13h0m0 6h0m24-1h0m87 6h0m215-3h0m-533 14h0m124 7h0m166-8h0m7-4h0m48 12h0m10-4h0m9 0h0m47-1h0m-466 23h0m18 3h0m143-7h0m158-4h0m50 2h0m6 0h0m4 13h0m18-19h0m44 6h0m-403 33h0m2-6h0m98-1h0m129 6h0m54 0h0m30-9h0m45-3h0m-278 27h0m242-11h0m87 7h0m-289 16h0m76 11h0m40-14h0m28 8h0m1-6h0m5 5h0m-42 25h0m82 5h0m13-9h0m-286 13h0m195 0h0m9-2h0m26 6h0m19 2h0m8-3h0"/>
<path stroke="#26ffd9" d="M296 280h0m43 6h0m59 7h0m-72 8h0m3 10h0m59-3h0m-18 51h0m83-6h0m12-2h0m-103 44h0m128-4h0m-183 11h0m1 22h0m-32 19h0m220 11h0m104 32h0m-164 49h0m78 24h0m7 5h0m28-3h0m-137 36h0m0-6h0m8 1h0m28-6h0m-111 18h0m9 4h0m253 21h0m33-7h0m19 17h0m-105 10h0m155 5h0m-117 18h0m-283 14h0m199 10h0m75-6h0m6-4h0m62 10h0m5 4h0m26-8h0m71 6h0m-486 14h0m7-1h0m66-1h0m320-8h0m-324 32h0m365-8h0m39 10h0m-134 18h0m32-8h0m24-5h0m73 2h0m66 9h0m51-10h0m10 11h0m4-10h0m-370 29h0m236 2h0m5 4h0m11 1h0m58-6h0m125-6h0m-414 18h0m213 13h0m63-8h0m-41 16h0m17 11h0m10-6h0m16 5h0m71-5h0m377-2h0m29-4h0m-873 18h0m95-2h0m244 1h0m22 12h0m12-10h0m65 6h0m34 1h0m199-7h0m-546 35h0m255-12h0m60-6h0m214 12h0m199 6h0m-780 13h0m162-11h0m60 10h0m169-10h0m33 3h0m28 15h0m36-2h0m34-8h0m29 10h0m118-2h0m111-12h0m-778 26h0m423 3h0m34-7h0m38 6h0m192-12h0m24 16h0m59-12h0m-870 31h0m207 1h0m47 1h0m107-11h0m135 5h0m18-9h0m120 15h0m13 0h0m15-3h0m85-2h0m-554 10h0m93 6h0m67 7h0m91-11h0m117 9h0m7-5h0m17 8h0m60-15h0m2 5h0m249-3h0m-834 31h0m9-14h0m112 6h0m89-7h0m45 10h0m137-2h0m7-1h0m14 2h0m40 0h0m260 10h0m-886 5h0m170 15h0m134-2h0m127-11h0m63 12h0m39-4h0m156-3h0m70 0h0m0 7h0m26-11h0m57 7h0m-760 14h0m272 0h0m46-4h0m317 0h0m3 2h0m59-5h0m-674 21h0m71 16h0m7-2h0m106-5h0m47 6h0m408-6h0m8 8h0m27-3h0m-560 14h0m114-7h0m44-1h0m431 1h0m144 12h0m-852 17h0m240 1h0m127-1h0m289-3h0m303-9h0m-1059 35h0m18-13h0m447 5h0m14 6h0m-97 26h0m3-13h0m15 7h0m14-11h0m39 2h0m36 2h0m-458 20h0m0 22h0m701 0h0m373 7h0m-717 38h0m61 46h0m471 7h0m-725 24h0m188-2h0m19 5h0m71-3h0m166-10h0m103 1h0m-592 33h0m49-8h0m601-3h0m-672 31h0m87-13h0m87 12h0m468 6h0m77-6h0m7-8h0m12-3h0m53 3h0m-469 21h0m138 14h0m13-3h0m216-13h0m86 12h0m-731 15h0m49-3h0m17 3h0m111 3h0m67-2h0m175 5h0m183-2h0m24 1h0m23-5h0m-765 10h0m43 8h0m248 8h0m116-15h0m348 2h0m-696 23h0m7 5h0m144 0h0m142 8h0m89-8h0m135-6h0m49 13h0m17-6h0m-552 18h0m25 2h0m13 4h0m17 2h0m15-1h0m91 1h0m9-15h0m60-3h0m-297 22h0m123 16h0m50-3h0m14-10h0m15 7h0m152-3h0m34 7h0m-282 3h0m16 3h0m20 15h0m81-3h0m12-3h0m21 2h0m-89 19h0m29 3h0m17-2h0m38-5h0m7 0h0m3 7h0m-95 19h0m26-11h0m80 3h0m36 8h0m18 2h0m-106 8h0m44-1h0m69 16h0m-380 17h0m342-10h0m93 9h0m-224 14h0m10 5h0m5-11h0m158 2h0m50 18h0m8-1h0m-192 30h0m33-10h0m21 0h0m3 12h0m1-12h0m74 0h0m-208 28h0m88-11h0"/>
<path stroke="#c8ff37" d="M366 278h0m38 24h0m24 56h0m-157 2h0m63 11h0m90-6h0m-105 23h0m2-4h0m11 9h0m8-1h0m-6 13h0m5 2h0m154-5h0m22 14h0m-61 12h0m41 33h0m11 5h0m8-6h0m22 19h0m-252 14h0m88 2h0m132-11h0m75 6h0m-282 25h0m61-3h0m86-2h0m17 6h0m9-6h0m37-6h0m85 10h0m-312 22h0m22-2h0m31-13h0m59 13h0m-29 19h0m13-12h0m163 14h0m85 3h0m-4 8h0m-168 23h0m-109 29h0m337 13h0m-397 20h0m104 4h0m168-6h0m103 6h0m-278 6h0m21 5h0m8 4h0m-7 15h0m-37 16h0m84 3h0m103 5h0m-293 30h0m71-17h0m462 6h0m-521 25h0m16-11h0m138 17h0m15-4h0m11-8h0m8 11h0m-8 3h0m28 0h0m81 54h0m115-10h0m-113 18h0m80 7h0m-313 31h0m363 17h0m389-6h0m-29 26h0m33-8h0m-18 29h0m-766 14h0m404-8h0m372-3h0m-694 26h0m369 7h0m368-7h0m22-6h0m-764 31h0m16-6h0m44 2h0m191 5h0m133 4h0m169-17h0m138 7h0m13 5h0m-670 26h0m287-3h0m212-16h0m-633 36h0m18-11h0m559-2h0m-187 26h0m91-1h0m64-4h0m326 7h0m-496 16h0m282 3h0m47 6h0m-609 15h0m53-9h0m12 15h0m31-10h0m307 0h0m204 11h0m-608 22h0m69-7h0m120-8h0m506 3h0m3 8h0m-694 14h0m55-6h0m0 14h0m59-9h0m7 7h0m115-7h0m211 10h0m27-4h0m14 5h0m30-7h0m8 5h0m77-13h0m-587 30h0m2-10h0m35-3h0m1 6h0m14 1h0m408-6h0m22 1h0m23 1h0m162 9h0m-709 19h0m35-10h0m1 17h0m58-16h0m52 13h0m187-17h0m350 14h0m246 5h0m-942 3h0m42 6h0m58 10h0m78-12h0m6 14h0m219-14h0m39-1h0m91-2h0m107 2h0m39 9h0m30-7h0m36 5h0m-251 20h0m232-4h0m-704 29h0m2-6h0m100 1h0m1-6h0m335 4h0m11-1h0m47 10h0m10-13h0m142 4h0m-511 20h0m22-5h0m36-2h0m327 3h0m24 3h0m-401 15h0m8 12h0m7 3h0m63-6h0m524-10h0m-800 18h0m142 17h0m100-17h0m176 14h0m232-7h0m31 6h0m-685 44h0m56-17h0m287 16h0m335-4h0m-281 22h0m368 0h0m-94 13h0m28 5h0m12 6h0m-224 21h0m29-11h0m21 0h0m209 13h0m-737 33h0m54-10h0m329 7h0m229-11h0m63-1h0m19 6h0m-742 18h0m1 6h0m655-6h0m-640 24h0m89 2h0m11-1h0m-115 21h0m451-9h0m111 15h0m-44 31h0m-358 65h0"/>
<path stroke="#67ff98" d="M372 278h0m-96 4h0m3 3h0m26 5h0m-2 18h0m80-6h0m-93 36h0m39-17h0m24 3h0m11-4h0m88 9h0m-140 30h0m73-11h0m-69 16h0m35 3h0m16 5h0m12 0h0m93-11h0m-157 37h0m57-12h0m53 30h0m-108 14h0m92-8h0m77 16h0m54-15h0m-260 23h0m38 3h0m103 10h0m32-2h0m83-9h0m-272 32h0m55-7h0m89 4h0m7-9h0m4 3h0m168-10h0m-284 28h0m63-5h0m220 15h0m17-18h0m-169 30h0m47-2h0m3 7h0m15-6h0m126 0h0m-290 25h0m100 5h0m8-5h0m159 5h0m-316 15h0m182-3h0m163 0h0m-292 13h0m229 3h0m97-1h0m13-1h0m-388 29h0m61 4h0m7-2h0m149-2h0m65 2h0m26-12h0m16-3h0m4 1h0m1 12h0m35-3h0m31-9h0m6 7h0m-413 25h0m22-1h0m29-8h0m122-3h0m105 8h0m105-10h0m-209 23h0m94-1h0m12 14h0m1-14h0m47 1h0m4-2h0m24 17h0m55-5h0m-333 6h0m38 12h0m69 1h0m4-5h0m80 6h0m187 5h0m-117 5h0m115 0h0m-246 26h0m58 2h0m148 8h0m4-7h0m43 3h0m-445 6h0m32 8h0m7-6h0m72 7h0m72 1h0m44-9h0m138 1h0m132 0h0m21 0h0m-514 32h0m168 0h0m254 3h0m29-10h0m-471 31h0m393-17h0m29 10h0m8-13h0m24 6h0m38 9h0m38-14h0m2 5h0m2 13h0m58-16h0m5 7h0m29 0h0m-577 11h0m9 3h0m94-3h0m40 16h0m20 1h0m88-14h0m98 7h0m101-10h0m-469 26h0m82-2h0m114 4h0m26 4h0m9-1h0m341 0h0m5 0h0m40 6h0m12-11h0m-662 19h0m59 0h0m99 5h0m21 3h0m75-8h0m82-2h0m61 7h0m20 0h0m201 0h0m11-2h0m7-4h0m30 13h0m6-14h0m54 15h0m87-1h0m-813 22h0m2-6h0m136-9h0m0 12h0m112-9h0m217-7h0m50 19h0m65-20h0m62 5h0m15-1h0m196 7h0m56-10h0m89 17h0m15 2h0m-1034 20h0m70-14h0m45 0h0m42 6h0m7-5h0m138 0h0m37 1h0m6 7h0m151-11h0m12-3h0m34 8h0m9-1h0m122-8h0m4 20h0m2-6h0m11 4h0m1-11h0m7-5h0m247 5h0m59 11h0m50 0h0m-939 9h0m8 0h0m33 3h0m9 2h0m38-6h0m9-4h0m153 16h0m17-10h0m43 0h0m81-1h0m4-5h0m19 11h0m9 1h0m93 1h0m286-9h0m4 6h0m87-8h0m7 5h0m33 8h0m-933 23h0m268-8h0m4 8h0m55-10h0m26 10h0m43 0h0m11-13h0m22 10h0m17 0h0m24-9h0m128 11h0m69 0h0m9-5h0m0-13h0m8 13h0m59 2h0m3 3h0m5-8h0m16-6h0m13 5h0m22 0h0m10 7h0m18-11h0m108-1h0m-910 25h0m24 9h0m20 0h0m46-2h0m5-2h0m16-5h0m170-1h0m3-4h0m20-5h0m16 10h0m16 2h0m43-10h0m36 0h0m7 2h0m77 0h0m95 14h0m106-3h0m74-11h0m31 1h0m62-1h0m29 1h0m15-1h0m-1054 18h0m7 0h0m114 5h0m144 2h0m16 11h0m61-5h0m149-14h0m37 2h0m46 2h0m31 10h0m7-7h0m85 0h0m15 2h0m45 4h0m46 3h0m18-1h0m45-11h0m130-2h0m48 5h0m20-6h0m2 14h0m-1054 17h0m1-5h0m5 10h0m20-5h0m30 5h0m26-2h0m57-1h0m5-1h0m19-5h0m12-3h0m103-2h0m47 9h0m119-12h0m49 1h0m20 2h0m40 15h0m135-18h0m236 12h0m7 3h0m21-3h0m3-11h0m76 14h0m-1017 15h0m8-6h0m18 0h0m196 8h0m8-12h0m12 6h0m12-5h0m77 10h0m20 1h0m47-4h0m39-2h0m9 4h0m75-9h0m63 10h0m21-1h0m36 4h0m2-15h0m2 20h0m38-6h0m143-7h0m-691 21h0m65-6h0m14 10h0m222 7h0m24-9h0m34-9h0m108 3h0m17 7h0m44 3h0m166-3h0m39-11h0m37 1h0m23 10h0m73-1h0m5-2h0m46 12h0m18-19h0m22 9h0m-1031 26h0m7-5h0m1-9h0m209 1h0m25 0h0m162 16h0m10-3h0m44-11h0m42 4h0m29 0h0m16 0h0m17 6h0m73 0h0m3-14h0m4 14h0m204 0h0m14 0h0m45-11h0m17 2h0m3 2h0m14-4h0m1 8h0m10-2h0m5 8h0m25-16h0m7 10h0m21-10h0m-1088 23h0m52-1h0m18 9h0m54 5h0m58-7h0m81 7h0m21-4h0m99-11h0m43 2h0m95 5h0m63-2h0m232 0h0m7 7h0m36-7h0m44 3h0m13 1h0m1 1h0m64 3h0m45-6h0m57-9h0m-1067 28h0m11-2h0m7 10h0m4-8h0m81 10h0m3-11h0m15 0h0m51-5h0m14 11h0m27 5h0m64 1h0m55-11h0m4 7h0m15-1h0m157-5h0m111-8h0m27 0h0m31 1h0m36-3h0m8 7h0m28-4h0m80 4h0m15-3h0m20 2h0m6 2h0m10 0h0m8 11h0m9-11h0m12 6h0m58-11h0m9 11h0m34-11h0m41 1h0m-1057 29h0m59 7h0m16-19h0m7 2h0m37 0h0m3 3h0m168 3h0m81 0h0m9 5h0m1-9h0m14-4h0m188 6h0m26 0h0m4 11h0m17-5h0m28-1h0m71-3h0m3 5h0m44 6h0m6-20h0m14 16h0m86-7h0m4-2h0m183 6h0m-1075 9h0m164 17h0m21-2h0m54-10h0m141 7h0m72-3h0m69-8h0m54 9h0m71 7h0m106-1h0m7-2h0m81-8h0m45-1h0m4 9h0m6 0h0m10 3h0m24-5h0m57-3h0m21-10h0m60 11h0m10 6h0m10-18h0m-836 37h0m159-5h0m42-5h0m98 8h0m110-11h0m168 5h0m50 10h0m20-13h0m21-5h0m85 0h0m32 0h0m1 14h0m13-5h0m28 9h0m21-14h0m2 11h0m6 2h0m-1098 7h0m55 10h0m349-1h0m280 0h0m36 1h0m155 0h0m17-7h0m58 9h0m28 0h0m28-3h0m18-11h0m11 15h0m36-4h0m-946 9h0m198-3h0m66 19h0m1-15h0m261-1h0m8 12h0m7-2h0m48-10h0m24 4h0m184-5h0m46-2h0m9 9h0m63 10h0m8-18h0m16 8h0m12-9h0m-964 31h0m92-11h0m40 15h0m125 4h0m297-8h0m120-3h0m49 1h0m72-2h0m18-6h0m1 13h0m3-7h0m25-2h0m15 8h0m21 5h0m36-5h0m29 4h0m11 2h0m17-13h0m-1057 33h0m271-10h0m66-8h0m48 4h0m25 3h0m42 3h0m10 4h0m17 2h0m118 1h0m79-18h0m3 2h0m163 9h0m18-6h0m97 0h0m11 14h0m4-12h0m16 3h0m30 8h0m36-8h0m-1041 16h0m117 14h0m153-6h0m0-14h0m33 1h0m53 3h0m10 11h0m25-2h0m26 7h0m123-11h0m80-9h0m28 11h0m86 6h0m72-8h0m15 9h0m74-12h0m49-6h0m11 4h0m4 14h0m72-6h0m-1033 18h0m43 1h0m10 6h0m27-5h0m25-2h0m52 6h0m2-6h0m133-7h0m17 13h0m11-12h0m13 14h0m105-3h0m52 1h0m8-8h0m1 9h0m209-2h0m54 3h0m65-1h0m3-6h0m13-8h0m108 11h0m7-2h0m26-7h0m-947 30h0m84-2h0m156-11h0m52 1h0m173-1h0m108 2h0m35 6h0m5-3h0m110-2h0m6 10h0m42-12h0m59 4h0m76 3h0m26-6h0m-990 30h0m91 1h0m138-3h0m7 7h0m100-10h0m80 3h0m122 1h0m8 0h0m83-4h0m153 10h0m102-12h0m5 4h0m16 8h0m28-7h0m22-2h0m-835 21h0m129-6h0m3 13h0m22-3h0m10-15h0m38 5h0m42-4h0m7 11h0m60-1h0m114-5h0m117 13h0m76-17h0m118 18h0m22-16h0m-885 21h0m208-4h0m4 8h0m7-4h0m145 6h0m181 6h0m3 2h0m103-3h0m7-9h0m5-1h0m82 1h0m100-1h0m42 0h0m-891 19h0m18 12h0m4-12h0m155-1h0m5 11h0m94-6h0m10-8h0m172 11h0m7-3h0m64-6h0m49 11h0m24-11h0m82 3h0m94-3h0m10 8h0m74-8h0m-884 18h0m13 14h0m33-7h0m73 8h0m8 0h0m76-5h0m36 5h0m128-15h0m51 13h0m69-11h0m25 0h0m65 12h0m33-2h0m184-2h0m63-10h0m7 3h0m-837 30h0m14-8h0m49 4h0m3 2h0m26-2h0m5-9h0m13 19h0m99-18h0m42 5h0m104-3h0m70 9h0m6 1h0m38-10h0m109 16h0m14-16h0m9 0h0m42-3h0m20 18h0m28-11h0m74 7h0m-742 10h0m9 3h0m141 5h0m0-11h0m82 9h0m91-3h0m19 10h0m2-13h0m62 3h0m5 5h0m15-8h0m138 6h0m43-3h0m11 11h0m22-14h0m61 14h0m-740 5h0m75 3h0m369 3h0m36 10h0m167-11h0m30 8h0m46 3h0m29-15h0m-703 33h0m56-7h0m150 8h0m181-5h0m29-12h0m15 8h0m-481 22h0m281-9h0m0 12h0m86-4h0m8-6h0m6-2h0m67-2h0m56 9h0m14-1h0m25 5h0m90-13h0m29 9h0m2-7h0m-657 21h0m37 4h0m18 11h0m37-5h0m4-7h0m2-4h0m48 14h0m10-15h0m9 17h0m276-13h0m174-5h0m15 14h0m-540 7h0m13 15h0m9-10h0m55 12h0m232-13h0m44 5h0m27 8h0m26-13h0m27-1h0m11 7h0m-507 20h0m100 7h0m159 0h0m41-7h0m2 5h0m101-7h0m-347 19h0m66-7h0m126 14h0m-205 13h0m46 6h0m114-1h0m101 1h0m-250 19h0m135-6h0m22 11h0m-189 7h0m127 5h0m22-10h0m48 17h0m5 0h0m6-5h0m-48 7h0"/>
<path stroke="#16ffe9" d="M344 295h0m42-4h0m-54 35h0m116 16h0m-64 67h0m24-6h0m11 12h0m164 21h0m-312 99h0m257 23h0m18-9h0m128 11h0m-339 70h0m164-2h0m176 6h0m39-10h0m-219 25h0m73 0h0m9 10h0m-35 8h0m-222 17h0m168-1h0m25 6h0m11-4h0m10-4h0m55 0h0m87 2h0m14 9h0m-163 16h0m139 9h0m-91 6h0m73 4h0m18-6h0m26 19h0m0 30h0m19 2h0m4-7h0m-7 32h0m5-1h0m20-9h0m21 5h0m28-9h0m12-3h0m130 12h0m-595 10h0m387 2h0m37-3h0m36 33h0m171 2h0m-398 18h0m207-7h0m3-7h0m63 4h0m39 17h0m364 17h0m-860 16h0m78-8h0m383 4h0m45-3h0m53 9h0m75 2h0m18 2h0m235-15h0m-786 25h0m112 8h0m3-6h0m24-4h0m7 1h0m118-6h0m202 3h0m-515 25h0m44-9h0m106-1h0m324 17h0m146 1h0m-450 15h0m54-4h0m336 9h0m15-5h0m-211 18h0m206-4h0m33 1h0m12 2h0m-442 17h0m420 3h0m-572 25h0m564 3h0m15-8h0m48-8h0m151 16h0m9-19h0m-794 21h0m582 3h0m108-1h0m-101 20h0m-344 29h0m129 3h0m-77 22h0m-9 16h0m-450 17h0m705 4h0m-680 52h0m398 43h0m106 25h0m154-11h0m154 6h0m32-7h0m-587 24h0m185 0h0m139 14h0m-416 5h0m157 10h0m189 4h0m-396 18h0m420-10h0m28-2h0m98 7h0m73 4h0m23-11h0m24 8h0m8 2h0m-621 23h0m49-15h0m78-1h0m468 1h0m-716 32h0m191 4h0m-195 20h0m9-19h0m159 16h0m43-1h0m303-14h0m13 12h0m52 6h0m-449 2h0m17 7h0m33 6h0m-61 24h0m46-8h0m31-5h0m27-2h0m45 9h0m-88 11h0m117 8h0m-176 14h0m2 31h0m37-7h0m13 5h0m3-8h0m46 13h0m30-6h0m87 1h0m-169 21h0m19-9h0m31 3h0m5 10h0m82-14h0m5 3h0m71 0h0m33 7h0m-489 19h0m313-1h0m4-12h0m18 7h0m56 6h0m-128 9h0m49 8h0m51-3h0m78-2h0m-366 49h0m178 4h0m75-10h0m63-1h0m-173 30h0m115-16h0"/>
<path stroke="#57ffa8" d="M276 297h0m138 0h0m-154 10h0m32 7h0m8 3h0m18-6h0m17-1h0m1 6h0m5 4h0m26-15h0m35 5h0m-147 12h0m40-1h0m110 19h0m50-5h0m-108 7h0m35-2h0m75 5h0m-158 31h0m24-3h0m120 5h0m-86 8h0m119 13h0m40-16h0m-164 20h0m36 2h0m105 7h0m-216 23h0m77-9h0m29-5h0m149 5h0m-245 22h0m9 0h0m95-3h0m-86 26h0m9-7h0m19 8h0m69 0h0m173 1h0m31 0h0m-297 12h0m291 7h0m-73 18h0m-245 11h0m227 1h0m8 18h0m23-6h0m41-2h0m36 3h0m-332 25h0m202-17h0m146 6h0m-315 17h0m87 1h0m7 4h0m84 6h0m53-10h0m7 13h0m24-18h0m-46 35h0m107-10h0m-363 24h0m10 1h0m25-6h0m134 11h0m120-8h0m-306 20h0m201-7h0m-188 36h0m127-16h0m65 1h0m7 8h0m5-11h0m117 1h0m-106 26h0m36-2h0m7 3h0m71 7h0m-332 12h0m44 6h0m53 7h0m25-8h0m87-2h0m46 9h0m75-8h0m20 0h0m2-4h0m38-4h0m3 16h0m122-2h0m-480 7h0m81 13h0m19-11h0m91 9h0m37-3h0m44-4h0m54 2h0m14 7h0m129 1h0m40-7h0m-538 23h0m274-12h0m103 2h0m19 13h0m114-12h0m25-2h0m40 5h0m-565 26h0m6 4h0m92-13h0m11-3h0m6 4h0m29 2h0m279 1h0m11 3h0m29 1h0m77 2h0m6 1h0m24-9h0m9-5h0m21-1h0m4 12h0m-447 18h0m110 6h0m339-6h0m0 6h0m38 1h0m-557 22h0m68-4h0m50-13h0m25 11h0m98 6h0m104-20h0m70 10h0m90 6h0m39-9h0m10-3h0m2-1h0m8 11h0m-380 11h0m127 12h0m4-11h0m39 5h0m48 4h0m68-4h0m32-3h0m69 2h0m32 8h0m40-3h0m97 3h0m89-7h0m8-1h0m10-2h0m4 3h0m15 8h0m3-15h0m14 8h0m17 3h0m-984 16h0m87-7h0m99 1h0m1 9h0m65 2h0m145-9h0m36 0h0m58 7h0m112 4h0m1-10h0m116 5h0m87-8h0m15 4h0m29 11h0m69 0h0m22-17h0m58 13h0m-940 5h0m91 14h0m95-12h0m14 15h0m6-18h0m143 0h0m32 16h0m28 2h0m43 1h0m49-10h0m42-2h0m28 7h0m4-4h0m44-1h0m39 11h0m52-19h0m146 6h0m50-1h0m-850 33h0m33-6h0m69-7h0m58-6h0m32 11h0m31 9h0m1-19h0m37 7h0m10-7h0m19 6h0m25 7h0m15-3h0m39-4h0m4 13h0m3-19h0m44 6h0m15-1h0m367 1h0m11 2h0m14 2h0m8 3h0m12-4h0m17-9h0m27 10h0m18-10h0m-962 25h0m7 6h0m32 6h0m5 0h0m3-7h0m46 3h0m10 3h0m6 1h0m105 0h0m68-14h0m104 7h0m33-7h0m50 12h0m145-11h0m27 5h0m149-10h0m72 17h0m12 2h0m58-8h0m5-8h0m2 8h0m34-3h0m-886 15h0m85 1h0m148 7h0m59-7h0m72 11h0m10 2h0m36-12h0m7 11h0m26-4h0m85-2h0m16 6h0m27-6h0m23 5h0m93 2h0m65-8h0m15 1h0m68 6h0m4 1h0m13-7h0m11 9h0m-1039 15h0m65-9h0m114 2h0m55 6h0m26 5h0m44-1h0m115 1h0m42-14h0m116 3h0m7 8h0m138 0h0m83-5h0m0 4h0m133 2h0m6-7h0m29-1h0m10 6h0m-937 25h0m70-17h0m31 18h0m5-19h0m34 15h0m164-3h0m62 2h0m16 4h0m11-17h0m66 13h0m75-5h0m9-4h0m2-3h0m35 11h0m26 0h0m13-13h0m39 9h0m109-10h0m124 4h0m56 5h0m9-5h0m11 6h0m-985 11h0m68 12h0m161 2h0m28-3h0m14-7h0m45 9h0m37-5h0m140 8h0m37-6h0m126-2h0m1 2h0m72 0h0m127 3h0m48 6h0m27-1h0m15-8h0m9 2h0m27 7h0m22 0h0m17-7h0m44-8h0m16 15h0m-972 17h0m19-12h0m12 6h0m122 7h0m38-2h0m11-4h0m9 5h0m52-1h0m63-15h0m15 18h0m91-8h0m13-10h0m117 17h0m79-4h0m145 2h0m0-5h0m14-3h0m17 4h0m128 0h0m-1011 23h0m40-13h0m5 1h0m4 6h0m71-5h0m50 8h0m27 5h0m23-14h0m53 10h0m254-4h0m17-6h0m170 12h0m69 0h0m57 1h0m83-13h0m4 6h0m47 10h0m15 0h0m21-17h0m14 6h0m1 11h0m-994 2h0m13 10h0m86-7h0m4 10h0m133 3h0m8-10h0m43 2h0m281 7h0m124-5h0m15 3h0m9 0h0m47-5h0m85-8h0m4 16h0m7 0h0m20-9h0m12-6h0m30 13h0m12-10h0m-1016 22h0m24 9h0m7 0h0m58-2h0m37-4h0m70-8h0m18 2h0m26 9h0m4 7h0m118-7h0m14 2h0m63-6h0m286 6h0m14-5h0m48-9h0m252 9h0m21 4h0m3-7h0m18-5h0m-1097 25h0m29 2h0m180 8h0m37 1h0m22-12h0m37 6h0m137-7h0m135-3h0m110 11h0m6-4h0m36 8h0m2-4h0m26 7h0m72-2h0m34-12h0m33 5h0m23 1h0m10-11h0m9 0h0m2 19h0m42-8h0m56-10h0m7 10h0m-1039 18h0m21 4h0m22 3h0m336 2h0m38-13h0m226-1h0m74 11h0m178-9h0m25 10h0m22 3h0m24-10h0m80-9h0m34 12h0m15-7h0m2 9h0m-677 15h0m22 1h0m334 0h0m18 8h0m121-9h0m12 6h0m36-12h0m11 0h0m63 14h0m15-6h0m6 1h0m-1038 11h0m35 5h0m162 1h0m60 6h0m34-2h0m25-2h0m7-3h0m21 5h0m109-12h0m201 13h0m42-10h0m188 9h0m28-10h0m52 5h0m114 6h0m-1027 7h0m281 0h0m30 8h0m415 1h0m58-10h0m5 3h0m69 2h0m30 1h0m60 8h0m71 2h0m4 3h0m-1053 7h0m282 8h0m94-8h0m66-6h0m166 13h0m88 5h0m80-18h0m43 6h0m190 12h0m26-1h0m-1084 16h0m39-2h0m171 2h0m16-4h0m85 6h0m21-5h0m13-5h0m66 12h0m85-10h0m192-1h0m215 3h0m58 8h0m103-12h0m-935 27h0m124-9h0m29 11h0m67-13h0m214 18h0m259-17h0m59 7h0m127 1h0m-973 18h0m159 0h0m50 8h0m111-12h0m41 6h0m26 6h0m7-14h0m8-2h0m100 10h0m37-10h0m143 2h0m14 8h0m45-3h0m0 8h0m20 2h0m9 0h0m60-15h0m7 7h0m34-2h0m95 3h0m-992 19h0m265-2h0m30 0h0m123-5h0m97 7h0m116 5h0m65 2h0m3-17h0m25 7h0m1 7h0m53-12h0m21 9h0m14-7h0m36 10h0m-867 22h0m97-7h0m25 4h0m24 7h0m1-14h0m5 3h0m13-7h0m67 6h0m7-1h0m69-4h0m50 15h0m5 1h0m25-16h0m32 4h0m50-2h0m10-2h0m41 0h0m73 15h0m96-9h0m33-7h0m48 13h0m32 4h0m39-4h0m13 3h0m88-16h0m7 1h0m-936 21h0m120 9h0m24-6h0m3-6h0m11 8h0m51-1h0m11 2h0m135 9h0m8-1h0m138-12h0m31 5h0m28 3h0m5 4h0m39-18h0m6 2h0m67 12h0m33-4h0m119-5h0m42 12h0m58-2h0m0-10h0m-868 20h0m4 13h0m75-13h0m50 5h0m114 9h0m22-12h0m15 12h0m7-1h0m88-9h0m22 1h0m12-5h0m67 5h0m93 2h0m14-8h0m13 3h0m88 11h0m19-1h0m43 3h0m8-13h0m44 4h0m19-6h0m-866 33h0m70-16h0m5 1h0m44 7h0m14-8h0m42 12h0m219-12h0m5 9h0m66-9h0m22 13h0m3-4h0m60 7h0m45-14h0m3 7h0m38-3h0m140 10h0m-790 21h0m41-6h0m8 2h0m122 1h0m42-9h0m67 9h0m5-12h0m79 13h0m56-1h0m171-8h0m12 0h0m16 6h0m22-14h0m20 3h0m4 0h0m154 12h0m-818 11h0m32 8h0m103-11h0m26 4h0m86 12h0m9-19h0m71 18h0m58-9h0m7 7h0m18-14h0m31 2h0m155 5h0m91-3h0m99 4h0m9-2h0m-726 23h0m73 6h0m22-8h0m213-8h0m22 5h0m23 6h0m9 6h0m18-17h0m22 9h0m4 7h0m11-6h0m14-10h0m129 12h0m48-8h0m11 3h0m-528 26h0m150 5h0m69-1h0m2-6h0m43-5h0m9 12h0m29-3h0m63 4h0m71-8h0m27-5h0m15-7h0m42 1h0m-678 29h0m92 5h0m7 3h0m164-6h0m144-7h0m32 6h0m47 5h0m14-1h0m87-11h0m88 10h0m46-5h0m-540 25h0m49-7h0m43-4h0m217 12h0m10-10h0m39 2h0m19 2h0m111-4h0m-478 21h0m285-4h0m15 4h0m151-2h0m-616 31h0m88 2h0m34-10h0m62-4h0m112 3h0m11 9h0m21-9h0m103 7h0m65-13h0m-473 21h0m74 11h0m34 0h0m99 7h0m121-11h0m39 8h0m6 0h0m60-16h0m-451 24h0m254 5h0m-151 27h0m9-3h0m31-3h0m64 1h0m45-4h0m14 7h0m11-13h0m4 16h0m14-2h0m8-14h0m15 4h0m45 12h0m40-15h0m-392 34h0m91-15h0m93 0h0m123 1h0m-275 36h0m64-12h0m6 0h0m47 3h0m98-3h0m23 1h0"/>
<path stroke="#f9ff06" d="M354 294h0m185 159h0m-154 7h0m40 18h0m35-10h0m11-8h0m4 14h0m20-9h0m-103 27h0m174 26h0m-169 58h0m39 113h0m17-5h0m140 97h0m8 17h0m-251 7h0m-17 32h0m89 62h0m-108 13h0m73-4h0m58 136h0m338 63h0m227 2h0m-387 43h0m-77 14h0m360 20h0m-468 21h0m127 24h0m139 69h0m286 106h0m-160 19h0m35 54h0"/>
<path stroke="#47ffb8" d="M378 299h0m-85 31h0m54 0h0m24 2h0m25 7h0m50-18h0m-150 21h0m7 6h0m10-1h0m162 19h0m-165 32h0m173-1h0m-183 7h0m127 15h0m27-3h0m-152 10h0m43 2h0m1-5h0m82 5h0m-94 25h0m49-4h0m47 29h0m187-15h0m-318 20h0m204 33h0m11-2h0m-259 20h0m37-10h0m14 5h0m217 0h0m65 5h0m33-12h0m10-1h0m5 7h0m15 11h0m-340 9h0m18 5h0m141-5h0m128 12h0m33-20h0m-328 25h0m86 0h0m28 8h0m94-2h0m51 7h0m35 1h0m-258 18h0m232-6h0m-221 27h0m163-13h0m79 5h0m41 8h0m-344 4h0m3 11h0m31-4h0m122 6h0m106 1h0m15-3h0m42 7h0m19-4h0m11-11h0m-366 23h0m119-7h0m105 10h0m15 7h0m30-12h0m42 12h0m-103 8h0m147 7h0m79 5h0m-431 19h0m10-5h0m206 4h0m26-9h0m11 2h0m40-2h0m60-6h0m4 4h0m51 4h0m14-3h0m7 7h0m5 1h0m55 1h0m-487 24h0m239-8h0m102 0h0m61-2h0m20 1h0m26-1h0m36 5h0m-395 16h0m174-9h0m59 18h0m37-14h0m29 2h0m35 0h0m27 2h0m5-7h0m71 13h0m13-8h0m40 0h0m-482 13h0m0 7h0m305-7h0m5 18h0m13-13h0m14 10h0m40-13h0m32 16h0m115 1h0m-573 19h0m166-12h0m104-5h0m36 1h0m22 11h0m14-12h0m77 3h0m36 4h0m-163 18h0m60 4h0m24 9h0m34-18h0m42 13h0m30-13h0m17 6h0m22 13h0m-560 16h0m156-7h0m172 1h0m17 6h0m252-7h0m143-1h0m197 9h0m-952 23h0m82-18h0m7 7h0m17-2h0m8 13h0m296-15h0m126 4h0m8 8h0m8-16h0m2 12h0m55 7h0m20-10h0m63-7h0m35 10h0m26-3h0m64-6h0m104-3h0m22-1h0m4 8h0m31 9h0m-464 16h0m11 6h0m62-12h0m176 5h0m4-9h0m24 7h0m87 5h0m15 3h0m47-5h0m-628 13h0m135 11h0m96-4h0m7-1h0m33-7h0m28 13h0m278-6h0m59-10h0m9 3h0m90 6h0m7 8h0m-967 8h0m147 0h0m13 6h0m70 1h0m45-5h0m36 1h0m192 7h0m24-8h0m94-4h0m11 14h0m204-6h0m28-6h0m32-6h0m40 4h0m8 9h0m14-6h0m-987 16h0m43 0h0m87-1h0m30 9h0m203 4h0m13 2h0m16-13h0m31 7h0m2 6h0m39-15h0m47 7h0m66-7h0m64 13h0m6-3h0m54-8h0m69 7h0m118 6h0m64-15h0m6 3h0m-1018 15h0m52 16h0m29 0h0m157-12h0m24 0h0m12 4h0m3-8h0m68 2h0m26 12h0m13-1h0m183 2h0m11-13h0m36 12h0m34-8h0m91 7h0m19 1h0m7-4h0m53 3h0m119-12h0m68 8h0m-916 14h0m9 3h0m196 11h0m104-11h0m8-1h0m87 3h0m12-2h0m8 6h0m14-5h0m189 5h0m229 2h0m12-2h0m102 1h0m-1070 19h0m274 6h0m21-6h0m36 5h0m41-13h0m172 13h0m57-10h0m78-5h0m65-1h0m102 9h0m173 3h0m-947 18h0m136 6h0m14-1h0m18-1h0m83-12h0m211 15h0m80-9h0m118-3h0m40 4h0m174 7h0m7 0h0m13-15h0m1 14h0m4-14h0m2 8h0m65-8h0m42 15h0m31-2h0m-983 20h0m3-8h0m171 7h0m27-2h0m10-8h0m377-3h0m114 0h0m28 3h0m60 6h0m18-5h0m6-3h0m18 13h0m14-6h0m-968 18h0m95-6h0m22 18h0m93-4h0m9-1h0m41-8h0m35 2h0m75 6h0m223-10h0m111-4h0m37 2h0m16 8h0m57-8h0m113 5h0m85 10h0m33 2h0m3-5h0m-1056 8h0m213 12h0m53-8h0m33 7h0m7 4h0m93-18h0m54 19h0m36 0h0m405-18h0m51 0h0m76 13h0m82-4h0m4 6h0m-866 23h0m3-10h0m185-1h0m20 6h0m31 4h0m44-17h0m90 12h0m374 2h0m9-15h0m6 1h0m1 6h0m7-4h0m46-1h0m0 4h0m58 8h0m-1041 13h0m54 6h0m171 2h0m79-4h0m6 3h0m18-8h0m25-6h0m8 12h0m42 5h0m188-17h0m13 1h0m67 17h0m82-7h0m74-7h0m43 12h0m38 4h0m11-8h0m9 6h0m-984 18h0m449-16h0m5 6h0m325 11h0m107-11h0m46 1h0m39 3h0m87 9h0m36-9h0m-1083 12h0m23 9h0m184 4h0m189-12h0m52 1h0m203 11h0m34-12h0m190 4h0m29 11h0m20-8h0m114-9h0m42 19h0m-415 0h0m179 10h0m37-3h0m30 0h0m12 3h0m40-6h0m-942 18h0m352 18h0m47-6h0m-272 24h0m263-9h0m125 3h0m142-6h0m199 11h0m159-13h0m46 0h0m-969 20h0m67 12h0m-208 21h0m73-6h0m147 5h0m73-2h0m31-6h0m220-6h0m91 9h0m84-3h0m172 1h0m-856 14h0m7-2h0m62 4h0m127-2h0m129 14h0m10 0h0m14 0h0m86-15h0m128 6h0m124-6h0m187 18h0m12-17h0m-694 30h0m75 3h0m44 0h0m39-10h0m97 10h0m67-11h0m36 14h0m173-13h0m154 8h0m-857 18h0m37-8h0m38 14h0m71-1h0m21 0h0m54-16h0m7 1h0m10 15h0m2-2h0m46-5h0m243 8h0m215-6h0m19 0h0m86-1h0m-707 28h0m7-4h0m92-6h0m67 4h0m48 6h0m71-2h0m25 3h0m71-9h0m107 6h0m7-1h0m59-10h0m22 6h0m64-6h0m61 7h0m36-7h0m-848 14h0m166 12h0m28-8h0m60 2h0m22 9h0m26-13h0m16 4h0m101-1h0m83 6h0m57-1h0m17-6h0m46 14h0m28-2h0m23-11h0m67 3h0m-740 29h0m16-4h0m8 7h0m80-15h0m8 4h0m28 4h0m42-10h0m5 10h0m36-13h0m56 11h0m26-6h0m36 9h0m71 4h0m94-11h0m230 1h0m-682 12h0m17 8h0m6 2h0m10 2h0m59 1h0m154-7h0m247 7h0m200-7h0m-738 31h0m2-8h0m83-2h0m14 7h0m27-7h0m12-1h0m70-5h0m268 18h0m39 0h0m52-19h0m-468 28h0m163 9h0m31-14h0m316 1h0m-535 33h0m60-1h0m18-1h0m147-12h0m14-1h0m-253 25h0m44-5h0m16 7h0m90-8h0m45 4h0m10 2h0m73 6h0m13-4h0m60-4h0m153-4h0m-639 26h0m25 1h0m17-7h0m143 3h0m7 6h0m149-4h0m10-5h0m31 6h0m32-6h0m55 8h0m32-5h0m-433 17h0m9 2h0m346 3h0m18 3h0m22 8h0m25-11h0m-476 24h0m62-10h0m1 5h0m154-4h0m34 10h0m11 2h0m1-7h0m43 5h0m79 1h0m71-9h0m-440 36h0m17-10h0m18-8h0m81 18h0m77-13h0m5 1h0m20 12h0m154-11h0m31 11h0m15-9h0m-209 13h0m26 8h0m102-1h0m2-6h0m1 6h0m32 6h0m-325 5h0m151 6h0m71 12h0m60-3h0m-233 6h0m36 3h0m84 7h0m21-5h0m1 11h0m77-15h0"/>
<path stroke="#06fff9" d="M318 313h0m56-4h0m13-6h0m-23 48h0m42 60h0m-106 22h0m333 85h0m-96 13h0m108 11h0m-84 44h0m-62 22h0m26 6h0m-18 16h0m159 5h0m-72 14h0m52-4h0m-126 35h0m49-14h0m70 10h0m-82 14h0m93 43h0m30 3h0m-54 7h0m76 15h0m34-17h0m-114 28h0m59-4h0m19 3h0m168 6h0m-154 15h0m6 5h0m13 0h0m23 4h0m-17 20h0m315 4h0m-329 37h0m215 2h0m-563 36h0m350-5h0m206 19h0m-397 45h0m88-2h0m223 6h0m127-5h0m-614 44h0m612-7h0m-582 14h0m68 19h0m2 6h0m121 11h0m148 211h0m262-9h0m-658 34h0m124-17h0m222 14h0m-97 43h0m231-12h0m-101 30h0m-199 42h0m39-17h0m49 14h0m133-14h0m-362 22h0m121 35h0m12-6h0m45-1h0m3-7h0m12 7h0m65 5h0m4 2h0m-190 14h0m164 4h0m-154 11h0m69 2h0m99 9h0m-192 12h0m147-2h0m2 10h0m-69 34h0m-200 15h0m280 23h0"/>
<path stroke="#00f5ff" d="M361 309h0m-56 106h0m262 57h0m65 39h0m-114 86h0m30-1h0m-49 43h0m16-9h0m18 28h0m36 2h0m21-5h0m-9 24h0m-298 6h0m352 9h0m67 22h0m-56 39h0m91 42h0m207-8h0m-664 26h0m511 16h0m-248 34h0m188 10h0m117 8h0m25 4h0m-514 22h0m532 5h0m-377 11h0m292-4h0m6 16h0m9 3h0m35-5h0m145 4h0m15 59h0m-436 17h0m170 95h0m-102 62h0m-390 72h0m825 36h0m-2 8h0m-11 31h0m-605 12h0m141-1h0m-63 59h0m26-7h0m-25 29h0m11 8h0m6-15h0m41-1h0m-114 29h0m72 23h0m-72 14h0m15 9h0m83 20h0m-56 5h0m4 28h0"/>
<path stroke="#00e5ff" d="M342 336h0m176 298h0m4 0h0m3 14h0m42 29h0m-231 22h0m301 3h0m26 13h0m-40 19h0m59 5h0m-54 39h0m136 19h0m14 2h0m-26 14h0m64 66h0m52 20h0m154 20h0m-341 10h0m216-2h0m117 58h0m-653 366h0m239-1h0m-153 48h0m60-1h0m-47 7h0m61 6h0m29 8h0m-111 11h0m49 30h0m70-8h0m17 6h0m-59 19h0m-4 9h0m0 21h0"/>
<path stroke="#e9ff16" d="M421 338h0m-19 97h0m106 44h0m-156 6h0m68 11h0m144-6h0m-184 36h0m48 26h0m32-4h0m165 7h0m-359 31h0m130 1h0m27 78h0m-58 47h0m16-8h0m71 5h0m-111 20h0m111 7h0m0-16h0m63 15h0m-254 18h0m4 3h0m11-13h0m125 10h0m65 1h0m70 4h0m-192 22h0m8 12h0m107 2h0m-147 49h0m301-2h0m-283 36h0m7-14h0m78 30h0m234 4h0m-132 100h0m-110 26h0m471-2h0m-532 89h0m92 5h0m169-2h0m239-6h0m-443 24h0m430-5h0m-568 27h0m548-9h0m229 1h0m-298 17h0m5 10h0m86-10h0m52 8h0m5-8h0m6 3h0m122 14h0m100 1h0m-593 8h0m281 9h0m-487 18h0m532 17h0m-350 35h0m463 17h0m-116 72h0m173 3h0m-35 20h0m-708 18h0m757-12h0m-750 94h0m52-11h0"/>
<path stroke="#00d4ff" d="M356 357h0m24 44h0m132 245h0m-197 32h0m369 52h0m-27 25h0m180 123h0m-191 69h0m164 5h0m200 42h0m-280 97h0m-248 168h0m-11 70h0m129 83h0m12-11h0m-154 31h0m123 31h0"/>
<path stroke="#fff500" d="M287 390h0m183 77h0m-99 64h0m-57 12h0m-7 119h0m124 15h0m-78 35h0m172 28h0m-211 150h0m-3 14h0m654 161h0m-549 35h0m-19 4h0m53 26h0m600 19h0m-520 17h0m-167 127h0"/>
<path stroke="#ffd500" d="M525 408h0m-167 398h0m695 332h0"/>
<path stroke="#ff8400" d="M396 453h0"/>
<path stroke="#ffc400" d="M551 492h0"/>
<path stroke="#ffe500" d="M453 518h0m-147 373h0m12 13h0m730 226h0"/>
<path stroke="#b00000" d="M462 568h0"/>
<path stroke="#ff0200" d="M418 599h0m390 406h0"/>
<path stroke="#ff4300" d="M513 598h0m336 492h0m-456 458h0"/>
<path stroke="#0012ff" d="M320 603h0m327 919h0"/>
<path stroke="#00b4ff" d="M459 612h0m229 121h0m-105 721h0"/>
<path stroke="#ff5300" d="M398 631h0m198-7h0m383 368h0m-251 448h0"/>
<path stroke="#0084ff" d="M517 667h0"/>
<path stroke="#ff6300" d="M490 672h0m572 506h0"/>
<path stroke="#00c4ff" d="M668 705h0m56 30h0m112 139h0m-213 24h0m-174 541h0m127 22h0m-52 42h0"/>
<path stroke="#a00000" d="M653 749h0"/>
<path stroke="#f20" d="M597 793h0"/>
<path stroke="#ff9400" d="M631 856h0"/>
<path stroke="#02f" d="M1019 924h0m-681 210h0m-34 408h0"/>
<path stroke="#0043ff" d="M1035 997h0m-352 504h0"/>
<path stroke="#0000b0" d="M357 1017h0m183 489h0"/>
<path stroke="#f10000" d="M957 1025h0"/>
<path stroke="#0000c0" d="M975 1026h0m-548 473h0m71 21h0m227 15h0m-78 33h0"/>
<path stroke="#e10000" d="M783 1390h0"/>
<path stroke="#0094ff" d="M467 1429h0m238 101h0"/>
<path stroke="#0073ff" d="M890 1451h0"/>
<path stroke="#000090" d="M459 1472h0m236 35h0m32 3h0"/>
<path stroke="#0000a0" d="M563 1479h0m-15 12h0"/>
<path stroke="#0000e1" d="M717 1494h0"/>
<path stroke="#ff1200" d="M798 1500h0"/>
<path stroke="#0000f1" d="M500 1505h0"/>
<path stroke="#c00000" d="M366 1524h0"/>
<path stroke="#0063ff" d="M602 1536h0"/>
<path stroke="#0000d0" d="M678 1535h0m-361 34h0"/>
<path stroke="#98ff67" d="M265 263h0m50 17h0m67-2h0m-21 8h0m35-3h0m-55 21h0m-70 18h0m82 11h0m57 6h0m8-6h0m-111 18h0m13-9h0m87 4h0m14 3h0m35-7h0m-134 21h0m101 10h0m36-9h0m41 5h0m-147 29h0m39 0h0m25-6h0m15 3h0m38 2h0m10-12h0m-216 19h0m6 1h0m13 13h0m6-8h0m70-7h0m154 4h0m9 10h0m17-9h0m15 6h0m-196 22h0m16-7h0m32-5h0m89 16h0m18-17h0m-257 20h0m48 2h0m5 9h0m8-2h0m42 3h0m38-8h0m116 6h0m33-4h0m-289 29h0m16 2h0m80 0h0m13-8h0m80-12h0m4 5h0m47 5h0m25 10h0m85-13h0m12 11h0m-355 17h0m6-3h0m59 5h0m147-2h0m36 2h0m16-14h0m47 3h0m11-1h0m31 0h0m-349 27h0m22-11h0m35 13h0m44-3h0m23 1h0m152 8h0m40-2h0m16-9h0m-337 31h0m64-4h0m96-2h0m11-11h0m17 1h0m18-2h0m23 4h0m166 5h0m-396 23h0m118 1h0m223-10h0m15 9h0m-174 7h0m26 12h0m20-7h0m1 11h0m164-1h0m-390 22h0m17-8h0m69-3h0m24 6h0m1-12h0m50 2h0m156 16h0m8-8h0m94 0h0m-325 25h0m121 0h0m59-7h0m112-6h0m39 15h0m-245 13h0m172 9h0m81-5h0m-384 23h0m4-15h0m132 3h0m168 13h0m33-7h0m41 0h0m0-12h0m-312 40h0m38-2h0m30-5h0m5 1h0m226-13h0m19 7h0m-397 23h0m55 0h0m1-6h0m3 11h0m45-5h0m45 5h0m-100 21h0m61-5h0m55 6h0m14-2h0m23 0h0m13-12h0m33-1h0m173 8h0m-410 24h0m39-8h0m79-3h0m39 6h0m17-6h0m5 7h0m380-11h0m-604 23h0m15 10h0m192-10h0m11 0h0m2 16h0m7-7h0m370 0h0m-606 25h0m1-16h0m8 13h0m51 1h0m27-4h0m106 0h0m14 2h0m68-11h0m132 15h0m163 2h0m31 1h0m-590 18h0m149-2h0m57 3h0m31-3h0m31-9h0m20-4h0m115 7h0m210-6h0m13 6h0m4 0h0m-587 13h0m6 2h0m87 6h0m145-6h0m25 12h0m11-14h0m97 1h0m113 4h0m77 11h0m93-10h0m10-4h0m13-1h0m-718 30h0m63-5h0m8 6h0m145-2h0m33-8h0m19 3h0m12 6h0m37-11h0m48 10h0m244 2h0m16-12h0m14 0h0m44-3h0m146 10h0m17-1h0m-756 26h0m46-3h0m58-11h0m34 1h0m126 5h0m30 13h0m43-7h0m147-10h0m110 3h0m95 12h0m6-9h0m-634 20h0m69 8h0m85-16h0m4 11h0m36-11h0m82 13h0m230 0h0m50 4h0m105-10h0m-720 32h0m278-17h0m155 16h0m121 0h0m-628 7h0m112-2h0m9 15h0m13-7h0m29 7h0m139-13h0m41 9h0m63-5h0m230-1h0m26-4h0m6 11h0m95-13h0m38 5h0m13-5h0m240 8h0m-1062 25h0m75-1h0m90 3h0m122-16h0m8 1h0m20 7h0m65-9h0m39 10h0m61 0h0m0 2h0m6-10h0m7-2h0m255 7h0m26 0h0m38 6h0m4-11h0m34 11h0m7 3h0m5-6h0m57-2h0m151-4h0m2 5h0m-1091 12h0m15 11h0m24-11h0m8 11h0m24 4h0m59-10h0m340 9h0m100 4h0m235-5h0m45-5h0m25-7h0m67 16h0m119-3h0m14-9h0m5 7h0m-1043 14h0m35 7h0m8-14h0m116 17h0m15-9h0m98 5h0m145-3h0m448-3h0m48 0h0m-898 32h0m30-6h0m25-3h0m32-4h0m7 4h0m12 2h0m126 0h0m77-12h0m60 19h0m34-12h0m44 9h0m154-9h0m239 8h0m208 2h0m-954 11h0m2 7h0m192-3h0m30-11h0m26 8h0m38 0h0m66 5h0m123 3h0m57 1h0m10-13h0m136 3h0m195 9h0m28-13h0m-1025 18h0m2 11h0m57 0h0m90-4h0m55 4h0m34-13h0m27 1h0m15 16h0m52-9h0m91-4h0m30-3h0m5 3h0m133 3h0m123-5h0m22 12h0m20 2h0m101-7h0m8-5h0m-838 34h0m195-11h0m86-4h0m103-4h0m10 16h0m82 1h0m7-10h0m38-3h0m37-2h0m10 6h0m104 1h0m101-2h0m40 4h0m-844 15h0m24 8h0m31-2h0m3-10h0m16 13h0m69 5h0m158-19h0m290 0h0m59-1h0m50 2h0m71 4h0m64 1h0m232 8h0m-1065 10h0m75-1h0m72 3h0m23 1h0m31 4h0m25 5h0m18-5h0m91 6h0m3-6h0m92 0h0m153-2h0m7 7h0m6-7h0m41 4h0m26 5h0m63-15h0m47 10h0m3-9h0m30 15h0m5-7h0m52-2h0m-883 12h0m60 13h0m38-3h0m12-9h0m8 8h0m238-6h0m13-2h0m215 5h0m83 9h0m106-16h0m45 10h0m29-2h0m25 5h0m-856 22h0m19-7h0m63 4h0m44 2h0m97-12h0m79 8h0m29 2h0m253-4h0m20-3h0m69-4h0m183 2h0m9 4h0m148-4h0m-1017 27h0m39-11h0m25 8h0m77 4h0m112-9h0m9 0h0m42 15h0m87-5h0m51 1h0m51 2h0m51-2h0m78 0h0m5-12h0m75-3h0m201 16h0m153 0h0m-1050 15h0m29 3h0m4-1h0m6-8h0m1 8h0m72 2h0m40-6h0m40 0h0m223 5h0m28-8h0m127-6h0m118 5h0m22 10h0m9-2h0m64 1h0m24 2h0m51-8h0m99 5h0m31-8h0m6 3h0m8 11h0m2-14h0m4 6h0m-1031 15h0m25-1h0m5 6h0m100 9h0m54-16h0m118 8h0m36-10h0m5 0h0m55 18h0m13-10h0m83-10h0m14 18h0m68 0h0m27-12h0m7 1h0m26 1h0m21 6h0m12-3h0m43-10h0m177 18h0m39-6h0m13-6h0m145 0h0m-1053 28h0m32-5h0m116 1h0m122 3h0m129-1h0m64-1h0m36 6h0m41 2h0m13-16h0m22-4h0m25 17h0m22-1h0m39-11h0m5 0h0m8 10h0m43-15h0m53 15h0m54-4h0m36 5h0m52-12h0m34 1h0m62 11h0m38-6h0m-1056 15h0m7-3h0m13 1h0m9 11h0m5-12h0m102 1h0m116 0h0m6-2h0m121 14h0m162-13h0m43 10h0m8-8h0m26-2h0m19 9h0m158-2h0m122 2h0m36 6h0m34-12h0m15-1h0m-781 23h0m32 7h0m10-1h0m8-5h0m164-1h0m26-4h0m208 8h0m66-7h0m185 10h0m12-10h0m-931 21h0m200 13h0m45-15h0m5 1h0m137-2h0m158 1h0m0 7h0m68 4h0m53-6h0m16 0h0m46 7h0m114-1h0m29 0h0m80-4h0m29-8h0m-939 19h0m16 9h0m14-3h0m80-1h0m138-1h0m65 5h0m23 3h0m29 7h0m10-7h0m17-4h0m14-5h0m23 7h0m45-10h0m46 10h0m92-10h0m15 13h0m36 5h0m140-11h0m11 6h0m47-9h0m4 0h0m-930 27h0m16 0h0m13-1h0m18-7h0m107 6h0m1-3h0m59-3h0m225 8h0m72-2h0m23 0h0m13 7h0m194-16h0m155 4h0m-824 19h0m121 1h0m251 7h0m20 5h0m36 0h0m55 0h0m9-1h0m1-7h0m16 3h0m23-6h0m133 3h0m143 1h0m-816 15h0m115-1h0m182-2h0m84 12h0m30 0h0m62-10h0m128 4h0m11 5h0m17-9h0m1 6h0m64 7h0m26-16h0m73 8h0m-839 18h0m57 9h0m3-10h0m73-6h0m321 9h0m7 6h0m32-12h0m24 5h0m3-7h0m49 15h0m-567 7h0m9 9h0m3 6h0m10-4h0m369 5h0m5-7h0m153 0h0m52 5h0m163-15h0m-663 23h0m295 4h0m251 3h0m15 0h0m-603 24h0m1-7h0m2-5h0m1 5h0m11 10h0m421-16h0m-467 31h0m20 0h0m37-10h0m400 16h0m20-6h0m15 4h0m153-15h0m-665 18h0m526 2h0m4 10h0m-535 9h0m53 17h0m56 1h0m21-14h0m365 9h0m118-13h0m-549 30h0m27-6h0m64 0h0m131-5h0m194 9h0m48-9h0m21 0h0m-493 32h0m68-1h0m341 1h0m-405 10h0m79 13h0m15-9h0m218 9h0m40-11h0m-368 34h0m107-16h0m3 1h0m1 9h0m53 4h0m123-16h0m-183 21h0m5 11h0m92 1h0"/>
<path stroke="#b8ff47" d="M272 267h0m83 22h0m-92 37h0m169 13h0m-48 32h0m14 3h0m38 0h0m68 5h0m-164 5h0m8 14h0m41-15h0m-20 27h0m-98 18h0m87 10h0m121-8h0m66-1h0m-173 28h0m33-15h0m38 0h0m49 10h0m-220 13h0m106 12h0m107-11h0m3 14h0m27-14h0m-217 27h0m209 2h0m19-2h0m47-3h0m-228 14h0m24-1h0m44 7h0m12-8h0m13 3h0m53 10h0m79 2h0m-207 7h0m24 16h0m17-16h0m54 5h0m113 6h0m32-7h0m49 2h0m-394 25h0m90 4h0m66-7h0m13-9h0m-137 35h0m-31 21h0m122-9h0m215 5h0m-212 23h0m14-1h0m149-9h0m103 4h0m-286 9h0m-104 20h0m73 23h0m27 15h0m35-2h0m52-16h0m1 4h0m6 13h0m-54 14h0m24 0h0m18-7h0m21 6h0m101 9h0m-205 11h0m82 1h0m399 4h0m-575 11h0m95 6h0m78-6h0m39 0h0m75 6h0m-194 19h0m104 1h0m26-13h0m259 8h0m45-5h0m-533 32h0m5-12h0m9 9h0m5 2h0m15-9h0m45 13h0m52-6h0m30-3h0m3 5h0m402-3h0m55 6h0m-537 39h0m107-4h0m30-4h0m151 0h0m323 3h0m33-1h0m-678 17h0m163-3h0m160 4h0m11-5h0m29 2h0m238 10h0m-649 18h0m14-4h0m16-7h0m201 10h0m88-6h0m27 7h0m6 0h0m33-7h0m-139 29h0m176-14h0m386 13h0m-687 13h0m423 6h0m140-5h0m144 9h0m-757 21h0m220-7h0m163 7h0m55 0h0m33-10h0m269 11h0m-671 4h0m706-3h0m0 10h0m246 4h0m-1035 7h0m44 18h0m726-18h0m54 7h0m11 10h0m-820 7h0m159 1h0m211 0h0m106 6h0m-63 14h0m-474 29h0m30 4h0m187-3h0m21-12h0m16-2h0m101 15h0m87-8h0m40-6h0m140-1h0m192 14h0m-828 6h0m13 1h0m1 6h0m6-6h0m435 11h0m169-7h0m9-4h0m3 13h0m6-11h0m27 1h0m38 2h0m102 6h0m-589 26h0m204-6h0m82 0h0m99 4h0m-571 3h0m127 8h0m243-6h0m20 10h0m286 2h0m13-10h0m127 0h0m-790 20h0m48 8h0m123-11h0m94 15h0m18-5h0m9 7h0m9-14h0m173-3h0m150 16h0m61-13h0m77-1h0m-745 19h0m29 1h0m6 13h0m26 0h0m47-12h0m110 0h0m31 5h0m23 9h0m27-3h0m193-11h0m37 2h0m47 0h0m99 11h0m19-7h0m93-3h0m-744 28h0m67-13h0m130 2h0m2 6h0m26-2h0m43-5h0m182 4h0m5 2h0m2 5h0m99-5h0m66 8h0m34-9h0m39 2h0m-802 17h0m38-4h0m73 3h0m52-3h0m3 10h0m23-1h0m107-3h0m220-4h0m24 13h0m86-9h0m-554 16h0m226-3h0m42 16h0m4-11h0m15 1h0m95 9h0m5-17h0m24 9h0m53 3h0m9-11h0m14 12h0m155-14h0m25 13h0m18-1h0m-684 10h0m105 4h0m6 13h0m174-12h0m165 13h0m23-15h0m40 14h0m17-8h0m48-1h0m143 5h0m6 0h0m-791 18h0m66 5h0m20-8h0m115 1h0m43 5h0m345-3h0m90-12h0m16 4h0m39 8h0m-659 24h0m143-14h0m47 4h0m363-6h0m184 14h0m-791 18h0m45-11h0m214 8h0m205 3h0m172 4h0m129-3h0m-681 6h0m115 3h0m135 16h0m69-10h0m283-1h0m48-1h0m-758 32h0m416-19h0m118 5h0m122 0h0m58 10h0m-727 24h0m409-12h0m7 4h0m41 5h0m-393 16h0m797 0h0m-795 11h0m482 10h0m-28 10h0m64 4h0m-569 25h0m413 5h0m120-4h0m168 0h0m11 1h0m17-3h0m12 2h0m5-5h0m-723 20h0m88 11h0m439-4h0m150 4h0m-719 14h0m36 6h0m51-14h0m494 4h0m91-6h0m-671 24h0m31-4h0m7-2h0m40 2h0m174 4h0m410 3h0m-641 25h0m59 0h0m2-8h0m10-3h0m503 6h0m23 16h0m-603 16h0m108 15h0m107 32h0"/>
<path stroke="#ffe500" d="M304 266h0m207 217h0m-44 25h0m-175 29h0m57-7h0m82 531h0m410 67h0m227 10h0m-266 6h0m247-2h0m-243 231h0m16 50h0"/>
<path stroke="#8f7" d="M298 274h0m34-10h0m22 12h0m28-13h0m9 8h0m-21 18h0m52 7h0m-154 6h0m7 7h0m68-2h0m58 6h0m14-2h0m-76 10h0m25 13h0m-94 17h0m66-6h0m-62 20h0m36 13h0m36-13h0m9 14h0m26-11h0m19-2h0m87 5h0m-196 28h0m144-14h0m-57 31h0m10-5h0m88 5h0m6 0h0m-214 6h0m152 2h0m29-3h0m80 12h0m-232 26h0m105-8h0m27-8h0m24 3h0m19-4h0m49 11h0m6-12h0m51 5h0m12-1h0m-328 22h0m64 3h0m101-4h0m192 4h0m-295 16h0m66 9h0m9-8h0m12 1h0m38 4h0m9 3h0m63 3h0m22-9h0m2-7h0m16 1h0m70 6h0m4 7h0m-352 19h0m4-5h0m89 4h0m0-9h0m122 11h0m23-14h0m2 12h0m56-10h0m-324 36h0m303-6h0m40-10h0m6 12h0m4-15h0m-313 28h0m27-3h0m12 12h0m7-17h0m16 14h0m28-4h0m33 7h0m139-17h0m-163 30h0m32 0h0m44-3h0m145 0h0m-328 24h0m87 5h0m51-5h0m19-1h0m14-4h0m11-7h0m14 13h0m18-10h0m4 9h0m65-6h0m104-2h0m-389 20h0m81-3h0m53 10h0m3-9h0m99 3h0m33 13h0m94-1h0m-377 19h0m129-2h0m9-7h0m202 10h0m42-9h0m2-6h0m21 0h0m28-1h0m-447 32h0m131 5h0m80-5h0m8-8h0m3 0h0m133 4h0m-298 17h0m44 6h0m31-2h0m9-6h0m37 10h0m25-9h0m67 6h0m-146 14h0m56 12h0m9-16h0m212 12h0m-387 12h0m45 0h0m59 7h0m4 4h0m42 1h0m120-1h0m11-2h0m129 1h0m29 3h0m1-7h0m9 5h0m46-11h0m-502 18h0m13 0h0m27 8h0m125 2h0m44 3h0m64-3h0m39-3h0m94 3h0m26-9h0m157 12h0m22 1h0m-407 12h0m39 0h0m11 5h0m0-12h0m42 12h0m191-6h0m19-4h0m99 6h0m1 2h0m-487 12h0m19 13h0m266-6h0m93-3h0m99 0h0m-570 25h0m44-7h0m31-2h0m25 9h0m23 5h0m155 1h0m9 1h0m72-2h0m56-17h0m137 10h0m88 4h0m-587 11h0m33-2h0m5 13h0m34-11h0m449 5h0m13 4h0m11-11h0m-596 18h0m76 2h0m93 7h0m96-8h0m136 1h0m33 7h0m7-2h0m16-8h0m181 12h0m14-5h0m41 2h0m181 1h0m-871 11h0m83 5h0m49-1h0m153 7h0m26-8h0m11 4h0m18 0h0m13 7h0m3-13h0m20 11h0m51-7h0m60-1h0m185 7h0m45 3h0m-695 15h0m11-6h0m32 7h0m41-4h0m74-7h0m118 10h0m7-3h0m20 3h0m197-4h0m106 10h0m104-12h0m37-3h0m61 16h0m-750 2h0m13 3h0m135 16h0m61 1h0m10-3h0m304-12h0m39-4h0m13 3h0m10 16h0m107-16h0m15 14h0m-749 2h0m42 15h0m49-11h0m102 6h0m19-7h0m112 13h0m119-7h0m179-4h0m44 8h0m59-7h0m66 11h0m12-7h0m21 8h0m188-2h0m-1089 15h0m35-9h0m8 7h0m14-5h0m37-2h0m7-1h0m42 9h0m67 4h0m20 2h0m16-13h0m8 11h0m8 2h0m61-7h0m92 7h0m99-8h0m324-3h0m6 11h0m26-5h0m89 4h0m115-2h0m5-3h0m-1028 18h0m16 0h0m15-5h0m5 0h0m93 7h0m69-9h0m47 15h0m125 2h0m33-3h0m65 5h0m73-18h0m80 14h0m113-3h0m27-4h0m18 6h0m41-6h0m3 5h0m54 1h0m87-6h0m24-7h0m12 8h0m23-3h0m21-5h0m1 12h0m-1029 21h0m16 0h0m16-7h0m17-6h0m58 4h0m80 5h0m40-10h0m106 16h0m132-12h0m297 15h0m1-5h0m15-6h0m15 2h0m4-5h0m64 6h0m0-5h0m3 5h0m11-8h0m94 10h0m51-9h0m18-5h0m-1102 32h0m50-11h0m37 16h0m32-10h0m53-6h0m98 5h0m89 6h0m66 1h0m65 5h0m45-4h0m3-13h0m3 13h0m78 2h0m21-13h0m16 8h0m7 3h0m7-8h0m156 4h0m78-10h0m16 6h0m1 8h0m20-13h0m73 12h0m37-6h0m0 3h0m13 10h0m5-16h0m-1065 26h0m7 1h0m11-8h0m23-3h0m109 10h0m12-7h0m42 1h0m33 4h0m5 11h0m41-4h0m85-2h0m50-9h0m59 14h0m11-9h0m13 3h0m19-7h0m21 5h0m10-1h0m15 6h0m19 4h0m92-19h0m12 16h0m112-13h0m16 16h0m28-14h0m62 6h0m104 8h0m0-16h0m33 8h0m60 4h0m-1061 14h0m28-5h0m155 4h0m114-5h0m113 8h0m82-8h0m4-1h0m139 5h0m26 3h0m41 5h0m4 3h0m85-14h0m4 10h0m63-12h0m-875 31h0m39 2h0m12-1h0m81 0h0m14 0h0m276-7h0m38-6h0m8 14h0m109-5h0m2 6h0m28-2h0m3-4h0m8 8h0m14-9h0m28-1h0m158-6h0m10 13h0m-816 24h0m8-11h0m43-3h0m102 0h0m12 8h0m48-7h0m34 1h0m2 6h0m6-8h0m245-5h0m8 11h0m1-5h0m79 3h0m50 5h0m53-1h0m5-5h0m25 0h0m25 4h0m20-5h0m15 4h0m6-3h0m38-5h0m47 14h0m-893 14h0m44-11h0m41 2h0m102 4h0m25 7h0m63-6h0m59 6h0m54 3h0m108-14h0m79-1h0m26 5h0m28 4h0m20 5h0m159-8h0m108-2h0m143 13h0m-995 3h0m108 5h0m23 3h0m10 6h0m18-11h0m15 1h0m9 5h0m49-5h0m36 12h0m5-8h0m5 7h0m38-9h0m260 5h0m51-8h0m2 14h0m41-1h0m90-5h0m62 4h0m132 1h0m-974 14h0m43 1h0m73-2h0m34-6h0m76 2h0m147-3h0m13 1h0m87 7h0m74 7h0m9 0h0m91-4h0m38-6h0m80 6h0m47-3h0m12-8h0m17 0h0m4-2h0m7 5h0m131 3h0m44 1h0m-1063 11h0m7 19h0m6-3h0m29-16h0m7 11h0m65-4h0m153-1h0m73 1h0m15-5h0m32 1h0m23 11h0m51-8h0m9-5h0m5 17h0m128-9h0m131 6h0m77-2h0m76-12h0m-729 18h0m20 3h0m21 8h0m107-5h0m17 6h0m41-11h0m20 4h0m4-4h0m20 4h0m243 4h0m86-1h0m2-7h0m87 17h0m3-3h0m59-14h0m1 5h0m10 9h0m37-3h0m10 7h0m2-17h0m30 8h0m23-9h0m9 13h0m2-13h0m29 12h0m17-1h0m-1070 27h0m22-11h0m33 9h0m35-12h0m26 0h0m49 12h0m12-16h0m22 15h0m32 3h0m13-2h0m149-16h0m13 12h0m33 0h0m55 2h0m165-4h0m36-6h0m4 1h0m47 7h0m35-11h0m14 0h0m1 4h0m9 7h0m13 7h0m76-2h0m31 0h0m4-4h0m20-1h0m68-13h0m4 18h0m5-11h0m10 6h0m-1022 8h0m4-1h0m51 5h0m43 0h0m64 8h0m39 0h0m26-1h0m85 7h0m19-15h0m155 2h0m145 3h0m1-6h0m13 9h0m6 7h0m31-10h0m43-3h0m66 10h0m87-13h0m7 7h0m25 8h0m25-14h0m4 8h0m11 1h0m14-9h0m41 7h0m34 0h0m4 7h0m3 0h0m-1066 19h0m83-12h0m66 10h0m8-13h0m88 1h0m9 6h0m2-5h0m73-1h0m135-1h0m57 14h0m5-4h0m27 4h0m10-8h0m13 2h0m125 0h0m5 8h0m10-13h0m40 13h0m77-16h0m102 13h0m27-11h0m71 8h0m-1017 24h0m24-6h0m3 0h0m3-8h0m5 4h0m30 4h0m73-9h0m149 3h0m129-4h0m62 1h0m12 1h0m44 13h0m24-14h0m19 3h0m6 1h0m36-3h0m16 5h0m15-7h0m1 7h0m18 7h0m25 1h0m27-6h0m0 7h0m30-2h0m97-9h0m53 8h0m30 3h0m4-15h0m11 2h0m26 12h0m-995 7h0m27 2h0m55 2h0m11 9h0m33-12h0m34 12h0m19-3h0m10 8h0m18-17h0m73 9h0m10 7h0m21-7h0m34-4h0m163 1h0m25 5h0m41 4h0m69-6h0m19 2h0m3 5h0m53-10h0m22 11h0m18-12h0m-674 22h0m11-8h0m113 11h0m29 2h0m20-14h0m135 4h0m138 0h0m208 7h0m85 6h0m96-7h0m8-9h0m35-1h0m-968 20h0m34 6h0m109 0h0m37 13h0m32-17h0m132-2h0m1 16h0m11-4h0m32-7h0m48 11h0m6 0h0m26-1h0m26-5h0m33-8h0m1 8h0m15-7h0m3 10h0m131-13h0m115 17h0m6-14h0m-771 25h0m4 6h0m35 3h0m17-3h0m5-9h0m195 9h0m21-10h0m194-2h0m34 7h0m64 7h0m151-1h0m119-11h0m27 1h0m-855 29h0m34 1h0m8-5h0m67 2h0m47 7h0m181-16h0m197 6h0m51 1h0m70 3h0m-607 12h0m120 10h0m150-14h0m42 13h0m71-15h0m24 7h0m18 3h0m59 4h0m-559 18h0m7 5h0m5-12h0m22 15h0m79-12h0m247 11h0m141-15h0m28-3h0m250 7h0m-728 17h0m74-2h0m2 15h0m396-18h0m0 8h0m18 4h0m30 4h0m23-12h0m7 3h0m52 12h0m7-16h0m46 15h0m44-6h0m11-8h0m-748 32h0m1-5h0m24-7h0m58 5h0m11-9h0m2 18h0m13-1h0m295-1h0m14-10h0m55 2h0m68 10h0m81-13h0m5 4h0m79 1h0m-724 11h0m97 13h0m309 4h0m11-9h0m58 5h0m6-3h0m8 7h0m52-1h0m90-6h0m66-4h0m-678 15h0m110 11h0m285-12h0m50 3h0m204-1h0m-626 20h0m20 9h0m128-1h0m233-6h0m17 9h0m42 0h0m45 6h0m-423 10h0m11-7h0m391 9h0m2-9h0m-420 23h0m20 13h0m1-13h0m10 11h0m304-9h0m-370 22h0m32 7h0m41-6h0m-43 34h0m4 13h0m55-5h0m30 5h0m38-1h0m47-11h0m35 8h0"/>
<path stroke="#7f8" d="M336 265h0m8 14h0m30-14h0m-1 38h0m24 7h0m-124 27h0m32-3h0m56-4h0m2 8h0m-101 5h0m124 16h0m9-8h0m-63 17h0m27 4h0m53-6h0m13 10h0m18-6h0m-96 14h0m-37 27h0m59 4h0m92-6h0m73 5h0m1-6h0m-225 22h0m12-9h0m20 11h0m11 4h0m35-6h0m26 0h0m16 3h0m75 2h0m20-6h0m49 0h0m-297 22h0m25 4h0m21-10h0m28 1h0m10 1h0m49 10h0m4-5h0m42 3h0m18-8h0m6 12h0m28-5h0m89 5h0m-238 17h0m43-15h0m7 3h0m36 16h0m74-7h0m74-7h0m-316 33h0m79 0h0m0-15h0m130 13h0m-205 7h0m274 13h0m53-14h0m25 1h0m-355 18h0m115 18h0m6-4h0m17-7h0m37-1h0m58 7h0m15-14h0m119 1h0m-281 19h0m68 18h0m45-7h0m5-3h0m113 10h0m-218 5h0m109-3h0m33 16h0m15-4h0m37 3h0m7 0h0m-253 22h0m130-2h0m99-14h0m29 8h0m91-9h0m-350 38h0m6-10h0m10 9h0m54-6h0m4-11h0m53 8h0m23-1h0m15-7h0m-224 31h0m41-8h0m3 11h0m19-8h0m14 5h0m106-6h0m9 3h0m87-2h0m29 0h0m41 0h0m73 12h0m-375 3h0m69 8h0m172 3h0m8 6h0m13-13h0m136 14h0m-394 15h0m43-7h0m104 4h0m6 6h0m180-12h0m37-1h0m-358 21h0m93-1h0m-36 20h0m25 10h0m34-12h0m213 7h0m33 8h0m51-3h0m-462 13h0m33-5h0m33 1h0m44 6h0m19-6h0m25 7h0m2 5h0m141 0h0m18-14h0m24 6h0m164-6h0m-392 33h0m4 1h0m39-3h0m90-7h0m36 12h0m60-15h0m276-1h0m-601 30h0m150-8h0m77 14h0m47-17h0m9 10h0m86 2h0m112-1h0m29-6h0m10 8h0m62-14h0m-594 25h0m13 14h0m85-15h0m0 6h0m10 6h0m30-9h0m9-4h0m5 3h0m76-6h0m1 11h0m22-10h0m124 6h0m140 3h0m18-7h0m20 16h0m13-5h0m7-2h0m53 6h0m-623 6h0m10 12h0m11-12h0m52 14h0m16-2h0m13 3h0m113-11h0m66 3h0m129-6h0m42 5h0m52-6h0m16 12h0m1-7h0m14-5h0m31-1h0m122 11h0m11 5h0m-714 3h0m24 5h0m2 10h0m87-15h0m86 15h0m185-10h0m1-6h0m19 13h0m50-13h0m256 8h0m30-6h0m23 13h0m21-3h0m44-6h0m12 6h0m57-10h0m22 8h0m-903 17h0m34 11h0m27-11h0m17-1h0m25-7h0m124 9h0m51-8h0m31 17h0m9 0h0m153-3h0m32-9h0m17 9h0m10-14h0m7 2h0m9 16h0m28-18h0m8 9h0m181-3h0m5 7h0m98-11h0m158 9h0m-876 26h0m13-4h0m81-3h0m10-4h0m67 6h0m49 5h0m155 2h0m26-13h0m98 0h0m33 7h0m9 4h0m6-4h0m11-10h0m45 14h0m11-13h0m42 1h0m22 5h0m21 0h0m126-3h0m-964 13h0m92 12h0m91 7h0m6-20h0m30 16h0m9-9h0m71-7h0m27 6h0m23 5h0m10 1h0m59-8h0m46 2h0m9 7h0m7 3h0m17-9h0m17-2h0m11 1h0m88 1h0m45 12h0m96-14h0m27 8h0m40-12h0m44 16h0m102-1h0m11-4h0m56-1h0m-1034 15h0m41 2h0m92 2h0m112-4h0m168-4h0m120 10h0m7-5h0m78 8h0m124-9h0m45-3h0m12 15h0m64-6h0m80 7h0m87-9h0m13-7h0m-1009 27h0m37-7h0m21 14h0m7 3h0m17 0h0m13-5h0m28-12h0m4 1h0m26 13h0m50 2h0m195-3h0m10-11h0m5 9h0m11 4h0m43-4h0m95 0h0m192-2h0m24 5h0m69-9h0m17-6h0m64 2h0m15 15h0m29-16h0m8 13h0m-1044 14h0m37 0h0m92 4h0m94 0h0m4-8h0m53 12h0m41-2h0m88-14h0m130 4h0m55 1h0m20-6h0m32 7h0m69-5h0m63 3h0m129-4h0m37 11h0m40 2h0m-952 6h0m3 16h0m49-4h0m107-10h0m14 10h0m0-13h0m56 12h0m15 2h0m77 5h0m28-1h0m49-1h0m2-12h0m185 3h0m183-2h0m30 14h0m65-7h0m50 0h0m4-10h0m34 5h0m43-7h0m18 18h0m16 1h0m2-6h0m7-9h0m35 7h0m-1102 15h0m0 12h0m40 1h0m33-10h0m12 7h0m44-13h0m30 13h0m6 0h0m7-16h0m120 10h0m66 1h0m29 5h0m22 2h0m1-7h0m99 5h0m34-13h0m52 12h0m6-10h0m52-1h0m10 13h0m133-1h0m68-12h0m26 0h0m9 11h0m18-12h0m132 0h0m16 8h0m17 8h0m6-2h0m2-11h0m10-1h0m-894 30h0m23 3h0m7-15h0m71 13h0m25-2h0m50-3h0m29-6h0m8 7h0m50-3h0m52 0h0m3-4h0m37 0h0m6-4h0m1 15h0m73-6h0m52-1h0m294 0h0m113-8h0m-1029 35h0m42 0h0m113-14h0m16 12h0m9-14h0m21 8h0m5 0h0m38-2h0m29 8h0m146 3h0m100 0h0m8 2h0m250-5h0m20-6h0m58-8h0m2 15h0m55-6h0m16 10h0m4-8h0m37-1h0m29-8h0m-1079 27h0m6 5h0m73-14h0m15 12h0m25 3h0m22 4h0m22-10h0m26 1h0m30 2h0m47-10h0m21-3h0m63 12h0m11-4h0m12-1h0m6-1h0m8-5h0m28 15h0m75 1h0m49-3h0m150 0h0m5-10h0m1 10h0m0-7h0m44 6h0m85 0h0m18-12h0m23 8h0m33 10h0m3-18h0m84 7h0m36 0h0m-984 25h0m19 1h0m54-9h0m63 9h0m18-13h0m76 14h0m4 2h0m309-7h0m22 3h0m15 2h0m21-3h0m5-11h0m48 10h0m13-9h0m207 16h0m31-6h0m56 1h0m23-1h0m6-7h0m5 2h0m17 12h0m12-10h0m42 11h0m-1073 7h0m21 10h0m2-17h0m38 1h0m48 11h0m78 8h0m24-15h0m36 10h0m18 3h0m82 1h0m37-8h0m15 1h0m78-9h0m5 2h0m50 13h0m66-11h0m97 4h0m50 3h0m10-10h0m82 3h0m16 0h0m94 0h0m91-1h0m6 1h0m-1066 14h0m56 6h0m18 8h0m81 0h0m46-13h0m33 10h0m61-6h0m79-3h0m24 7h0m37 7h0m6 2h0m15-6h0m54-12h0m55 9h0m25-4h0m101-1h0m29-2h0m11 9h0m162 3h0m15-10h0m6 13h0m97-2h0m13-3h0m7-10h0m-948 22h0m62 13h0m70-14h0m32 4h0m78-2h0m165 9h0m164-5h0m9 6h0m22-4h0m27-5h0m204 8h0m49-6h0m7-6h0m3 12h0m12-5h0m17 5h0m58-10h0m39 4h0m-1012 18h0m40-6h0m23 3h0m132 0h0m33 10h0m26 0h0m213-8h0m186 10h0m85-7h0m30-9h0m5 17h0m9-2h0m28-14h0m20 13h0m30-14h0m8 20h0m15-13h0m25-1h0m2 8h0m33-5h0m3-4h0m21 8h0m15 7h0m10-7h0m23-5h0m-1083 29h0m127 2h0m8-18h0m81 18h0m166-11h0m68 7h0m26-6h0m5 10h0m29-17h0m7-2h0m106 13h0m45-12h0m36 0h0m7 0h0m17 8h0m104-4h0m18 6h0m23 2h0m36 1h0m2-4h0m8 9h0m14-7h0m36-3h0m29 7h0m32-1h0m-1007 18h0m79-3h0m14 4h0m33-6h0m21 6h0m70 4h0m28-2h0m62-8h0m110 0h0m18-8h0m95 4h0m31 13h0m25 1h0m30-16h0m16-2h0m2 18h0m89-7h0m9-9h0m11 16h0m37-4h0m20 3h0m8 0h0m78-6h0m25 7h0m34 0h0m33-10h0m47-6h0m-996 23h0m65-2h0m7 16h0m9-18h0m163 14h0m53 1h0m18 2h0m17-6h0m7 0h0m64 1h0m28 4h0m145-5h0m259-6h0m10-1h0m49-1h0m-933 21h0m44 12h0m5-13h0m75 5h0m40-1h0m15 4h0m100-10h0m31 10h0m9-1h0m30-8h0m15 1h0m3 7h0m49-5h0m24 9h0m12-10h0m22-1h0m7 13h0m72-1h0m36-14h0m0 17h0m204-17h0m12 8h0m12 2h0m89-1h0m110-8h0m-840 18h0m41 3h0m16-1h0m37 14h0m1-13h0m1 16h0m12-19h0m27 10h0m46 0h0m30 6h0m84-11h0m55 10h0m14-8h0m19 11h0m7 1h0m165-18h0m36 1h0m50 6h0m25-9h0m123 1h0m-998 39h0m31-19h0m16 2h0m5 0h0m27-2h0m129 2h0m37 16h0m28-19h0m16 7h0m14 12h0m15-9h0m22-9h0m12 0h0m46 10h0m1-10h0m18 0h0m105 15h0m19-3h0m10-12h0m77 18h0m22-11h0m21 1h0m1 6h0m83 3h0m48-3h0m10-8h0m72 13h0m25-20h0m34 9h0m-906 18h0m6-4h0m16 11h0m86-12h0m63 15h0m87-9h0m39-1h0m6-5h0m53 16h0m72 1h0m4-4h0m103-2h0m60 4h0m26-10h0m102-2h0m73-4h0m46 12h0m73-7h0m-945 22h0m67 3h0m18 1h0m0 5h0m112-8h0m37-3h0m85 5h0m7-1h0m36 3h0m95-10h0m204 2h0m16-5h0m4 18h0m-667 7h0m17 9h0m63 3h0m14-2h0m45 3h0m5-2h0m8 0h0m105-6h0m184 2h0m22 0h0m85-8h0m35 14h0m90-7h0m28 1h0m129 6h0m-854 5h0m14 1h0m22 9h0m103-4h0m99 7h0m44-14h0m37 6h0m80 0h0m64-6h0m10 6h0m5 2h0m8 4h0m86-6h0m186 9h0m2-12h0m22 3h0m64-4h0m-847 34h0m102-5h0m87-4h0m44 7h0m6-15h0m1 15h0m61-3h0m11-12h0m134 8h0m111-8h0m8-1h0m109 3h0m25 13h0m38-15h0m-740 19h0m136 12h0m171-1h0m19 6h0m117-6h0m9-10h0m10 7h0m83 3h0m-539 10h0m58 15h0m20-6h0m60 1h0m5-5h0m8 2h0m1-8h0m3 4h0m6-3h0m345 8h0m2 11h0m98-19h0m95 9h0m20 7h0m-638 20h0m39-7h0m148 5h0m130-15h0m74 9h0m9 6h0m44 1h0m16 0h0m28 3h0m37-4h0m21 1h0m55 0h0m28-5h0m-705 27h0m110 1h0m276-14h0m126 15h0m0-20h0m129 15h0m-657 13h0m52-6h0m80 6h0m365-7h0m136 13h0m33-11h0m-592 24h0m8-1h0m36 1h0m24 10h0m7-3h0m288-1h0m12 2h0m23-9h0m14 2h0m33 9h0m1-12h0m58 8h0m8-4h0m-551 23h0m34 5h0m26-7h0m84 1h0m320-4h0m3 10h0m-413 14h0m54 5h0m8 3h0m11-17h0m80 23h0m64 5h0m49-9h0m-309 23h0m34 5h0m59 5h0m105 4h0m75-10h0m108-5h0m-353 31h0m161-11h0m11 2h0m-54 15h0"/>
<path stroke="#67ff98" d="M285 273h0m65-7h0m-82 29h0m54-11h0m-55 25h0m14-2h0m15-3h0m59 25h0m38 6h0m-76 16h0m158 2h0m-217 19h0m30-4h0m17 5h0m22 5h0m22-5h0m82 0h0m51-7h0m-219 18h0m139 6h0m25 0h0m65-7h0m-233 25h0m70-7h0m1 8h0m119 0h0m76 9h0m-236 6h0m62 15h0m9-9h0m93-8h0m80 1h0m13 10h0m-152 9h0m169 10h0m13 0h0m-304 8h0m7 11h0m64-8h0m80 3h0m5-4h0m100-2h0m5 12h0m-206 20h0m103-9h0m23 3h0m134 6h0m5 4h0m14-5h0m-348 21h0m125-8h0m48-1h0m29 8h0m32-6h0m41-2h0m111 13h0m-377 5h0m12 5h0m122 0h0m118 9h0m105 1h0m8-8h0m-233 31h0m3-7h0m130-5h0m48-6h0m61 4h0m26 12h0m-373 20h0m12-15h0m4 3h0m14 5h0m7 1h0m8-9h0m30 2h0m105 2h0m71 8h0m60-10h0m12-3h0m22 9h0m-381 23h0m38-4h0m109 9h0m118-18h0m30 16h0m23 3h0m72-12h0m0 6h0m26 0h0m-379 24h0m71-7h0m23 2h0m92-4h0m59 10h0m23 0h0m27-1h0m6-3h0m82-4h0m13-2h0m11-7h0m-444 28h0m55 5h0m23-10h0m130 9h0m166-6h0m83 2h0m-152 25h0m78-5h0m92 5h0m-447 24h0m88 0h0m110-8h0m61-2h0m51 12h0m3-14h0m11 8h0m25-4h0m21 8h0m43 0h0m12-8h0m-447 17h0m151 9h0m170 0h0m0-11h0m117-2h0m-273 33h0m20-7h0m13 2h0m21 0h0m144 1h0m67 0h0m48 0h0m-485 16h0m157 9h0m114-15h0m19-1h0m36 18h0m165-19h0m56 3h0m52 2h0m43 14h0m-578 20h0m1-11h0m102 4h0m57 3h0m21-3h0m63-4h0m31-2h0m187 6h0m37-1h0m10-9h0m61 17h0m10-5h0m-529 8h0m67 14h0m11-11h0m14 1h0m83 4h0m67 9h0m79-1h0m6-3h0m56 5h0m100-9h0m-530 26h0m19 0h0m62 2h0m57-15h0m82-1h0m21 2h0m16 10h0m112 1h0m121 0h0m25-9h0m-572 23h0m28 2h0m110-9h0m6 14h0m43-7h0m359 4h0m105-12h0m13 11h0m255 5h0m-849 11h0m113-8h0m25 6h0m15 0h0m6 9h0m21 3h0m18-10h0m127 11h0m38-16h0m11 3h0m131 8h0m11-13h0m120 8h0m29-5h0m15-1h0m7 11h0m1-13h0m149 1h0m5 7h0m4 6h0m43-3h0m10-4h0m6 8h0m7-17h0m35 10h0m1-5h0m-829 22h0m47 11h0m35-6h0m37-9h0m8 6h0m67-1h0m12 7h0m41 4h0m77-7h0m5-9h0m75 11h0m25-14h0m21 18h0m22-3h0m58-1h0m2-7h0m2-7h0m8 20h0m17-6h0m223-11h0m-924 34h0m96 1h0m4-14h0m101 3h0m6 7h0m50-1h0m7-13h0m44 9h0m39 6h0m156-14h0m206 16h0m30-15h0m4 3h0m46 9h0m23 1h0m66-7h0m77 9h0m29 2h0m16-14h0m-988 26h0m41-8h0m92 11h0m10-9h0m18 11h0m61-9h0m32 9h0m0-2h0m29 0h0m60 3h0m17-6h0m6-7h0m7 1h0m48 5h0m36-9h0m67 17h0m45-5h0m172 6h0m60-14h0m29 13h0m56-6h0m68-8h0m43 10h0m-1046 6h0m83 5h0m10 7h0m66 4h0m31 0h0m0-5h0m166-8h0m19 7h0m17-7h0m277 8h0m124-8h0m36 8h0m45 8h0m12-4h0m21-3h0m4-9h0m7 3h0m2 2h0m11 7h0m8-3h0m-823 16h0m56 7h0m10-5h0m28 2h0m63-10h0m1 6h0m36-1h0m20-4h0m17 15h0m265-13h0m66-1h0m104 8h0m104-10h0m63-1h0m25 19h0m41-4h0m-858 19h0m17-5h0m13-8h0m5 14h0m10-3h0m15-10h0m8 6h0m23 10h0m17-5h0m64 0h0m3-8h0m110-4h0m62 6h0m17-6h0m99 11h0m5-7h0m2 11h0m136-13h0m43 3h0m97-3h0m52 3h0m59-1h0m-1015 20h0m11 13h0m93-1h0m11-15h0m53 12h0m47 0h0m48 4h0m137-7h0m23 2h0m76-5h0m90-4h0m29 7h0m2-12h0m5 11h0m22-5h0m7 7h0m131 4h0m60 0h0m19 1h0m50-11h0m64 0h0m48 4h0m14 7h0m15-6h0m25 2h0m-1079 11h0m103 13h0m51-14h0m59 15h0m65-5h0m64-8h0m56-6h0m7 4h0m36 5h0m21-3h0m87 0h0m59 13h0m23-8h0m147-9h0m23 11h0m16 7h0m6-1h0m185-18h0m15 4h0m26 5h0m13-9h0m1 10h0m11-5h0m2 4h0m-1001 27h0m1-4h0m91-9h0m26 8h0m135 7h0m21-19h0m156 18h0m58-15h0m25 2h0m98 1h0m148 4h0m21-2h0m56-5h0m101 13h0m61 1h0m22-2h0m-944 14h0m46-4h0m6 5h0m30 0h0m26-8h0m123 9h0m175 4h0m147-11h0m10 14h0m100-3h0m167 2h0m29-13h0m14 10h0m0-3h0m12-10h0m47 11h0m-999 21h0m76-7h0m9 7h0m18-3h0m53-8h0m8 14h0m6-7h0m38 7h0m79-1h0m11-8h0m39 6h0m105 2h0m9-14h0m92 14h0m1-14h0m2 13h0m7-12h0m23 13h0m3-5h0m61 4h0m2-7h0m135 12h0m3-15h0m20 4h0m13 6h0m3-13h0m5 11h0m13-11h0m32 0h0m7 0h0m13 5h0m-959 20h0m42 6h0m46 7h0m28-18h0m185 10h0m1 8h0m37-18h0m109 0h0m26 19h0m13-7h0m18-1h0m20 6h0m1-12h0m94 13h0m6-17h0m3 10h0m195 2h0m15-3h0m18-3h0m0 11h0m55 0h0m72-7h0m89-5h0m-959 20h0m101 5h0m95-10h0m16 3h0m127 5h0m26 9h0m13-13h0m8 13h0m20 0h0m25 1h0m69-3h0m21-10h0m113 0h0m146-1h0m4 2h0m41 10h0m30-13h0m18 8h0m39 4h0m4-5h0m7 1h0m11-7h0m-1077 21h0m33 10h0m17-1h0m220-16h0m52 7h0m44 4h0m128 8h0m57-14h0m96 8h0m35 6h0m233-3h0m41-5h0m6-7h0m46 13h0m86-10h0m-1085 15h0m44 2h0m92 16h0m149-10h0m51 5h0m96 3h0m111-17h0m164 1h0m8 3h0m181 12h0m28-13h0m15 16h0m40-2h0m8-14h0m4 11h0m56-12h0m24 15h0m-1044 12h0m6 0h0m137-4h0m50-3h0m5 0h0m5-1h0m15 17h0m54-18h0m7 5h0m31 0h0m4-4h0m30 14h0m63-3h0m24-6h0m175 7h0m41-6h0m19 5h0m8-4h0m5 4h0m64 0h0m123 2h0m8-11h0m13 1h0m30 11h0m58-14h0m80 14h0m-783 24h0m11-2h0m6-4h0m5 3h0m42 1h0m280 0h0m126-11h0m32 6h0m56-7h0m28 5h0m3-11h0m37 5h0m21 0h0m26-4h0m12 15h0m7-2h0m80-4h0m9-9h0m-996 32h0m63-9h0m69-3h0m61 11h0m18-8h0m49 13h0m117 2h0m264-7h0m13 3h0m38-3h0m83-6h0m5 7h0m8-12h0m18 14h0m14 3h0m21-10h0m19 9h0m0-10h0m15-1h0m64 13h0m14-18h0m28 13h0m23-6h0m0 9h0m-1100 15h0m1-6h0m21 0h0m3 10h0m210-12h0m13 5h0m90 6h0m12-3h0m92-3h0m14-3h0m12 14h0m105-9h0m17 0h0m140-8h0m36 4h0m14-7h0m22 10h0m34-5h0m7 12h0m3-7h0m27-3h0m17-4h0m71 6h0m57-6h0m18 12h0m16-2h0m15-2h0m21-7h0m-1076 28h0m9 3h0m114-12h0m21 1h0m241 5h0m3-5h0m37 5h0m29 1h0m44 5h0m231 1h0m5 1h0m49-15h0m70 6h0m20-5h0m6-1h0m13 15h0m4-5h0m7 4h0m146-12h0m-1025 31h0m37-8h0m13 3h0m23-6h0m21 10h0m162-9h0m23 2h0m96 3h0m6-2h0m65 1h0m112-2h0m166 12h0m49-10h0m109 8h0m34 0h0m22-8h0m-879 14h0m261 3h0m82-4h0m222 0h0m124 13h0m97-9h0m28 3h0m39 9h0m-930 7h0m20 7h0m83 1h0m4-12h0m105 4h0m11 1h0m6 0h0m40 5h0m157-9h0m39 16h0m3-4h0m59 3h0m104 2h0m31-11h0m10-1h0m23 10h0m13-11h0m9-4h0m33 10h0m56 2h0m27 6h0m66 0h0m8-18h0m19 17h0m-867 12h0m33 6h0m58-16h0m73 16h0m127 3h0m6-17h0m85 3h0m34 9h0m142-6h0m15 10h0m144-14h0m87 0h0m7-1h0m1 8h0m-835 18h0m103 2h0m20-1h0m55 3h0m5-11h0m94 2h0m98 10h0m133-5h0m82-5h0m22 11h0m62-4h0m2-6h0m24 10h0m5 0h0m26-11h0m49 9h0m12-12h0m6 2h0m9 5h0m-791 20h0m9-5h0m31 5h0m59 4h0m57-8h0m66 4h0m77 4h0m32-6h0m5 8h0m4 1h0m13-6h0m77-2h0m47-3h0m61-2h0m58-1h0m15 6h0m19 2h0m1 6h0m50-14h0m97 9h0m-848 10h0m45 1h0m29 10h0m5 7h0m21-7h0m116-6h0m32 14h0m27-17h0m99 2h0m3 7h0m42 8h0m5-13h0m11-6h0m12 8h0m16-8h0m43 1h0m130 16h0m73-15h0m24 10h0m67 0h0m3-11h0m-628 36h0m208-14h0m10 3h0m20-6h0m8 7h0m51-3h0m36-5h0m4 12h0m39-10h0m68 1h0m53 12h0m-672 10h0m65 5h0m387 8h0m16-8h0m5 1h0m51 5h0m73-6h0m40 9h0m17-7h0m43 2h0m-574 15h0m25-2h0m5 4h0m105-6h0m25 3h0m101 8h0m29-3h0m7 4h0m16 0h0m74-11h0m97 12h0m94-7h0m43-9h0m-736 33h0m165 2h0m76-7h0m151 1h0m50-4h0m10 4h0m49 7h0m13-17h0m22 0h0m7 0h0m7 7h0m5 9h0m87 0h0m-580 16h0m34-11h0m34 6h0m43-2h0m64-5h0m130 9h0m16 0h0m93-8h0m175 6h0m-607 16h0m9-3h0m57 13h0m8-11h0m272 11h0m101-3h0m1-6h0m81 14h0m-448 21h0m165-3h0m6-17h0m1 6h0m217 10h0m17-3h0m-486 19h0m10 3h0m40-11h0m259-1h0m117 13h0m36-12h0m-420 29h0m0-2h0m2-7h0m138 10h0m28-4h0m-181 12h0m139 17h0m170-5h0m0-12h0m12 0h0m-260 35h0m7-16h0m34 19h0m37-8h0m22 5h0m7 1h0m54-4h0m11-1h0m59-11h0"/>
<path stroke="#57ffa8" d="M388 265h0m4 32h0m-116 4h0m18 9h0m113 4h0m-144 20h0m35 2h0m143 1h0m-149 21h0m124-4h0m7-2h0m-89 28h0m-76 10h0m47-1h0m164 2h0m-75 12h0m-79 33h0m24 0h0m85 12h0m104 4h0m-116 19h0m126-3h0m30 8h0m16-3h0m-273 16h0m59-6h0m59 13h0m162-3h0m-328 22h0m14-7h0m14 6h0m21 15h0m133 10h0m49 0h0m60-6h0m57-3h0m36 3h0m8 2h0m-356 24h0m203-6h0m22-7h0m36 9h0m79-14h0m24 4h0m-382 23h0m300 9h0m-286 21h0m14-8h0m13-9h0m149 22h0m119 0h0m9 8h0m-341 11h0m66 15h0m98-8h0m215-2h0m3 8h0m18-8h0m-382 26h0m85-12h0m145 1h0m61-2h0m3 1h0m27 18h0m102-13h0m4 12h0m-428 14h0m15-7h0m77 0h0m9 3h0m313 6h0m37-9h0m0 8h0m7 0h0m-454 14h0m37-2h0m48 5h0m283-6h0m33 14h0m10-11h0m33 11h0m6 1h0m11-13h0m12 11h0m-490 8h0m34 5h0m5 9h0m93-17h0m240 13h0m72-4h0m58 1h0m27 2h0m65 1h0m-460 15h0m190 1h0m25-4h0m11-5h0m68-1h0m33 4h0m39-5h0m20 15h0m-418 11h0m189 3h0m87-9h0m208 4h0m14 2h0m25 6h0m6-2h0m22 3h0m-301 15h0m201 10h0m37-12h0m19 13h0m6-5h0m-506 10h0m120 9h0m202-3h0m6 0h0m68-4h0m19 13h0m45-13h0m14 1h0m14 11h0m-32 19h0m26-7h0m10 6h0m167-8h0m216 1h0m23 2h0m-818 23h0m56 1h0m50-8h0m66 9h0m5-13h0m60 13h0m20-2h0m37 0h0m180-6h0m70 3h0m154 5h0m13 0h0m48 0h0m15-11h0m28-2h0m3 7h0m16-6h0m5 0h0m-951 31h0m43 1h0m62 3h0m160-4h0m11-9h0m18 10h0m112-8h0m11 7h0m70 0h0m27 4h0m62-12h0m15 7h0m114-14h0m131 4h0m1 5h0m13 7h0m13-9h0m26 12h0m5-15h0m14-3h0m3 7h0m30 7h0m2-13h0m-1003 19h0m80 12h0m29 1h0m16-7h0m47-2h0m105 13h0m4-6h0m20-7h0m16 7h0m5-5h0m143-2h0m42 7h0m174-3h0m16-1h0m5 10h0m42-12h0m26 1h0m134 5h0m14 1h0m7-12h0m86 13h0m11-13h0m17 11h0m9 0h0m-866 25h0m14-16h0m40 8h0m25-9h0m4 5h0m81 1h0m113 1h0m4 9h0m88-6h0m101 3h0m52-1h0m15-7h0m38 1h0m116 14h0m2-6h0m18 0h0m20-14h0m38 18h0m3-4h0m27-10h0m71 14h0m18-6h0m-1080 20h0m7-3h0m154 3h0m84 5h0m3-5h0m22-12h0m20 19h0m59-15h0m72 13h0m11-6h0m103 2h0m128-10h0m8 11h0m16-3h0m40-2h0m197-6h0m24 14h0m47-5h0m11-10h0m12 10h0m22 6h0m10-7h0m12-1h0m-905 11h0m60 19h0m40-9h0m27 5h0m126-13h0m45 10h0m93 4h0m85 3h0m45-2h0m99-15h0m57 7h0m97-7h0m2 11h0m6 0h0m25-12h0m35 7h0m11 8h0m9 0h0m14-3h0m-948 23h0m7-10h0m18-4h0m15 3h0m6 8h0m36-6h0m42 2h0m17-6h0m120 5h0m9-7h0m7 5h0m13 2h0m16 7h0m25 3h0m10-5h0m3-12h0m103 14h0m14 0h0m61-15h0m42 1h0m150 18h0m2-20h0m109 7h0m64 3h0m4 5h0m45 4h0m-919 21h0m144-2h0m5-11h0m92 7h0m38 0h0m68 0h0m96-9h0m85-3h0m51 11h0m78-5h0m95 3h0m118-4h0m47 1h0m61 3h0m-897 29h0m3-16h0m3-4h0m13 5h0m14 4h0m14 5h0m0-11h0m7 2h0m8 5h0m139 0h0m25 3h0m86-7h0m97 2h0m35-7h0m7 16h0m28-15h0m21 3h0m101 12h0m38 2h0m5-14h0m67 0h0m42 15h0m47-19h0m1 4h0m17 2h0m3 12h0m5-1h0m95-8h0m-990 26h0m120-10h0m84-2h0m85 15h0m327-8h0m70-7h0m60 7h0m9-1h0m69 8h0m34-18h0m17 11h0m49-7h0m41 5h0m35 3h0m-1043 18h0m68 8h0m112-13h0m87 2h0m15-2h0m19 6h0m9 2h0m195-8h0m12-3h0m22 11h0m106 5h0m8-10h0m9-5h0m145 12h0m65-11h0m22 4h0m100 6h0m7 2h0m13-1h0m21-5h0m4 4h0m-990 26h0m112-16h0m43 8h0m4-2h0m30-2h0m95-4h0m26-3h0m48 13h0m342-7h0m61 10h0m66-2h0m10 0h0m34-3h0m95-11h0m21 6h0m8-4h0m-1115 36h0m16-13h0m117 0h0m117 8h0m9-1h0m103-6h0m29-5h0m48 11h0m43 4h0m98-2h0m0-14h0m15 13h0m29-1h0m82 2h0m245-1h0m25 1h0m32-2h0m57 4h0m-990 17h0m86-12h0m74 15h0m65 3h0m68-13h0m131 6h0m179-7h0m10 0h0m104 1h0m27 10h0m26-7h0m146-2h0m2 10h0m35 0h0m78-6h0m-1046 18h0m260 1h0m113-4h0m269 10h0m54-13h0m53 6h0m98 0h0m28-7h0m11 8h0m12-8h0m1 16h0m15-6h0m21 4h0m60-6h0m29 9h0m2-13h0m18 6h0m-880 24h0m13-8h0m179 0h0m12 5h0m276-6h0m38 3h0m78-1h0m136-6h0m119 5h0m40 0h0m2-7h0m-1067 26h0m36 0h0m368 9h0m0-10h0m301-3h0m99-4h0m80 16h0m44-3h0m51-9h0m18 2h0m21 5h0m36-3h0m-980 27h0m168-5h0m48-9h0m58 15h0m159-9h0m119 12h0m1-3h0m31 0h0m162-1h0m35-7h0m50-6h0m7 17h0m142-10h0m9-7h0m-1103 38h0m33-18h0m8 14h0m28-3h0m48-12h0m101 16h0m18-6h0m66 9h0m35-10h0m27 3h0m5-6h0m84 12h0m70-14h0m42 2h0m214-2h0m201-4h0m5 9h0m92 7h0m27-16h0m-1086 29h0m197 5h0m23-11h0m126 9h0m12-11h0m6 3h0m170 7h0m173 7h0m36-12h0m15 9h0m31-16h0m252 7h0m40-3h0m-1107 22h0m26 2h0m121 6h0m30 1h0m2-4h0m9 7h0m196-14h0m126 7h0m97-7h0m100 10h0m56-8h0m26 12h0m23-9h0m38-7h0m24 15h0m27-13h0m109 12h0m7 0h0m-990 6h0m121 1h0m8-1h0m46 6h0m31 2h0m1-8h0m129-2h0m73 2h0m36 0h0m75 3h0m49-1h0m42-2h0m88 1h0m51 5h0m8 9h0m83-14h0m28 10h0m9-6h0m65 8h0m-968 11h0m4 3h0m76-8h0m11 19h0m15-13h0m42-6h0m154 11h0m25-7h0m43 3h0m20 6h0m169-5h0m41-3h0m157 8h0m-697 20h0m56 4h0m86-11h0m25 1h0m31-3h0m17 13h0m50-11h0m53 10h0m8 2h0m5-5h0m90-7h0m69 10h0m54-3h0m46-2h0m109 7h0m102-1h0m7 0h0m74-7h0m-858 18h0m43 8h0m14-8h0m73 11h0m13-9h0m61 0h0m29-10h0m10 18h0m53-16h0m81 1h0m140 15h0m18-7h0m12-8h0m76 15h0m65-15h0m64 5h0m25-2h0m29 11h0m-887 14h0m6-2h0m48 2h0m102 7h0m25-3h0m53-6h0m21 4h0m190-5h0m7-5h0m212 0h0m137-2h0m27 2h0m-796 35h0m37-12h0m128-5h0m56 9h0m65-8h0m5 13h0m11-13h0m29 6h0m43 2h0m140-6h0m105 2h0m129 12h0m14-12h0m1 9h0m18-12h0m-807 29h0m9 3h0m110 3h0m4-11h0m8 7h0m4-2h0m11 2h0m5 0h0m59-14h0m121 3h0m81 10h0m61-6h0m167 7h0m52-8h0m96 12h0m-799 12h0m7-4h0m29-2h0m13-5h0m22 6h0m125 0h0m5-1h0m1 13h0m86-18h0m7 11h0m91 1h0m14-3h0m41-5h0m25-3h0m10 10h0m129 0h0m29 0h0m40 2h0m-664 17h0m42-10h0m220 0h0m101 4h0m13 7h0m80-8h0m13 8h0m47 1h0m131 4h0m-423 6h0m172 13h0m68-4h0m187 8h0m-513 16h0m1-4h0m10-8h0m38 10h0m8-11h0m52 13h0m27-8h0m121-3h0m58 4h0m29 1h0m16-1h0m8 5h0m20-4h0m144 1h0m-664 25h0m80-1h0m35 4h0m54-12h0m7 10h0m274-1h0m130-14h0m46 18h0m-643 3h0m81-1h0m21 14h0m7-2h0m8-12h0m22 0h0m50 11h0m171 2h0m131-1h0m110 2h0m-566 12h0m12 1h0m86-2h0m17 13h0m200-7h0m-262 12h0m8 14h0m20-2h0m266 1h0m11-10h0m-344 23h0m319-9h0m-269 28h0m83-1h0m33 8h0m21-8h0m51 8h0m8-3h0m22-1h0m-228 8h0m66 17h0m51-14h0m17 3h0m9 7h0m88 0h0"/>
<path stroke="#47ffb8" d="M260 271h0m29-1h0m-25 27h0m71-17h0m1 14h0m-49 15h0m65-5h0m2 10h0m7-10h0m41 16h0m-132 12h0m2-2h0m40 2h0m59 7h0m6-10h0m0 19h0m-10 15h0m44 15h0m76-13h0m-221 30h0m147 3h0m82-8h0m-186 27h0m104-14h0m37 15h0m-113 10h0m-65 13h0m112-1h0m199 8h0m-19 24h0m-202 16h0m67 29h0m55-6h0m52 3h0m-266 14h0m217-8h0m37 34h0m112-1h0m29-10h0m-377 24h0m182-7h0m7 2h0m56 5h0m-275 16h0m53 3h0m23 14h0m89-19h0m96 2h0m7 8h0m16-4h0m-269 24h0m85-6h0m176 12h0m41 1h0m26-16h0m68 13h0m3-3h0m2 4h0m-334 12h0m114 6h0m29 1h0m51-14h0m75 5h0m-342 24h0m244 5h0m70-14h0m16 14h0m108-9h0m-409 27h0m15 1h0m120-6h0m76 4h0m48-8h0m37 7h0m14-9h0m50 9h0m-351 12h0m239 17h0m50-16h0m19 14h0m53-6h0m66 2h0m-201 20h0m58-5h0m104-3h0m37 0h0m10-1h0m15 6h0m1 6h0m107 1h0m-296 8h0m30 7h0m122-11h0m100 0h0m73 7h0m1 8h0m-377 12h0m61-9h0m42 14h0m121-13h0m55 8h0m-376 29h0m173-9h0m50 3h0m84-10h0m-424 18h0m96 16h0m180-6h0m108 3h0m24-8h0m27-1h0m17-1h0m61 8h0m425 9h0m-936 11h0m212-5h0m11 10h0m5-2h0m154-3h0m23 0h0m2 8h0m-406 10h0m201-1h0m191 1h0m65 2h0m15-4h0m33 8h0m2-4h0m191-2h0m14 0h0m44-1h0m117 9h0m65-13h0m9 12h0m4 3h0m11-10h0m-911 24h0m181-6h0m5-6h0m212 9h0m52-8h0m75 12h0m142 5h0m28-17h0m102 14h0m14-2h0m10-6h0m11 8h0m31-9h0m7-7h0m1 8h0m20 7h0m18-5h0m11 4h0m4 5h0m-845 3h0m36 6h0m1 4h0m51-10h0m88 17h0m26-4h0m72-6h0m93 11h0m40-8h0m7 3h0m29 0h0m19-9h0m15-2h0m6 1h0m1 8h0m0-11h0m54 12h0m33-7h0m11-1h0m127 2h0m7 0h0m5-8h0m2 5h0m9 14h0m10-19h0m18 12h0m84-7h0m3 12h0m-1001 9h0m100-5h0m55 9h0m221-6h0m13-4h0m79 5h0m49-2h0m66 3h0m58 13h0m8-16h0m43 4h0m229 6h0m49 1h0m19 5h0m-797 11h0m24 1h0m20-3h0m65-4h0m30 0h0m209 12h0m5 2h0m147-13h0m5 12h0m0-14h0m59 6h0m5-7h0m22 7h0m82 8h0m112-5h0m42-1h0m-1026 26h0m70-16h0m93 2h0m1 8h0m159-9h0m25 9h0m16-1h0m17-9h0m2 6h0m19-6h0m11 0h0m105 15h0m33-12h0m21 7h0m35-8h0m58 5h0m2-6h0m29 15h0m51-5h0m8-10h0m13 3h0m1 9h0m7-13h0m163 4h0m19 15h0m7-4h0m33-11h0m5-2h0m1 8h0m13-7h0m-836 23h0m61-4h0m52 4h0m67 3h0m124 4h0m30-12h0m42 7h0m38-2h0m63-1h0m75-3h0m7 12h0m84 4h0m1-17h0m144-1h0m-975 21h0m159 9h0m16-8h0m130 2h0m20-3h0m137 17h0m68-8h0m26 6h0m11-16h0m19 19h0m12-19h0m159 7h0m192 3h0m57-5h0m9-1h0m-766 19h0m58-1h0m258 4h0m36 12h0m24-7h0m71-8h0m27 8h0m29-8h0m196 1h0m14-4h0m7 12h0m8 3h0m5-12h0m-855 35h0m28-8h0m0 7h0m155-7h0m107 5h0m173-16h0m26 5h0m282 14h0m45-3h0m12-13h0m9 0h0m97 15h0m16-3h0m19-5h0m-954 27h0m28-13h0m94 1h0m113 7h0m36-7h0m90 8h0m22 1h0m48-8h0m346 2h0m18-6h0m26 12h0m64 6h0m0-10h0m57 8h0m-1003 5h0m118-3h0m19 6h0m116 1h0m193 12h0m132-12h0m219 9h0m48-7h0m40 1h0m99 9h0m38-11h0m-748 26h0m87 0h0m8 1h0m193-7h0m132 11h0m117-1h0m27 1h0m30 1h0m23-18h0m29 7h0m-970 27h0m119-10h0m71-1h0m173 14h0m74-11h0m271 10h0m162-4h0m10 5h0m3-18h0m21 9h0m20 1h0m40 5h0m45 0h0m39-12h0m21 13h0m-886 7h0m168 5h0m25-6h0m31 9h0m4-8h0m44 9h0m7-4h0m282-6h0m16 17h0m92-8h0m27-9h0m23 4h0m10 5h0m-872 18h0m402 4h0m223-10h0m256 11h0m9-12h0m37 7h0m52 4h0m18-8h0m1 4h0m20-8h0m-702 32h0m18 0h0m57-1h0m283 3h0m93 3h0m14-3h0m1-7h0m114-9h0m123 17h0m-1045 6h0m275 11h0m15-13h0m85 17h0m398-11h0m269 8h0m5-1h0m6-3h0m-771 17h0m544 5h0m40-3h0m-914 19h0m147-4h0m155 1h0m68-5h0m235 17h0m-614 10h0m36 7h0m36-1h0m34-2h0m222-7h0m134 7h0m25-8h0m44-1h0m166 14h0m0-7h0m66 2h0m129 6h0m-868 18h0m78-8h0m53 7h0m35-4h0m290 6h0m23 3h0m78-7h0m40 1h0m36-1h0m222-3h0m36-9h0m-806 32h0m27 1h0m48-7h0m8 1h0m102 6h0m77-12h0m3 9h0m44 4h0m17-7h0m23-5h0m27 3h0m9 8h0m101-7h0m194-3h0m24 2h0m-673 23h0m126 2h0m57-7h0m40 1h0m52 8h0m8 2h0m200 4h0m3-13h0m186 4h0m48-3h0m62 4h0m15 5h0m-877 5h0m70 4h0m44 13h0m56-18h0m83 18h0m1-6h0m49-7h0m229-2h0m2 7h0m36-7h0m2 10h0m33 6h0m48-16h0m56 7h0m91-7h0m4 17h0m-618 4h0m71 2h0m39-2h0m23 5h0m8 0h0m13 8h0m79-15h0m66 13h0m54-7h0m55 2h0m29 2h0m79 0h0m30-7h0m-792 29h0m65 3h0m203 0h0m82-15h0m63-1h0m34 1h0m27 4h0m2-1h0m181-4h0m15 13h0m-490 12h0m55 12h0m49-11h0m9 8h0m59-8h0m17-5h0m77 17h0m45 1h0m176-8h0m49-9h0m96 12h0m-713 16h0m108-1h0m2-5h0m70-3h0m22 10h0m177 6h0m137-10h0m41 4h0m16-8h0m-505 32h0m49-9h0m20 0h0m25-6h0m78 3h0m92 2h0m58-3h0m4 9h0m202-6h0m-644 33h0m118-17h0m30 17h0m63-11h0m3-2h0m110 2h0m98-5h0m11 0h0m154 3h0m4 5h0m30-2h0m12-1h0m10-2h0m-657 32h0m52-15h0m51 4h0m85 7h0m24 3h0m113-7h0m52 6h0m68-7h0m1-5h0m-473 31h0m33-12h0m13 13h0m246-10h0m80 14h0m50-12h0m46-6h0m-323 21h0m9 16h0m4-17h0m7 3h0m2-2h0m55 9h0m14 6h0m173-5h0m62 1h0m-379 24h0m219 0h0m4-6h0m65 6h0m33-14h0m1 9h0m75 0h0m5-6h0m57-1h0m-504 20h0m73-3h0m23 13h0m109-5h0m75-6h0m14 14h0m94-2h0m38-10h0m-368 14h0m185 13h0m24-5h0m20-1h0m18 0h0m-208 31h0m70-10h0m27-6h0m8 3h0m29 4h0m14-4h0m32 14h0m49-18h0m-201 33h0m82-15h0m24 15h0m66-9h0m-98 15h0"/>
<path stroke="#a8ff57" d="M273 276h0m60-7h0m26 7h0m-44 23h0m111 4h0m-79 55h0m59-1h0m26-2h0m10 2h0m5 9h0m-178 26h0m25-2h0m182 17h0m-214 32h0m13-15h0m113 10h0m-64 21h0m94-3h0m30-6h0m21 1h0m66 5h0m26-6h0m-232 32h0m68-1h0m194 1h0m9-4h0m-267 15h0m42 2h0m62 5h0m164 2h0m-296 16h0m32-2h0m7-3h0m44-5h0m108-1h0m47 6h0m66 8h0m8 7h0m-354 34h0m82-5h0m-38 17h0m59 9h0m6-7h0m9-1h0m143 2h0m41-12h0m12 3h0m12 7h0m39 1h0m3-10h0m-360 29h0m7-5h0m161 1h0m175 9h0m10-11h0m-61 26h0m106-8h0m-403 19h0m49 2h0m9-4h0m26 14h0m42-3h0m232-8h0m81 14h0m-337 10h0m0 8h0m15-12h0m65 9h0m10-5h0m100-6h0m85 17h0m17-4h0m9 2h0m-266 14h0m6-9h0m202 5h0m43 0h0m54 7h0m-434 8h0m119 14h0m66-9h0m5 9h0m-119 23h0m72-9h0m8 2h0m114 0h0m9 1h0m137-4h0m141 1h0m-567 25h0m47 0h0m26-3h0m64-10h0m14 5h0m71 5h0m378 4h0m23-1h0m-580 22h0m73-2h0m112-6h0m54 7h0m74-5h0m146 2h0m-236 23h0m-252 21h0m159-4h0m59 5h0m61-6h0m12 4h0m89-11h0m1 14h0m-210 18h0m199-4h0m10 5h0m11-15h0m7 13h0m295 2h0m17-7h0m-594 26h0m40-1h0m34 3h0m2-14h0m123 11h0m3 0h0m59-14h0m471 4h0m-830 24h0m6-2h0m1 12h0m128-5h0m44 0h0m14-2h0m14 3h0m16-1h0m131-1h0m27-7h0m12 6h0m321-11h0m72 5h0m70-1h0m-853 23h0m8 12h0m61-12h0m39-6h0m86-2h0m52 13h0m218-1h0m321-6h0m1-5h0m-806 24h0m98 3h0m45-3h0m239 11h0m-370 13h0m16 0h0m93 9h0m54-7h0m5-8h0m89 6h0m17 1h0m108 1h0m91 1h0m395-8h0m-782 20h0m16-1h0m309 4h0m424 7h0m-786 16h0m172-4h0m281 0h0m291 7h0m270-6h0m-1056 32h0m9-8h0m97-8h0m17 2h0m114 0h0m91 6h0m16 7h0m119-15h0m16 9h0m358 3h0m10-1h0m-838 17h0m21 8h0m137-2h0m80 0h0m37 0h0m55 3h0m80-12h0m68-2h0m170 4h0m123-4h0m64 5h0m29 0h0m162-11h0m-1051 30h0m328-7h0m44 15h0m64-17h0m35 4h0m182 6h0m43 6h0m101-11h0m11 6h0m60-2h0m195-2h0m-1053 20h0m12-5h0m46 7h0m105 1h0m256 5h0m59 0h0m43 0h0m89-6h0m5 5h0m1-7h0m277-7h0m-853 27h0m35 2h0m68-4h0m51 4h0m29-9h0m264 13h0m22-14h0m7 8h0m90 12h0m72-19h0m25 19h0m83-3h0m16-3h0m25-1h0m-754 14h0m30 10h0m37-8h0m58-1h0m58 10h0m35-1h0m170-3h0m25 5h0m244-10h0m86-8h0m-786 32h0m30-1h0m41-7h0m40 6h0m19-4h0m227 9h0m106-6h0m10-5h0m1 9h0m8-13h0m35 7h0m26 9h0m13-3h0m16 4h0m89-13h0m10 0h0m129-1h0m-845 22h0m36-2h0m6-1h0m110 0h0m2 13h0m80 0h0m3 3h0m55-2h0m12-2h0m49 4h0m153-12h0m20-5h0m43 13h0m30-10h0m35-1h0m115 15h0m84-17h0m16 17h0m-755 2h0m36 1h0m56 0h0m40 15h0m163-11h0m24 1h0m19 8h0m12 1h0m37-5h0m131-8h0m9 14h0m131-7h0m41-2h0m35 6h0m41-12h0m-885 22h0m121-3h0m10 15h0m58 1h0m10-9h0m35-1h0m101 3h0m110 9h0m16-18h0m8 13h0m15-1h0m56-10h0m42 0h0m25 13h0m421-1h0m-990 11h0m148 3h0m3 5h0m32 0h0m11-5h0m53 4h0m128 3h0m19-14h0m39 14h0m46-12h0m78 4h0m32 1h0m41-2h0m52-6h0m31 19h0m14-6h0m13-3h0m17 9h0m1-4h0m5-2h0m10-5h0m12 9h0m3 1h0m26-8h0m162-10h0m42 5h0m-1056 15h0m6 6h0m64 7h0m66-14h0m130 8h0m14 10h0m90 1h0m16-9h0m178 9h0m34-12h0m-582 19h0m104 4h0m51-5h0m97 6h0m27 7h0m105-8h0m73-3h0m31 12h0m31-14h0m37 2h0m109-4h0m128 2h0m45 7h0m51-8h0m28 6h0m68 9h0m-926 4h0m171 11h0m52-3h0m2 6h0m175-5h0m43 2h0m7-13h0m66 3h0m86-3h0m26 5h0m148 10h0m3 2h0m57-14h0m34 14h0m-893 16h0m2-12h0m9 14h0m127-15h0m65 19h0m21-14h0m117 13h0m195-2h0m17-9h0m92 12h0m5 0h0m135-1h0m116-11h0m-899 24h0m20-5h0m269-3h0m115 2h0m314-1h0m203 13h0m-860 8h0m61 13h0m104-14h0m73 2h0m79-2h0m19-4h0m2 6h0m78-5h0m7 10h0m157-12h0m8 2h0m14 6h0m173-6h0m43 9h0m-837 12h0m81 4h0m9 5h0m54-8h0m110 7h0m156-7h0m21 16h0m326-5h0m-591 10h0m264 5h0m210-6h0m41 4h0m-658 21h0m164-5h0m265 10h0m183-10h0m49 5h0m6 5h0m-742 24h0m21-6h0m15-10h0m80-2h0m302 9h0m55 3h0m222 8h0m10-2h0m22 1h0m12-12h0m-746 28h0m457 2h0m32-16h0m76 8h0m102 9h0m6-7h0m-677 19h0m88 0h0m296 6h0m153-9h0m24-7h0m-456 25h0m376 6h0m33-6h0m55 11h0m103 3h0m33-14h0m-654 25h0m23-2h0m10 8h0m279-4h0m182 5h0m4-12h0m5-2h0m0 17h0m49-4h0m3 1h0m10-6h0m-614 25h0m88-2h0m468-1h0m39 5h0m56-18h0m-611 34h0m478-7h0m13-6h0m1 7h0m5 4h0m54-11h0m-455 76h0m-112 6h0m86 3h0m3 6h0m-51 23h0"/>
<path stroke="#d9ff26" d="M363 271h0m63 62h0m-141 53h0m49-4h0m50-2h0m6 38h0m156-7h0m-183 29h0m5 11h0m-30 11h0m145 10h0m21 4h0m88-4h0m-243 45h0m53-12h0m7-3h0m54 7h0m47-5h0m-154 17h0m209 7h0m8 12h0m-315 25h0m15 37h0m3 0h0m80 25h0m60 33h0m145-11h0m-177 26h0m25 3h0m60-6h0m-64 14h0m-8 22h0m450 10h0m-510 18h0m105-2h0m422-3h0m-498 27h0m100 1h0m34-10h0m-233 45h0m29-4h0m21 2h0m284-8h0m70 15h0m-231 19h0m27-2h0m37-1h0m81 15h0m27 6h0m-341 11h0m100-4h0m-92 23h0m78 8h0m303-7h0m19 8h0m-383 12h0m352-4h0m399 13h0m-387 10h0m-362 18h0m777 36h0m-698 5h0m29 6h0m78 0h0m605-5h0m37 0h0m-830 51h0m450-8h0m19-4h0m180 1h0m-218 15h0m32 1h0m-480 20h0m207 11h0m229-7h0m20-6h0m355 8h0m-689 27h0m498 2h0m134-17h0m42 3h0m-541 22h0m41 5h0m-195 26h0m30-10h0m1 4h0m584 8h0m120-8h0m-680 14h0m378 5h0m94 0h0m-562 28h0m49-8h0m38 1h0m99 6h0m87-7h0m200-5h0m29 10h0m60-7h0m112-6h0m37 1h0m-730 27h0m39 5h0m114-5h0m331 0h0m15-7h0m188 1h0m48-1h0m-777 31h0m603 0h0m87 5h0m-650 5h0m44 16h0m180-7h0m14 14h0m-207 67h0m7-9h0m-6 25h0m159-4h0m8-1h0m-196 66h0m463 5h0m228-8h0m4 9h0m-34 18h0m-677 20h0m52 5h0m20-8h0m325-3h0m220 10h0m-92 11h0m-544 21h0m-7 20h0m578 16h0m-84 23h0m-337 33h0m-31 52h0"/>
<path stroke="#e9ff16" d="M400 273h0m40 93h0m81 33h0m3 2h0m-266 57h0m137 9h0m-77 28h0m145 2h0m96 2h0m-141 66h0m-146 33h0m94-14h0m9 39h0m-88 30h0m9 3h0m87 10h0m5 11h0m480 57h0m-585 10h0m-17 35h0m163-10h0m335 1h0m4-8h0m-424 31h0m7-6h0m9 24h0m-102 67h0m44 14h0m11 6h0m775-17h0m-339 35h0m-33 13h0m-77 70h0m74 17h0m-420 13h0m159 7h0m51-1h0m319-2h0m62-8h0m-532 84h0m66-6h0m379 6h0m-378 40h0m207 11h0m216-12h0m57-7h0m-540 20h0m19-1h0m29 19h0m449-8h0m-52 17h0m-493 17h0m597 13h0m-122 36h0m-510 22h0m233 22h0m-166 34h0m544-1h0m99 29h0m-691 58h0m552 52h0m28 0h0m-61 11h0m42 1h0"/>
<path stroke="#00f5ff" d="M294 284h0m49 31h0m-3 296h0m155 18h0m45 26h0m-279 7h0m315 2h0m-84 37h0m150 3h0m31 17h0m30 13h0m50 0h0m-57 34h0m127 42h0m-116 20h0m152 49h0m25-12h0m48 26h0m-115 38h0m126 10h0m28 32h0m13 4h0m-320 100h0m-13 9h0m98 12h0m-484 14h0m458 25h0m-182 178h0m546 4h0m-690 17h0m-37 6h0m206 28h0m-58 25h0m83-9h0m26-6h0m9 8h0m-186 23h0m60-6h0m81 27h0m9 24h0m3-12h0m36 8h0m-101 27h0m206 22h0m-216 22h0m48 2h0m9 0h0"/>
<path stroke="#37ffc8" d="M321 290h0m13 0h0m-52 24h0m68 2h0m22 1h0m3-3h0m-63 25h0m61-18h0m42 8h0m7-9h0m-131 27h0m5 1h0m68 0h0m121 9h0m-191 15h0m110 4h0m60-3h0m-208 54h0m37 1h0m19 11h0m27 14h0m25 4h0m-52 14h0m262 6h0m-147 43h0m-164 1h0m130 3h0m144-2h0m58 4h0m-302 26h0m8-1h0m191 6h0m48-10h0m121 5h0m-185 24h0m36-11h0m19 13h0m120-14h0m5 7h0m-231 45h0m210-4h0m6 5h0m-312 17h0m98-5h0m97-1h0m-192 13h0m0 5h0m156 0h0m39 14h0m-265 8h0m241-2h0m37-5h0m106 9h0m23-3h0m21 0h0m57 12h0m-443 13h0m22 7h0m183-9h0m26-1h0m23-4h0m42 15h0m116-10h0m28-9h0m-235 25h0m120-2h0m20 5h0m58-7h0m-151 25h0m47-5h0m146 15h0m14-4h0m48 1h0m5 1h0m-227 7h0m20 6h0m208 1h0m-271 17h0m186-2h0m-252 23h0m434 12h0m-177 6h0m12 10h0m16-5h0m18-4h0m18-3h0m252 15h0m11-1h0m147 0h0m20 2h0m18-13h0m3 12h0m14-3h0m-870 15h0m87 9h0m75-5h0m196-7h0m31-7h0m11 17h0m27-9h0m38 7h0m123-15h0m11 4h0m73 0h0m149 0h0m-769 33h0m181-8h0m79-1h0m159 5h0m29-12h0m128 7h0m3 6h0m149-10h0m-734 21h0m58 2h0m71 1h0m179 9h0m12 0h0m7-10h0m27-1h0m10 7h0m20-10h0m4 10h0m72-9h0m41 10h0m47 6h0m8-8h0m3-1h0m149-9h0m11 15h0m4-8h0m39 8h0m2-3h0m9-8h0m-950 28h0m169-8h0m59 13h0m1-9h0m12 9h0m15-9h0m43-4h0m106 0h0m44 11h0m21-12h0m9-5h0m15 1h0m92 0h0m5 4h0m5 6h0m12 5h0m159-2h0m102-2h0m32-3h0m2 7h0m65-11h0m-803 33h0m199-9h0m143-3h0m89 12h0m9-4h0m93-9h0m31 0h0m9 0h0m240 5h0m-842 26h0m151 3h0m57-8h0m79-3h0m219-6h0m20 3h0m35 12h0m45-10h0m234 2h0m25 0h0m-787 19h0m36 2h0m9-8h0m44-1h0m70 13h0m25-13h0m4 15h0m22 0h0m5-8h0m145 8h0m37 0h0m87-1h0m54-3h0m9 5h0m40-13h0m159 15h0m14-17h0m-966 32h0m12-12h0m310 17h0m63-7h0m311-7h0m59 12h0m84-11h0m-839 33h0m9-6h0m90 3h0m145-16h0m65 10h0m14 8h0m10 0h0m13 1h0m5-16h0m109 7h0m79-9h0m54 9h0m-470 10h0m45 7h0m172 4h0m4-9h0m248 15h0m362-6h0m9 8h0m-402 9h0m28-3h0m339 5h0m50-7h0m92 7h0m30 1h0m-796 24h0m394-8h0m0-7h0m235 2h0m85 11h0m22 4h0m8-13h0m5 13h0m-696 15h0m7 1h0m315-8h0m368 9h0m8-7h0m37 7h0m-666 19h0m102 1h0m128-8h0m279 1h0m2 3h0m15-3h0m29 0h0m95 7h0m-583 10h0m112-1h0m89 10h0m-451 19h0m222-1h0m276-1h0m350-7h0m-640 17h0m507 3h0m76 12h0m-1035 18h0m642 0h0m-488 26h0m60-13h0m530 13h0m-439 18h0m43-8h0m-218 19h0m7 2h0m34-9h0m39 1h0m413 14h0m-636 14h0m13 6h0m187 1h0m204-4h0m325 7h0m129 0h0m1-6h0m5 5h0m-849 4h0m98 9h0m325-5h0m175-2h0m7 4h0m240-2h0m5 0h0m-720 22h0m156 9h0m206-4h0m62 6h0m30-5h0m236 3h0m22-5h0m-517 27h0m275-16h0m58 7h0m63 6h0m4-1h0m16-11h0m5 11h0m40-7h0m-701 28h0m37-14h0m11-1h0m80 2h0m11 14h0m179-4h0m192-9h0m117 11h0m15-14h0m40 16h0m40-2h0m-733 15h0m227-1h0m33-3h0m75-2h0m31-2h0m295 6h0m40-8h0m54 2h0m8 6h0m-797 12h0m43 19h0m16-4h0m68-13h0m78 5h0m37 0h0m13-7h0m27 6h0m29 12h0m14-5h0m230-10h0m202-4h0m-645 27h0m21 1h0m31 9h0m12-4h0m216-9h0m215 4h0m14-3h0m-502 24h0m31-3h0m21 6h0m32-5h0m72-2h0m29 3h0m6 3h0m106-7h0m119 1h0m53 2h0m-376 23h0m26 1h0m-140 11h0m54 12h0m5 0h0m98-12h0m91 15h0m5-9h0m8 1h0m20-1h0m149 6h0m-548 15h0m36-3h0m103 9h0m157 4h0m14 0h0m16 0h0m30-4h0m104-1h0m-298 12h0m51-1h0m-192 18h0m50 0h0m201 10h0m32-10h0m24 5h0m18 12h0m-343 8h0m83-3h0m7 4h0m153 1h0m4 5h0m41 3h0m7-18h0m37 17h0m100-6h0m-299 45h0m60-14h0m17 16h0m18-17h0m56 15h0m36 0h0m-126 11h0m98 4h0m-38 9h0"/>
<path stroke="#c8ff37" d="M413 291h0m7-2h0m-128 65h0m28 22h0m79 1h0m-23 18h0m-32 12h0m123-4h0m37 6h0m37 5h0m-219 22h0m98 2h0m24-11h0m68 0h0m-162 31h0m113-16h0m48 28h0m48-3h0m-301 18h0m88 1h0m19 10h0m14-10h0m99-2h0m13 6h0m21-2h0m23 11h0m-275 5h0m39 8h0m14 4h0m42 0h0m43 0h0m-71 12h0m31-1h0m22-7h0m20 20h0m-67 1h0m33 5h0m15 0h0m65 0h0m12-5h0m125 14h0m-212 6h0m-106 31h0m105 4h0m18-6h0m-11 36h0m283-3h0m-357 30h0m142-3h0m-71 23h0m94-7h0m82 26h0m-203 18h0m238-8h0m-121 19h0m-198 27h0m32-1h0m181 3h0m-178 12h0m57 4h0m24-5h0m152 11h0m27 3h0m21 4h0m236-7h0m-537 22h0m60-10h0m43 13h0m226-8h0m-244 13h0m219 16h0m67-16h0m-232 34h0m223 0h0m20-16h0m-120 40h0m414-2h0m2-2h0m-384 24h0m76-1h0m-350 5h0m21 8h0m-12 24h0m10-8h0m30 4h0m55 5h0m43-13h0m88 9h0m-34 21h0m609-11h0m-821 27h0m285 5h0m158-6h0m0 19h0m421-3h0m-897 16h0m805 5h0m4 8h0m-748 9h0m94 2h0m-92 25h0m94-3h0m320 10h0m372-2h0m-832 8h0m333 17h0m425-7h0m22-7h0m-713 20h0m145-6h0m256 9h0m12 4h0m174 1h0m-573 18h0m37 6h0m64-6h0m81 7h0m278-11h0m-437 18h0m33 9h0m179 0h0m3-4h0m197 1h0m31-1h0m34 1h0m40 7h0m178-8h0m-686 11h0m87 9h0m62-6h0m109 6h0m117-3h0m22 10h0m17-3h0m7 1h0m-449 12h0m7-1h0m62-5h0m32 5h0m50 12h0m13-6h0m0-11h0m163 13h0m202 1h0m25-3h0m158-9h0m101 9h0m-910 10h0m25 12h0m128-6h0m29 10h0m181 1h0m158-7h0m63-5h0m45 10h0m137 1h0m20-17h0m55 14h0m44-9h0m-875 18h0m532 7h0m6-12h0m50 1h0m237 10h0m-832 28h0m28-13h0m36 4h0m3-5h0m138 2h0m121 12h0m72-14h0m131 4h0m20 2h0m137 1h0m102-5h0m21-4h0m-623 27h0m67-2h0m10 6h0m367-11h0m-572 37h0m214-18h0m406 12h0m86 2h0m-727 13h0m74-6h0m342 10h0m-283 18h0m22 4h0m249-4h0m75-6h0m205 1h0m-670 31h0m647 39h0m65-2h0m6 0h0m-582 20h0m5 0h0m313 0h0m64-2h0m-518 27h0m481-8h0m45-10h0m-565 26h0m20 5h0m480-8h0m46 16h0m79-8h0m-602 14h0m25 10h0m410 2h0m111-8h0m-517 22h0m4 8h0m632-16h0m-628 20h0m492 8h0m30 1h0m5 19h0m9-5h0m-81 33h0m-393 75h0m27 0h0"/>
<path stroke="#16ffe9" d="M437 310h0m-128 12h0m132 6h0m-95 25h0m3-6h0m15 12h0m-52 14h0m140 28h0m-126 65h0m248-1h0m-258 19h0m311 14h0m19 10h0m4 8h0m-114 22h0m-11 28h0m133-5h0m-117 29h0m0-10h0m-21 41h0m11 6h0m-4 15h0m200 8h0m-230 15h0m117 14h0m-75 1h0m143 3h0m36 4h0m-230 28h0m296-4h0m-221 17h0m69 6h0m12 1h0m26-5h0m43-3h0m-125 31h0m15-10h0m9 11h0m116-7h0m100 7h0m-370 15h0m160-3h0m246 9h0m13-13h0m-112 26h0m-237 17h0m214-1h0m-28 25h0m315-7h0m-313 22h0m116 4h0m6-5h0m391 12h0m-787 18h0m198 2h0m4-20h0m218 5h0m62 1h0m109-6h0m-199 31h0m37 0h0m16-10h0m44 17h0m-347 18h0m18 0h0m100-6h0m167-5h0m23 4h0m118-3h0m252 12h0m-705 11h0m160-6h0m15-2h0m87 1h0m109 6h0m-337 43h0m66-3h0m356-6h0m-282 22h0m-336 47h0m72-2h0m-191 25h0m153-2h0m74 26h0m181 6h0m38 2h0m-8 42h0m25-3h0m-34 63h0m-85 27h0m3 2h0m-134 32h0m112-1h0m-120 19h0m97 3h0m143-8h0m27 1h0m306 12h0m-387 9h0m410 14h0m-595 7h0m380-1h0m135 10h0m-591 22h0m174-15h0m19 15h0m-134 9h0m48 3h0m47 6h0m75-3h0m7 3h0m5 1h0m-108 7h0m71 14h0m138-14h0m177 8h0m26 3h0m129-10h0m-712 25h0m134 1h0m14 4h0m53 4h0m33-15h0m-155 35h0m511-1h0m-548 4h0m5 9h0m75 5h0m86 2h0m31-10h0m50 4h0m-211 13h0m41 14h0m0-7h0m52 3h0m59-4h0m14 7h0m-315 6h0m132 13h0m152-9h0m-70 26h0m105 6h0m-106 22h0m23-20h0m33 35h0m26 0h0m-110 38h0m139-2h0m-44 12h0"/>
<path stroke="#26ffd9" d="M365 317h0m58-2h0m-88 20h0m49 0h0m-81 17h0m146-7h0m-88 21h0m10 11h0m94-16h0m-68 25h0m-112 47h0m21 2h0m-20 23h0m325 25h0m-312 41h0m338-1h0m-138 51h0m9-14h0m139 15h0m-177 35h0m39 0h0m1 13h0m42 5h0m-20 25h0m182-4h0m4 0h0m2 10h0m2-7h0m-101 27h0m-117 1h0m68 4h0m-313 33h0m412-5h0m26 3h0m-398 6h0m261 13h0m119-5h0m33 7h0m108-5h0m-217 13h0m56 2h0m39 13h0m124-17h0m-492 36h0m170-10h0m242-7h0m-200 20h0m101 2h0m114 4h0m39-3h0m66 2h0m6-1h0m4 8h0m-610 13h0m438 6h0m16 0h0m4-2h0m4-6h0m533-2h0m-997 26h0m498 9h0m36-12h0m8 9h0m40-4h0m267-8h0m-774 34h0m105-6h0m293 9h0m3-18h0m65 6h0m108 2h0m29-1h0m264 7h0m33 4h0m-854 2h0m516 0h0m14 10h0m29 1h0m-647 27h0m94-3h0m301 0h0m102 2h0m58-8h0m416 2h0m-755 24h0m58-8h0m281 4h0m32 6h0m15-13h0m35-1h0m88 1h0m4 7h0m-594 13h0m66 0h0m37 9h0m85 1h0m0-6h0m248-5h0m47 16h0m1-18h0m8 12h0m36 1h0m51-13h0m9 18h0m-149 15h0m75 2h0m32-9h0m19-5h0m32 7h0m-417 16h0m294 3h0m66 8h0m24 3h0m-541 20h0m116-9h0m43 1h0m180-11h0m187 0h0m-530 38h0m1-6h0m17 6h0m106-8h0m491 7h0m-674 11h0m44-6h0m205 2h0m318 4h0m82-7h0m257 3h0m-885 16h0m88 15h0m176-6h0m49 9h0m424 0h0m83-3h0m-579 22h0m43 0h0m15 1h0m83-12h0m442 0h0m-568 21h0m87 12h0m265-15h0m201 9h0m-899 24h0m667-9h0m168 10h0m173 0h0m-846 10h0m597 30h0m-384 12h0m236-4h0m102 20h0m-505 16h0m-128 23h0m65 10h0m165-14h0m2 14h0m-338 15h0m125-3h0m8 6h0m55-3h0m144-5h0m7-5h0m410 1h0m-494 26h0m334-7h0m168 5h0m31 9h0m-465 24h0m227-11h0m2 10h0m21-11h0m12 7h0m233-2h0m-716 15h0m23 11h0m35-8h0m30 0h0m97-5h0m3 5h0m308 7h0m127-4h0m-668 15h0m122-4h0m94 8h0m10 3h0m17-5h0m79 4h0m36 2h0m153-4h0m33 5h0m111-7h0m83-4h0m-814 16h0m69 1h0m37 4h0m175 7h0m6-10h0m7 9h0m42 4h0m155-9h0m92 6h0m229 6h0m-608 14h0m15-8h0m22 2h0m75 7h0m13-5h0m138-9h0m343 5h0m-738 18h0m137 14h0m6 1h0m13-8h0m15-4h0m56-7h0m5 17h0m34-12h0m151 6h0m125 8h0m71-6h0m-488 20h0m27-3h0m2 6h0m123-11h0m12 8h0m7 5h0m94 0h0m-189 11h0m5-6h0m19 15h0m30-1h0m26-14h0m-192 20h0m86 0h0m85 17h0m124-12h0m-409 24h0m88-11h0m16 7h0m72-3h0m6 4h0m29-1h0m183 11h0m44-5h0m69-7h0m-249 26h0m-268 24h0m7-7h0m199-6h0m52 12h0m164-12h0m-137 29h0m146 5h0m-221 7h0m12 3h0m16 6h0m9 6h0m28-16h0m12 5h0m28 8h0m-271 10h0m130 12h0m55-18h0m48 17h0m25-3h0m-10 8h0m16 2h0"/>
<path stroke="#00e5ff" d="M382 323h0m46 279h0m99 8h0m-27 23h0m37 2h0m9-1h0m84 89h0m-61 30h0m65-11h0m73 12h0m0 14h0m37 24h0m3 0h0m80 87h0m41-10h0m32 3h0m220 0h0m-268 52h0m-160 18h0m-242 370h0m112 50h0m-124 28h0m183 28h0m-8 7h0m11 3h0m-46 17h0m0 2h0m7-5h0m-110 46h0m-193 29h0"/>
<path stroke="#06fff9" d="M321 335h0m299 183h0m24 40h0m-140 21h0m56 14h0m80 18h0m68 1h0m-198 20h0m72 20h0m71-5h0m40 11h0m22 8h0m26-5h0m-18 26h0m-129 28h0m44 18h0m71-10h0m-72 35h0m6-5h0m-89 8h0m-32 50h0m250-9h0m25 17h0m-59 5h0m8 23h0m-290 32h0m497-7h0m196 2h0m-705 12h0m343 0h0m104 0h0m115 1h0m10 13h0m-164 10h0m34-5h0m-449 31h0m72-6h0m296-1h0m34 5h0m146 14h0m5 9h0m-436 20h0m428-6h0m2-9h0m47-1h0m-546 32h0m113-1h0m422 5h0m7 12h0m-160 15h0m117 18h0m-186 24h0m-142 16h0m59 3h0m-422 20h0m455 14h0m-298 142h0m296 14h0m342 13h0m-16 24h0m-493 17h0m-77 12h0m108 0h0m298 7h0m-296 31h0m7-5h0m335 5h0m-586 3h0m146 17h0m106-8h0m2 7h0m-80 2h0m19 16h0m39 3h0m5-18h0m5 12h0m-170 26h0m44-14h0m15-2h0m6 8h0m59-5h0m38 6h0m68-7h0m-43 17h0m-151 25h0m56-6h0m32 1h0m42 14h0m81 3h0m28 7h0m-220 21h0m24 4h0m17-9h0m37 3h0m118 6h0m37 8h0m-154 14h0m-21 31h0m3 6h0m9 8h0m28-11h0m34-7h0m-100 25h0"/>
<path stroke="#00c4ff" d="M334 342h0m-28 180h0m182 846h0m125 23h0m-138 35h0m148 0h0m-91 53h0m-4 14h0m-5 8h0m57 3h0"/>
<path stroke="#000080" d="M419 380h0m340 364h0m-435 734h0"/>
<path stroke="#fff500" d="M275 417h0m232-14h0m-174 101h0m97 44h0m21 7h0m5 143h0m-105 6h0m97 49h0m-165 193h0m762 59h0m-677 130h0m691-3h0m-394 96h0m359 139h0m-693 70h0"/>
<path stroke="#f9ff06" d="M468 407h0m38 13h0m-68 7h0m-148 68h0m176-9h0m9-3h0m-109 45h0m97 12h0m-153 113h0m305 0h0m-211 42h0m58 8h0m-3 19h0m-183 26h0m77 25h0m18-6h0m26 0h0m-44 30h0m116 1h0m99 19h0m66 8h0m-362 42h0m114 48h0m-50 96h0m380 11h0m-322 53h0m-101 5h0m123 29h0m28 41h0m87 9h0m12 0h0m-205 16h0m185-10h0m13-2h0m353 21h0m85 9h0m-396 61h0m233 120h0m-509 55h0m527-1h0m-487 30h0m511 22h0"/>
<path stroke="#0000c0" d="M334 418h0m-74 156h0m31 79h0m75 302h0m962 66h0m-847 451h0"/>
<path stroke="#ffd500" d="M502 439h0m-57 284h0"/>
<path stroke="#ff6300" d="M401 467h0m-87 133h0m-8 33h0m326 145h0m128 46h0m546 45h0m-1028 160h0m766 133h0"/>
<path stroke="#0053ff" d="M386 521h0m628 857h0"/>
<path stroke="#ffb400" d="M364 533h0"/>
<path stroke="#ff4300" d="M568 552h0m100 204h0m-53 6h0m126 9h0"/>
<path stroke="#ffa400" d="M308 579h0m-54 187h0"/>
<path stroke="#00d4ff" d="M517 611h0m166 66h0m27 2h0m301 653h0m-549 93h0m98 4h0m-10 52h0"/>
<path stroke="#f20" d="M614 614h0m724 382h0m-930 180h0"/>
<path stroke="#f30" d="M581 637h0m-41 8h0m-284 114h0m1073 130h0m-44 13h0m-381 57h0m171 171h0"/>
<path stroke="#00b4ff" d="M521 641h0m-8 36h0m603 162h0m-546 609h0"/>
<path stroke="#d00000" d="M535 650h0m50-8h0m21 10h0m49 100h0m607 49h0m-474 92h0m47 82h0m304 41h0"/>
<path stroke="#0000d0" d="M702 639h0m169 367h0m-437 425h0m18 30h0m81 33h0"/>
<path stroke="#0002ff" d="M587 725h0m112 785h0"/>
<path stroke="#0000f1" d="M271 787h0"/>
<path stroke="#ff5300" d="M894 784h0m-116 94h0m579 97h0m6 45h0m-9 66h0m-576 27h0m-108 120h0"/>
<path stroke="#0043ff" d="M1227 829h0m-645 58h0"/>
<path stroke="#ff9400" d="M761 892h0"/>
<path stroke="#0063ff" d="M283 546h0m701 397h0m-36 510h0m-404 51h0"/>
<path stroke="#0000b0" d="M398 946h0"/>
<path stroke="#ff7300" d="M740 949h0m345 200h0m-432 94h0"/>
<path stroke="#0073ff" d="M1258 956h0m-666 506h0"/>
<path stroke="#0012ff" d="M258 302h0m850 578h0m-99 130h0"/>
<path stroke="#f10000" d="M1268 805h0m-219 220h0m309 93h0m-472 323h0"/>
<path stroke="#900000" d="M1309 856h0m-268 276h0"/>
<path stroke="#02f" d="M467 1144h0m-36 291h0m25 44h0m-49 98h0"/>
<path stroke="#ff0200" d="M1322 877h0m-230 289h0"/>
<path stroke="#b00000" d="M681 1247h0"/>
<path stroke="#000090" d="M1091 1329h0m-607 159h0m-37 75h0"/>
<path stroke="#0000a0" d="M329 529h0m-73 11h0m877 311h0m-696 600h0"/>
<path stroke="#0084ff" d="M496 1481h0m2 5h0"/>
<path stroke="#0094ff" d="M299 1541h0"/>
<path stroke="#c00000" d="M256 568h0m989 226h0m95 143h0m25 125h0m-3 52h0"/>
<path stroke="#a00000" d="M1254 798h0m33 30h0"/>
<path stroke="#ff1200" d="M305 625h0m992 293h0m57 50h0m-468 473h0"/>
<path stroke="#ffc400" d="M1362 991h0"/>
<path stroke="#ff8400" d="M1048 1000h0m322 50h0"/>
<path stroke="#00a4ff" d="M262 298h0m508 572h0m332-5h0m128 55h0"/>
<path stroke="#03f" d="M330 609h0m756 235h0"/>
</g>
<path d="M366,436 L352,474 L343,513 L334,558 L326,615 L262,1174 L266,1191 L286,1231 L570,1605 L849,1552 L1308,1170 L1299,1054 L1241,878 L1232,862 L784,685 L642,394 L633,378 L596,359 L469,343 L462,345 L366,436" fill="none" stroke="#000" stroke-width="4.6" stroke-dasharray="18,19"/>
<circle cx="465" cy="501" r="18.3" fill="none" stroke="#000" stroke-width="11.8"/>
<circle cx="542" cy="644.5" r="18.3" fill="none" stroke="#000" stroke-width="11.8"/>
<circle cx="652" cy="748" r="18.3" fill="none" stroke="#000" stroke-width="11.8"/>
<circle cx="256" cy="759.5" r="18.3" fill="none" stroke="#000" stroke-width="11.8"/>
<circle cx="515" cy="906" r="18.3" fill="none" stroke="#000" stroke-width="11.8"/>
<circle cx="773.4" cy="875" r="18.3" fill="none" stroke="#000" stroke-width="11.8"/>
<circle cx="674.8" cy="1059.5" r="18.3" fill="none" stroke="#000" stroke-width="11.8"/>
<circle cx="1043.3" cy="1004" r="18.3" fill="none" stroke="#000" stroke-width="11.8"/>
<circle cx="1071.3" cy="1134" r="18.3" fill="none" stroke="#000" stroke-width="11.8"/>
<circle cx="669.8" cy="1232.7" r="18.3" fill="none" stroke="#000" stroke-width="11.8"/>
<path d="M703.0,699.0 L705.0,677.0 L695.0,677.0 L697.0,699.0ZM701.5,696.4 L683.4,683.7 L678.4,692.3 L698.5,701.6ZM698.5,696.4 L678.4,705.7 L683.4,714.3 L701.5,701.6ZM697.0,699.0 L695.0,721.0 L705.0,721.0 L703.0,699.0ZM698.5,701.6 L716.6,714.3 L721.6,705.7 L701.5,696.4ZM701.5,701.6 L721.6,692.3 L716.6,683.7 L698.5,696.4Z" fill="#000" stroke="#000" stroke-width="1.6" stroke-linejoin="round"/>
<circle cx="700" cy="699" r="5" fill="#000"/>
<text class="s" x="64" y="137.5" font-size="93">A)</text>
<text class="t" x="816" y="62" font-size="57" text-anchor="middle">M3C2 [mm]</text>
<text class="t" x="416.7" y="135" font-size="57" text-anchor="middle">-50</text>
<text class="t" x="816.0" y="135" font-size="57" text-anchor="middle">0</text>
<text class="t" x="1215.3" y="135" font-size="57" text-anchor="middle">50</text>
<rect x="257" y="165" width="1118" height="40" fill="url(#jet)" stroke="#262626" stroke-width="1.3"/>
<path d="M416.7 165v12M816 165v12M1215.3 165v12" stroke="#262626" stroke-width="1.5"/>
<text class="t" x="239.5" y="1631.8" font-size="64" text-anchor="end">980</text>
<text class="t" x="239.5" y="1408.0" font-size="64" text-anchor="end">1000</text>
<text class="t" x="239.5" y="1184.1" font-size="64" text-anchor="end">1020</text>
<text class="t" x="239.5" y="960.3" font-size="64" text-anchor="end">1040</text>
<text class="t" x="239.5" y="736.5" font-size="64" text-anchor="end">1060</text>
<text class="t" x="239.5" y="512.6" font-size="64" text-anchor="end">1080</text>
<text class="t" x="239.5" y="288.8" font-size="64" text-anchor="end">1100</text>
<text class="t" x="255.0" y="1688" font-size="64" text-anchor="middle">1060</text>
<text class="t" x="479.0" y="1688" font-size="64" text-anchor="middle">1080</text>
<text class="t" x="703.0" y="1688" font-size="64" text-anchor="middle">1100</text>
<text class="t" x="927.0" y="1688" font-size="64" text-anchor="middle">1120</text>
<text class="t" x="1151.0" y="1688" font-size="64" text-anchor="middle">1140</text>
<text class="t" x="1375.0" y="1688" font-size="64" text-anchor="middle">1160</text>
<text class="t" x="815" y="1774" font-size="69" text-anchor="middle">x-axis [m]</text>
<text class="t" transform="translate(76,937) rotate(-90)" font-size="68.5" text-anchor="middle">y-axis [m]</text>
<line x1="524.0" y1="2174" x2="524.0" y2="3132" stroke="#e3e3e3" stroke-width="1.5"/>
<line x1="806.0" y1="2174" x2="806.0" y2="3132" stroke="#e3e3e3" stroke-width="1.5"/>
<line x1="1088.0" y1="2174" x2="1088.0" y2="3132" stroke="#e3e3e3" stroke-width="1.5"/>
<line x1="242" y1="2456.0" x2="1370" y2="2456.0" stroke="#e3e3e3" stroke-width="1.5"/>
<line x1="242" y1="2738.0" x2="1370" y2="2738.0" stroke="#e3e3e3" stroke-width="1.5"/>
<line x1="242" y1="3020.0" x2="1370" y2="3020.0" stroke="#e3e3e3" stroke-width="1.5"/>
<rect x="242" y="2174" width="1128" height="958" fill="none" stroke="#8a8a8a" stroke-width="1.8"/>
<path d="M242.0 3132v-13M242.0 2174v13M524.0 3132v-13M524.0 2174v13M806.0 3132v-13M806.0 2174v13M1088.0 3132v-13M1088.0 2174v13M1370.0 3132v-13M1370.0 2174v13M242 2174.0h13M1370 2174.0h-13M242 2456.0h13M1370 2456.0h-13M242 2738.0h13M1370 2738.0h-13M242 3020.0h13M1370 3020.0h-13" stroke="#555" stroke-width="1.6" fill="none"/>
<g fill="none" stroke-linecap="round" stroke-width="26">
<path stroke="#c0d934" d="M550 2178h0m543 21h0m-435 54h0m-261 15h0m9 11h0m106 3h0m761 18h0m-967 237h0m87 64h0m834 31h0m-739 132h0m24 14h0m588-9h0m-176 55h0m1 16h0m-584 7h0m456-5h0m336 22h0m-703 32h0m231-5h0m193 0h0m-17 25h0m254-9h0m143 3h0m-982 10h0m540 35h0m-274 10h0m-92 47h0m-104 47h0m166 18h0m332 4h0"/>
<path stroke="#f69e1c" d="M356 2449h0m646 419h0m-46 79h0"/>
<path stroke="#94ca76" d="M1340 2191h0m-536 17h0m-403 25h0m459-11h0m368 11h0m-336 11h0m432 9h0m-997 8h0m333 58h0m571 1h0m-407 46h0m244-2h0m-812 30h0m23 6h0m785 17h0m102 11h0m-818 15h0m48 30h0m274-4h0m-409 79h0m384 15h0m32 20h0m-81 29h0m28-9h0m-200 22h0m186 0h0m120-1h0m318 25h0m9 0h0m-526 28h0m37-12h0m191 19h0m559 64h0m-1032 49h0m458-3h0m470-8h0m-484 28h0m115-2h0m287 5h0m-732 33h0m155 10h0m-143 27h0m66 28h0m205 1h0m22 29h0m605 29h0m-947 28h0m326 55h0m32-16h0m615 38h0m-310 29h0m-727 14h0m638 7h0m395-1h0"/>
<path stroke="#9ccb6a" d="M274 2217h0m382-14h0m-191 54h0m455-4h0m-225 38h0m-312 27h0m51-2h0m-173 24h0m158-11h0m327-5h0m320 6h0m-529 20h0m593 20h0m-643 25h0m-10 75h0m-110 69h0m-123 8h0m893 23h0m26 16h0m-577 48h0m-133 10h0m180 18h0m644 28h0m-972 16h0m437 56h0m289 1h0m-694 31h0m40 25h0m766 20h0m-737 48h0m28 6h0m122 4h0m102-5h0m696-1h0m-141 18h0m-641 13h0m62 16h0m25 1h0m-286 38h0m143 13h0m247-8h0m-118 22h0m-335 35h0m296 19h0m-12 17h0m-173 12h0m101 21h0m607 2h0"/>
<path stroke="#8dc982" d="M954 2181h0m294 50h0m19 58h0m-432 29h0m-26 11h0m255-2h0m22 47h0m134 0h0m-435 8h0m382 19h0m-806 33h0m67 4h0m886 11h0m-106 21h0m-948 106h0m204 3h0m192-8h0m-43 19h0m-310 47h0m1 64h0m588 9h0m-48 34h0m-196 28h0m-299 10h0m367 4h0m527 6h0m-824 22h0m-130 38h0m95 30h0m45 6h0m20 11h0m-146 11h0m475 27h0m-454 29h0m174-1h0m-142 62h0m87 26h0m-67 17h0m34 23h0m204-3h0m-315 21h0m638-10h0m316 21h0"/>
<path stroke="#c82128" d="M609 2261h0m411 538h0"/>
<path stroke="#a9d050" d="M1128 2191h0m-802 35h0m259 31h0m458-5h0m-739 16h0m138 27h0m-2 25h0m617 8h0m154 10h0m-721 14h0m430 67h0m171 11h0m-501 144h0m622 6h0m-783 9h0m108 28h0m86 10h0m345 68h0m67 23h0m-15 19h0m-577 5h0m451 94h0m-214 15h0m414-11h0m-672 38h0m160-10h0m410 14h0m-481 21h0m538 7h0m-518 24h0m435 9h0m-451 27h0m-35 63h0m-194 13h0m506 36h0m-236 22h0m392 4h0m-653 15h0"/>
<path stroke="#b4d442" d="M693 2254h0m-191 43h0m-3 13h0m13 28h0m769-17h0m-944 125h0m983 2h0m-83 17h0m-248 149h0m-80 18h0m303-10h0m-669 63h0m-280 17h0m692-1h0m210 25h0m13 91h0m9 68h0m-402 33h0m337 24h0m115 2h0m-574 70h0m107-4h0m283-1h0m-491 47h0m465 49h0"/>
<path stroke="#77c8b0" d="M907 2198h0m39-17h0m282 29h0m-268 20h0m-200 22h0m283-6h0m173 15h0m-583 45h0m230 14h0m-612 7h0m657 11h0m-572 5h0m208 8h0m433 35h0m-54 33h0m-121 28h0m-379 41h0m932-3h0m-846 18h0m533 15h0m-720 2h0m35 2h0m696 34h0m-50 28h0m-250 38h0m-309 21h0m818 30h0m-554 62h0m-64 19h0m12 21h0m64-4h0m161 1h0m485-3h0m-714 35h0m-372 38h0m935 14h0m82 1h0m42 29h0m-1029 106h0m121 37h0m272 15h0m-365 54h0m782-15h0"/>
<path stroke="#cbdc2b" d="M1328 2257h0m-7 24h0m-740 42h0m556 45h0m-758 70h0m-24 59h0m956-7h0m-664 117h0m-207 54h0m511 0h0m107 79h0m-708 1h0m561 56h0m85 16h0m-54 17h0m196 50h0m-19 1h0m-538 58h0m170 1h0m232 12h0m-567 36h0m166 11h0m30 25h0m328 6h0m-412 51h0m341 46h0"/>
<path stroke="#7bc8a3" d="M943 2204h0m169 8h0m39 25h0m-450 25h0m285 13h0m-219 8h0m387 1h0m-603 29h0m460 1h0m-286 7h0m230 18h0m-100 17h0m-571 20h0m228 15h0m395 2h0m26-7h0m-628 48h0m1031 36h0m-1077 42h0m220-8h0m132 7h0m150 0h0m283-7h0m-549 43h0m172 64h0m144 23h0m-393 18h0m419 5h0m490-3h0m-969 31h0m270 21h0m47 50h0m-288 180h0m870 2h0m93-16h0m-32 20h0m-1065 21h0m780 35h0m-753 27h0m756 14h0m-607 22h0m36 15h0m177-5h0"/>
<path stroke="#d4df25" d="M269 2183h0m329 3h0m-126 38h0m749 27h0m-793 17h0m686 111h0m-680 6h0m-14 45h0m15 27h0m492 280h0m-10 42h0m97-19h0m84 24h0m-743 150h0m96-10h0m134 3h0m48 36h0m22 71h0"/>
<path stroke="#80c898" d="M865 2193h0m28-5h0m438 1h0m-345 18h0m-289 26h0m97-6h0m101 10h0m49 15h0m-659 11h0m685 19h0m-679 59h0m801 76h0m-762 50h0m16 70h0m788-16h0m-557 79h0m-234 12h0m236-5h0m368-3h0m357 67h0m-658 65h0m180 43h0m-228 17h0m143-6h0m19 14h0m-298 53h0m30 8h0m871 17h0m-704 34h0m503 20h0m-828 56h0m-74 9h0m55 27h0m826 22h0m-574 21h0m209 29h0m354 17h0m-581 11h0"/>
<path stroke="#a2cd5d" d="M908 2185h0m-566 55h0m27-3h0m42-8h0m-27 26h0m-33 37h0m5 7h0m723-2h0m-397 21h0m-335 10h0m105 109h0m-208 14h0m150 5h0m-32 17h0m1 29h0m65 5h0m-104 38h0m220 37h0m-267 38h0m422 23h0m356 23h0m170-3h0m-846 31h0m80 44h0m192 1h0m-245 5h0m838 4h0m-709 52h0m-187 71h0m281 11h0m55 7h0m420-4h0m-693 37h0m73 7h0m163-3h0m100-3h0m-274 76h0m411-2h0m-342 92h0m807 30h0"/>
<path stroke="#dee220" d="M438 2197h0m75 55h0m786 237h0m-310 194h0m-66 72h0m35 55h0m-348 33h0m554 44h0m-309 78h0m-393 142h0m30-2h0"/>
<path stroke="#ee3124" d="M337 2184h0m846 491h0"/>
<path stroke="#73c8bd" d="M788 2187h0m208 24h0m184-2h0m-425 24h0m265 30h0m-251 44h0m-242 36h0m201 36h0m373-16h0m-606 34h0m528-14h0m-262 44h0m579 5h0m-445 15h0m-218 16h0m246-2h0m-385 74h0m-192 15h0m-1 23h0m448 2h0m-315 28h0m545 13h0m20-7h0m-746 44h0m82-6h0m331 46h0m637 5h0m-676 72h0m666 76h0m-748 32h0m709 1h0m-930 24h0m-84 143h0m344 25h0m427 49h0"/>
<path stroke="#72cac9" d="M707 2223h0m39 8h0m-6 49h0m-480 39h0m423 93h0m-431 14h0m532-4h0m202 29h0m-63 34h0m16 3h0m-348 37h0m497 36h0m-182 52h0m-168 80h0m-486 27h0m563 59h0m-361 31h0m911 132h0m-886 75h0"/>
<path stroke="#86c98e" d="M803 2191h0m-311 27h0m358-1h0m-533 18h0m9-13h0m399 67h0m315 21h0m22 3h0m5 5h0m245 28h0m-157 31h0m-502 29h0m428-1h0m176 23h0m-111 38h0m-50 39h0m271 19h0m-1027 26h0m-66 47h0m408 14h0m-37 68h0m433-12h0m-12 18h0m-261 67h0m25 26h0m-558 77h0m385-7h0m109 30h0m-187 25h0m-296 105h0m-38 15h0m91 32h0m11-13h0m374 33h0m457-8h0m-856 29h0"/>
<path stroke="#3aa9de" d="M862 2497h0m-156 4h0"/>
<path stroke="#72ccd3" d="M926 2237h0m3 68h0m9 44h0m-239 22h0m173 14h0m-258 52h0m406 12h0m-394 17h0m328 3h0m-368 41h0m222 8h0m285 27h0m-83 46h0m-735 93h0m1041 89h0m-981 297h0m260-1h0m448 40h0"/>
<path stroke="#b71f26" d="M1176 2626h0"/>
<path stroke="#f0e81a" d="M1060 2863h0m-363 129h0m431 22h0"/>
<path stroke="#fcd40d" d="M858 2870h0"/>
<path stroke="#f26e24" d="M1109 2731h0m33-4h0m-91 19h0m-141 172h0"/>
<path stroke="#f8ad17" d="M898 2933h0"/>
<path stroke="#70cbd6" d="M952 2350h0m-231 35h0m134 31h0m346 0h0m-496 55h0m-36 13h0m169 58h0m-585 317h0"/>
<path stroke="#5ac9e3" d="M929 2375h0m3-10h0m96 57h0m-181 113h0"/>
<path stroke="#f6eb1b" d="M959 2894h0m-33 18h0m18 1h0m-339 53h0"/>
<path stroke="#437cc0" d="M1014 2185h0m-279 170h0m77 111h0"/>
<path stroke="#eee61a" d="M476 2315h0m705 181h0m-312 362h0m102 109h0"/>
<path stroke="#3f69b2" d="M856 2179h0"/>
<path stroke="#4ac7e9" d="M937 2218h0m-291 220h0m275 51h0m-9 28h0m108 36h0"/>
<path stroke="#e8e41c" d="M498 2225h0m754 276h0m-15 222h0m29 54h0m-237 10h0m-16 32h0m175 104h0m-725 200h0"/>
<path stroke="#67cadc" d="M721 2378h0m92 68h0m197-4h0m-214 48h0m16 49h0m-139 274h0m-413 60h0"/>
<path stroke="#fae011" d="M945 2973h0"/>
<path stroke="#2c308e" d="M480 2532h0"/>
<path stroke="#ef4726" d="M1221 2627h0m-82 90h0"/>
<path stroke="#f04f26" d="M1092 2690h0m29 93h0m-293 173h0m-6 75h0"/>
<path stroke="#e81d24" d="M1118 2672h0"/>
<path stroke="#7a1a17" d="M1173 2588h0"/>
<path stroke="#f48720" d="M314 2200h0"/>
<path stroke="#fcc712" d="M575 2940h0m318 25h0"/>
<path stroke="#f16026" d="M1077 2775h0m44 15h0"/>
<path stroke="#38c6ee" d="M1031 2421h0"/>
<path stroke="#3953a4" d="M662 2496h0"/>
<path stroke="#418aca" d="M928 2577h0"/>
<path stroke="#db1f26" d="M570 2251h0"/>
<path stroke="#fbbb14" d="M752 2455h0"/>
<path stroke="#a41d23" d="M1264 2562h0m-190 102h0m-4 137h0"/>
<path stroke="#35bbe9" d="M821 2511h0m-54 23h0"/>
<path stroke="#ed2824" d="M1322 2244h0"/>
<path stroke="#72cac9" d="M781 2239h0m225-9h0m-34 11h0m-45 66h0m-3 77h0m106 40h0m-483 60h0m-257 54h0m325 11h0m425-5h0m-74 48h0m-115 24h0m-8 85h0m-172 19h0m-349 99h0m465 0h0m-449 47h0m356 13h0m-45 51h0m-259 99h0m237 56h0m-261 25h0"/>
<path stroke="#8dc982" d="M328 2215h0m854 2h0m-743 13h0m923-10h0m-5 39h0m-260 8h0m140 47h0m-929 64h0m447 28h0m-441 26h0m-70 75h0m224 4h0m155 2h0m-145 34h0m-81 82h0m68 22h0m436-10h0m-52 21h0m-16 19h0m-225 57h0m-254 28h0m131 139h0m-159 51h0m447 0h0m382 15h0m42 23h0m-39 29h0m-750 23h0m875 1h0m58 10h0m-386 39h0m96 20h0m-582 8h0m217 1h0"/>
<path stroke="#9ccb6a" d="M293 2217h0m999-11h0m71 1h0m-1117 42h0m221-3h0m145 6h0m704 48h0m-183 32h0m-602 36h0m687 4h0m-33 88h0m-747 3h0m925 13h0m-214 21h0m-618 103h0m782-3h0m-348 4h0m-469 23h0m220 16h0m-245 10h0m-192 21h0m160 2h0m891 1h0m-1013 20h0m187-1h0m95 6h0m-136 16h0m831-10h0m-587 29h0m468-10h0m36 8h0m-682 37h0m-68 47h0m107-4h0m188-9h0m455 1h0m142 12h0m-922 29h0m3 14h0m220-11h0m410 6h0m136 2h0m-888 52h0m236 2h0m-284 40h0m599 10h0m323-3h0m-899 12h0m386 11h0m225 16h0m-591 21h0m290 0h0m217 62h0m-504 22h0"/>
<path stroke="#a2cd5d" d="M617 2178h0m640 17h0m24 18h0m-840 24h0m-182 6h0m302 42h0m-113 35h0m105 5h0m-187 21h0m232 24h0m598 95h0m-1 52h0m-88 14h0m-632 47h0m690-11h0m-872 18h0m273 11h0m696 71h0m92 7h0m-109 43h0m-242 15h0m-604 23h0m312 4h0m564-13h0m-906 81h0m249 4h0m414-10h0m174 11h0m-835 14h0m91 24h0m75-7h0m321 9h0m-519 48h0m119 2h0m47 29h0m242 2h0m-323 19h0m68-11h0m709 29h0m-917 30h0m-9 13h0m697-5h0m-551 33h0m428 36h0m68 21h0m154-5h0"/>
<path stroke="#b4d442" d="M1050 2183h0m-427 36h0m-180 16h0m-198 29h0m447 13h0m-64 33h0m-302 41h0m287 4h0m542 1h0m-15 16h0m61 1h0m-779 79h0m5-3h0m-110 65h0m998-5h0m-882 30h0m931 116h0m-389 28h0m223 12h0m22 26h0m2 3h0m-234 52h0m-698 63h0m216 11h0m130 41h0m191-7h0m-41 42h0m-513 16h0m209 17h0m290-7h0m-251 19h0m5 17h0m210-6h0m203 14h0m-507 34h0m66 1h0m475 36h0m-425 26h0m416-9h0"/>
<path stroke="#94ca76" d="M593 2198h0m700-7h0m-66 11h0m30 34h0m-968 55h0m843 1h0m-505 18h0m57 8h0m-234 44h0m724 16h0m-17 6h0m-844 29h0m8 67h0m836 30h0m-827 16h0m811 3h0m16 50h0m-483 15h0m-28 12h0m626-5h0m-877 52h0m176-10h0m-145 25h0m187 3h0m66 1h0m681-10h0m-657 22h0m38 4h0m184 2h0m339 0h0m-538 18h0m18-8h0m549 7h0m-916 47h0m164 5h0m279-7h0m-227 13h0m255 8h0m-567 10h0m523 9h0m-446 27h0m-85 97h0m108-8h0m193-6h0m127 6h0m-441 19h0m91-2h0m258 2h0m659 5h0m-517 55h0m427 30h0m10-4h0m-45 37h0m149-4h0m-973 22h0m884-7h0m-807 33h0m18 2h0m-164 20h0m334-5h0m189 1h0m96-12h0"/>
<path stroke="#70cbd6" d="M1054 2178h0m-305 34h0m404 12h0m-323 45h0m-157 104h0m329 2h0m-354 59h0m126 7h0m-49 55h0m-129 6h0m16 6h0m-333 244h0m532-6h0m405 381h0"/>
<path stroke="#c0d934" d="M789 2197h0m499 4h0m-820 20h0m27 12h0m11 64h0m119-16h0m484 11h0m244-11h0m-56 111h0m-68 96h0m88-5h0m-877 149h0m85 26h0m143-16h0m574 14h0m-14 143h0m-93 35h0m-356 45h0m331-1h0m-327 25h0m-349 38h0m89 7h0m461 4h0m193 6h0m-708 12h0m-17 11h0m433 40h0m52 107h0"/>
<path stroke="#86c98e" d="M958 2179h0m-645 7h0m35 8h0m660-13h0m154 42h0m-168 57h0m2-12h0m135-7h0m72 9h0m-949 16h0m664 31h0m-608 18h0m145-3h0m125 45h0m-131 20h0m421 20h0m206-10h0m84 8h0m192-14h0m-1054 27h0m600 9h0m240-6h0m-719 15h0m207 11h0m-253 10h0m172 45h0m82-8h0m718 18h0m-964 18h0m68 17h0m265 23h0m365-3h0m-809 27h0m151 45h0m-130 27h0m806-13h0m-74 19h0m-222 27h0m-483 19h0m904 16h0m-776 35h0m770-2h0m-493 14h0m508 22h0m126-1h0m2-4h0m-793 45h0m60 8h0m-160 21h0m203 16h0m552 3h0m-899 31h0m228-4h0m-252 38h0m-46 18h0m266 20h0m850 4h0m-1104 32h0m148-12h0m790 41h0m-613 14h0m180 22h0m152 2h0m-556 22h0"/>
<path stroke="#73c8bd" d="M908 2234h0m-119 45h0m195 1h0m77 71h0m-546 29h0m82 58h0m456-12h0m-149 36h0m-72 82h0m38-2h0m100 16h0m-690 21h0m3-12h0m773 60h0m36-2h0m-528 61h0m14 16h0m786 8h0m-532 20h0m13 33h0m-480 36h0m863 86h0m-885 94h0m-39 79h0m332-2h0m-384 18h0m93 11h0"/>
<path stroke="#f0e81a" d="M586 2191h0m358 636h0m190 50h0m-291 12h0m36 21h0m-263 45h0m-43 25h0"/>
<path stroke="#77c8b0" d="M816 2219h0m220 12h0m49 3h0m263 99h0m-781 25h0m314-15h0m152 16h0m-91 2h0m-130 33h0m-283 25h0m14 0h0m-49 5h0m475 13h0m67 37h0m-594 31h0m114 30h0m159-12h0m437 28h0m-684 41h0m314 19h0m-373 140h0m354 7h0m458 15h0m-972 15h0m967 12h0m74 41h0m-841 30h0m258 98h0m321 44h0m-202 58h0m293 2h0m-837 20h0m590-3h0m450 12h0"/>
<path stroke="#7bc8a3" d="M1065 2198h0m200 8h0m-187 33h0m-832 3h0m660 3h0m3 23h0m251 36h0m-888 32h0m599-14h0m-298 27h0m103 4h0m196 26h0m-10 22h0m452 3h0m-695 62h0m425 7h0m-358 12h0m-186 29h0m73 16h0m-316 26h0m789-13h0m-741 56h0m149-1h0m531-7h0m120 31h0m-393 55h0m-129 38h0m-133 79h0m877-12h0m-755 76h0m-232 9h0m253 9h0m-239 65h0m992 25h0m-54 23h0m39 15h0m-316 93h0"/>
<path stroke="#a9d050" d="M977 2194h0m301 13h0m-966 15h0m8 12h0m123 33h0m424 7h0m58-6h0m-309 19h0m-102 29h0m548 7h0m-614 56h0m-35 111h0m718 10h0m-771 4h0m-48 46h0m375 24h0m442 3h0m-647 28h0m753-1h0m-668 32h0m707 35h0m-269 10h0m-645 33h0m553-8h0m149 6h0m-154 25h0m-548 11h0m597 15h0m-125 49h0m-101 26h0m21 5h0m-317 47h0m434 8h0m141 16h0m-541 8h0m229 10h0m181 16h0m-264 54h0m81 6h0m294 14h0m-309 18h0m192 9h0m-37 27h0m-297 25h0m136 2h0m659 25h0"/>
<path stroke="#80c898" d="M416 2211h0m301 41h0m363 21h0m-769 18h0m1055-9h0m-611 43h0m-228 33h0m-253 5h0m449 0h0m-419 58h0m120 51h0m-80 93h0m-77 16h0m214 12h0m211-7h0m-302 48h0m-10 16h0m82 41h0m13 51h0m48 24h0m-27 30h0m21 1h0m46 11h0m-121 16h0m255 1h0m-289 62h0m280 88h0m653 31h0m-979 17h0m-51 26h0m860 24h0m135 3h0m-185 36h0m181-10h0m44 14h0"/>
<path stroke="#cbdc2b" d="M465 2186h0m11 156h0m-94 60h0m-7 39h0m45 161h0m-92 24h0m316 4h0m581 6h0m-133 19h0m-62 13h0m-85 161h0m-233 37h0m418-2h0m-162 36h0m-161 53h0m-225 24h0m590 59h0m-456 73h0"/>
<path stroke="#eee61a" d="M944 2815h0m165 15h0m-77 37h0m-227 37h0m166 10h0m-186 129h0"/>
<path stroke="#72ccd3" d="M873 2240h0m-533 28h0m384 124h0m232 62h0m-33 94h0m72 6h0m-541 33h0m566 19h0m-145 24h0m38 22h0m-148 46h0m-120 7h0m164 50h0m513 142h0"/>
<path stroke="#33409c" d="M1143 2392h0"/>
<path stroke="#d12027" d="M410 2435h0"/>
<path stroke="#e8e41c" d="M1016 2689h0m63 193h0m-125 46h0m-466 69h0m216-8h0m123 0h0"/>
<path stroke="#ee3124" d="M889 2695h0m194 13h0"/>
<path stroke="#f3e91b" d="M841 2891h0m50 10h0m83 24h0m-28 33h0m-114 76h0"/>
<path stroke="#dee220" d="M337 2516h0m590 199h0m24 4h0m169 53h0m-622 17h0m740 29h0m-170 6h0m-782 76h0m41 29h0m406-6h0m156 72h0m-166 102h0m290 11h0"/>
<path stroke="#d4df25" d="M513 2227h0m22 85h0m9 42h0m63-13h0m680 146h0m-902 22h0m954 48h0m-399 124h0m-695 90h0m700 27h0m219-15h0m-214 90h0m-89 45h0m-414 39h0m375 15h0m67 18h0m422 77h0"/>
<path stroke="#e21e25" d="M329 2230h0m327 265h0"/>
<path stroke="#e81d24" d="M1165 2633h0m-1 158h0"/>
<path stroke="#f6eb1b" d="M1014 2821h0m27 13h0"/>
<path stroke="#67cadc" d="M983 2312h0m-310 259h0m127 19h0m292 489h0"/>
<path stroke="#ed2824" d="M1092 2656h0"/>
<path stroke="#5ac9e3" d="M1069 2354h0m-234 70h0m187 18h0m-194 104h0m167 14h0m9-19h0"/>
<path stroke="#f5921f" d="M760 3034h0"/>
<path stroke="#f26e24" d="M432 2206h0m687 429h0m-12 154h0"/>
<path stroke="#7a1a17" d="M1125 2650h0m57 23h0"/>
<path stroke="#38c6ee" d="M656 2514h0m152-13h0m2 49h0"/>
<path stroke="#4ac7e9" d="M700 2345h0m208 154h0m-33 10h0m139 31h0m-122 1h0m-312 582h0"/>
<path stroke="#3aa9de" d="M828 2583h0"/>
<path stroke="#f8ad17" d="M1008 2676h0"/>
<path stroke="#fae011" d="M999 2724h0"/>
<path stroke="#f48720" d="M946 2889h0"/>
<path stroke="#931b1f" d="M1149 2580h0m-61 147h0m-42 19h0"/>
<path stroke="#fbbb14" d="M453 2945h0"/>
<path stroke="#3545a0" d="M1359 2515h0"/>
<path stroke="#f37b21" d="M582 2189h0"/>
<path stroke="#a41d23" d="M1079 2763h0"/>
<path stroke="#f05727" d="M1258 2611h0m-97 59h0"/>
<path stroke="#437cc0" d="M859 2914h0"/>
<path stroke="#2c308c" d="M672 2524h0"/>
<path stroke="#2d3190" d="M856 2440h0"/>
<path stroke="#f16026" d="M1137 2655h0"/>
<path stroke="#3a54a4" d="M809 2544h0"/>
<path stroke="#db1f26" d="M1181 2582h0"/>
<path stroke="#3b56a5" d="M952 2426h0"/>
<path stroke="#94ca76" d="M335 2179h0m822 5h0m-62 19h0m-332 27h0m266 1h0m225 22h0m-9 56h0m-242 23h0m193 38h0m54 0h0m-747 54h0m190 7h0m-168 10h0m70 5h0m507 6h0m-685 43h0m525 110h0m331 18h0m-566 33h0m-159 18h0m413-6h0m5 14h0m309 15h0m-39 3h0m-688 51h0m-261 19h0m593 10h0m-399 4h0m-152 65h0m779 29h0m-352 60h0m9-3h0m-284 5h0m-46 83h0m31-2h0m55 17h0m18-10h0m11 26h0m720 2h0m0 40h0m-635 18h0m212 2h0m-390 8h0"/>
<path stroke="#dee220" d="M1275 2532h0m39 11h0m-365 249h0m232 10h0m-345 46h0m-58 45h0m130 22h0m64 24h0m54 19h0m-435 11h0m187 3h0"/>
<path stroke="#a2cd5d" d="M648 2183h0m586 16h0m-185 21h0m-349 2h0m415 37h0m-767 57h0m638-6h0m-390 29h0m176-10h0m452 13h0m-46 51h0m50-3h0m-748 54h0m708 33h0m-882 19h0m1035 35h0m-1017 13h0m913 10h0m60 33h0m10 8h0m-802 37h0m196 36h0m-228 31h0m545-15h0m-51 54h0m265 12h0m-726 21h0m643 7h0m-721 19h0m70-15h0m297 1h0m-283 56h0m28 95h0m5-13h0m570 40h0m-301 20h0m-361 37h0m685-12h0m-23 14h0m-534 26h0m325-3h0m-377 23h0m459-1h0m242 8h0m-963 9h0m645 9h0m306 9h0m-707 10h0m347 12h0"/>
<path stroke="#7bc8a3" d="M645 2282h0m9 21h0m107 13h0m-75 66h0m4 17h0m532 4h0m-606 22h0m416 44h0m97-1h0m-512 51h0m646-16h0m-490 32h0m-242 30h0m-183 94h0m531-16h0m-426 96h0m239 46h0m-344 76h0m931 8h0m-1011 28h0m70 19h0m-17 15h0m205 97h0m-151 34h0m89 37h0m200 2h0m-388 22h0"/>
<path stroke="#c82128" d="M1152 2650h0"/>
<path stroke="#86c98e" d="M312 2187h0m210 4h0m393-5h0m17-3h0m-666 23h0m204 6h0m646-12h0m-90 39h0m305-9h0m-427 14h0m36 34h0m212-3h0m-185 7h0m33-1h0m281 9h0m11 26h0m-90 18h0m-477 9h0m104 1h0m467 32h0m-1016 6h0m63 16h0m-6 17h0m992-10h0m-242 25h0m121-4h0m159-5h0m-677 21h0m-223 52h0m579-4h0m-347 11h0m-212 19h0m673 30h0m-137 19h0m-538 24h0m-240 25h0m814-14h0m270 69h0m-1019 45h0m98-2h0m-137 9h0m552 17h0m-15 32h0m471-11h0m13 15h0m-777 34h0m215-10h0m-433 20h0m944 17h0m-633 41h0m-253 3h0m60 17h0m897-6h0m-988 50h0m50 0h0m49 91h0m49 21h0m64-6h0m109 25h0m633 24h0m-507 15h0m-306 13h0"/>
<path stroke="#77c8b0" d="M777 2183h0m-79 23h0m67 163h0m-145 49h0m598-7h0m-560 22h0m355-6h0m307 42h0m-773 31h0m-299 29h0m287 18h0m-284 28h0m47 106h0m88 36h0m382 17h0m-182 153h0m121 5h0m522 15h0m125 87h0m-981 38h0m70-9h0m-66 77h0m1-6h0"/>
<path stroke="#67cadc" d="M770 2470h0m-16 16h0m188 5h0m-133 29h0m147-7h0m-159 16h0m34-1h0m42 18h0m-6 71h0m-177 139h0m547 175h0"/>
<path stroke="#9ccb6a" d="M351 2232h0m874 2h0m-597 10h0m-272 26h0m116 67h0m129-1h0m520 23h0m-798 63h0m744 9h0m53 70h0m-700 21h0m-170 70h0m920-2h0m-787 25h0m123-11h0m-93 27h0m20-8h0m202 5h0m279-2h0m334 0h0m-891 26h0m240 47h0m181-15h0m-267 42h0m-100 32h0m497-15h0m-336 30h0m88 12h0m639 5h0m54-6h0m-348 43h0m324-5h0m-804 54h0m-190 5h0m191 18h0m188 0h0m-390 21h0m295-7h0m-328 15h0m306 25h0m127 16h0m557-3h0m-503 38h0m-141 19h0m-9 54h0m353 16h0m237-12h0m-1 46h0"/>
<path stroke="#80c898" d="M939 2183h0m-7 36h0m-302 36h0m134-13h0m326 28h0m-388 11h0m210 15h0m-480 46h0m691 18h0m-754 24h0m288 2h0m542 28h0m5 1h0m-725 25h0m607-12h0m194-1h0m5 8h0m-777 13h0m537 2h0m-540 42h0m426 1h0m245 27h0m-589 19h0m572-5h0m-875 11h0m-14 22h0m76 10h0m247-8h0m-338 44h0m1100 12h0m-629 34h0m-291 19h0m-67 6h0m331 12h0m624 3h0m-618 6h0m72 74h0m96-14h0m425 8h0m37 32h0m-950 107h0m700 108h0m93 5h0m-926 55h0m3 17h0m79 0h0m836-14h0m-922 26h0"/>
<path stroke="#fcd40d" d="M1181 2666h0"/>
<path stroke="#a9d050" d="M392 2225h0m53 38h0m94-1h0m68 3h0m-115 19h0m46-1h0m121 9h0m-247 86h0m160-7h0m544 30h0m-870 50h0m997 208h0m-22 47h0m-809 22h0m-46 37h0m480 32h0m-224 13h0m-317 28h0m985 37h0m-488 23h0m49-7h0m-336 13h0m96 40h0m181 0h0m-333 17h0m64 2h0m582 51h0m162-3h0m-921 33h0m177-1h0"/>
<path stroke="#cbdc2b" d="M521 2196h0m325 61h0m268 94h0m-627 18h0m-4 163h0m811 43h0m-982 6h0m284 26h0m716-6h0m-529 40h0m220 48h0m163 11h0m-329 102h0m358 90h0m-256 14h0m-17 28h0m-280 45h0m2-2h0m-13 4h0m50 67h0m155 11h0m-7 18h0"/>
<path stroke="#b4d442" d="M539 2179h0m-164 23h0m24 35h0m593 62h0m-579 10h0m-87 52h0m15 3h0m129-3h0m-93 21h0m771 99h0m187 17h0m-1031 5h0m148 28h0m241 119h0m-153 12h0m442 4h0m-709 53h0m575 47h0m341 24h0m-925 25h0m436 105h0m390-14h0m-716 16h0m63 6h0m214 3h0m-163 74h0m204 73h0m105 22h0m-421 22h0m83 5h0"/>
<path stroke="#72ccd3" d="M1018 2236h0m-260 67h0m6 84h0m65 31h0m143-18h0m4 31h0m-24 43h0m31-1h0m-303 9h0m-22 43h0m58 37h0m95 19h0m161 9h0m17-2h0m-174 30h0m17 110h0m-139 47h0"/>
<path stroke="#c0d934" d="M634 2189h0m-340 58h0m68 72h0m37 31h0m-148 36h0m132 13h0m752-10h0m62-8h0m-721 37h0m740 35h0m-19 8h0m-817 47h0m-74 15h0m71 30h0m-78 10h0m1021 5h0m-328 79h0m134 19h0m-585 22h0m278 151h0m372-11h0m-198 63h0m141-6h0m-463 26h0m225 29h0m118 38h0m-592 12h0m393-7h0m23 54h0m-336 41h0m194-15h0m-368 25h0m266 3h0m117 21h0"/>
<path stroke="#f5921f" d="M434 2204h0m929 359h0"/>
<path stroke="#72cac9" d="M796 2268h0m97 100h0m-102 163h0m186-10h0m-236 22h0m-24 27h0m154 6h0m-40 93h0m-222 31h0m240 29h0m-200 17h0m26 6h0m148-5h0m-227 50h0m674-1h0m-868 100h0m-61 105h0m565 123h0"/>
<path stroke="#8dc982" d="M761 2181h0m-38 51h0m176-3h0m244 30h0m-244 10h0m-626 13h0m366 5h0m430 41h0m275 3h0m-306 13h0m29-3h0m-477 22h0m-307 31h0m956-2h0m86-6h0m-995 42h0m560 19h0m216 59h0m37 8h0m-713 57h0m-139 37h0m2 20h0m823-3h0m143 10h0m-999 29h0m241 14h0m91-12h0m9 26h0m400 2h0m-422 7h0m352 0h0m-651 23h0m230 7h0m816-2h0m-953 17h0m376 14h0m36 16h0m453-11h0m-604 49h0m-98 23h0m155 9h0m7 58h0m-215 52h0m822-3h0m-1018 13h0m65 31h0m102-4h0m-209 25h0m7-15h0m1079 31h0m-822 25h0m126 0h0m-359 29h0m132 4h0m60-11h0m83 3h0m649 1h0m-380 40h0"/>
<path stroke="#f0e81a" d="M417 2226h0m61 50h0m451 614h0m-374 47h0m366 19h0m5-11h0m250 21h0"/>
<path stroke="#f3e91b" d="M978 2784h0m-65 208h0"/>
<path stroke="#ee3124" d="M978 2870h0"/>
<path stroke="#f69e1c" d="M1204 2482h0"/>
<path stroke="#e8e41c" d="M378 2533h0m653 160h0m90 16h0m-200 105h0m-112 67h0m235 7h0m-214 45h0m-175 50h0m-149 32h0m33-12h0m713 15h0"/>
<path stroke="#d4df25" d="M543 2256h0m160 9h0m-401 101h0m89 96h0m301 231h0m491 95h0m73-5h0m-243 56h0m-254 58h0m-126 20h0m37 16h0m-186 19h0m86 2h0m409 7h0m-331 47h0m213 0h0m12 44h0m-335 56h0"/>
<path stroke="#73c8bd" d="M771 2196h0m279-7h0m-126 128h0m350 28h0m-977 18h0m509 27h0m-281 10h0m172 39h0m636 31h0m-1045 13h0m467 83h0m275-5h0m-215 61h0m-235 28h0m170 44h0m511 6h0m-800 95h0m287 8h0m529 42h0m75 91h0m-1046 91h0m31 15h0m462 70h0m-50 8h0"/>
<path stroke="#d12027" d="M1216 2532h0"/>
<path stroke="#eee61a" d="M953 2952h0m-498 31h0"/>
<path stroke="#70cbd6" d="M1003 2277h0m-163 11h0m-46 81h0m47 1h0m-198 70h0m182 9h0m127 79h0m43 28h0m-122 10h0m129-5h0m-593 34h0m422 133h0m7 15h0m-584 204h0"/>
<path stroke="#33409c" d="M1119 2863h0"/>
<path stroke="#5ac9e3" d="M1054 2203h0m-245 226h0m71 22h0m-104 19h0m203 23h0m-188 56h0m188-4h0m34 13h0m318 197h0"/>
<path stroke="#4ac7e9" d="M296 2287h0m451 115h0m7 122h0m-238 20h0m118 0h0"/>
<path stroke="#db1f26" d="M1124 2721h0"/>
<path stroke="#2c308e" d="M741 2545h0"/>
<path stroke="#f16026" d="M930 2870h0m120 193h0"/>
<path stroke="#303695" d="M672 3000h0"/>
<path stroke="#f6eb1b" d="M946 2952h0m-67 109h0"/>
<path stroke="#7a1a17" d="M1179 2605h0m-93 94h0"/>
<path stroke="#f04f26" d="M1201 2599h0m-257 295h0"/>
<path stroke="#3aa9de" d="M724 2473h0"/>
<path stroke="#ed2824" d="M1131 2655h0m-38 73h0"/>
<path stroke="#3f69b2" d="M797 2577h0"/>
<path stroke="#2e3192" d="M798 2223h0"/>
<path stroke="#ec1f24" d="M1171 2630h0m28-7h0"/>
<path stroke="#f48720" d="M995 2800h0"/>
<path stroke="#fcc712" d="M419 2337h0m653 505h0"/>
<path stroke="#b71f26" d="M1130 2719h0"/>
<path stroke="#35bbe9" d="M776 2506h0"/>
<path stroke="#3953a4" d="M542 2346h0"/>
<path stroke="#3a54a4" d="M817 2180h0"/>
<path stroke="#e81d24" d="M1173 2659h0"/>
<path stroke="#a41d23" d="M1202 2621h0"/>
<path stroke="#323b99" d="M939 2298h0"/>
<path stroke="#e21e25" d="M1123 2745h0"/>
<path stroke="#38c6ee" d="M809 2502h0"/>
<path stroke="#70cbd6" d="M882 2345h0m-216 170h0m93 3h0m140 2h0m-204 12h0m69 0h0m220-12h0m34 8h0m-259 85h0m75 31h0m523 139h0m-162 347h0"/>
<path stroke="#67cadc" d="M851 2193h0m160 64h0m-107 73h0m-314 109h0m122 43h0m360 75h0m-254 20h0m-548 347h0"/>
<path stroke="#a2cd5d" d="M1164 2177h0m-796 15h0m-106 17h0m8 12h0m899 35h0m-900 19h0m163 20h0m82-12h0m852 9h0m-884 11h0m122 13h0m-68 5h0m-177 20h0m62 7h0m140 8h0m617-4h0m-81 24h0m153 80h0m-979 8h0m866 2h0m220 25h0m-844 81h0m744 11h0m-264 21h0m327-3h0m-248 35h0m-796 40h0m115-4h0m177 6h0m-27 92h0m420 80h0m193 5h0m-596 58h0m698-11h0m-597 81h0m-401 27h0m670 4h0m-18 26h0m-347 40h0m-213 18h0"/>
<path stroke="#80c898" d="M883 2203h0m220 2h0m-144 34h0m-110 5h0m-594 34h0m1038 159h0m-9 22h0m-1039 22h0m208 2h0m-195 28h0m401-5h0m60 3h0m-74 19h0m-95 51h0m380-10h0m-421 39h0m456 1h0m25 12h0m-697 48h0m521 15h0m-198 30h0m4-10h0m-110 55h0m305 6h0m-252 22h0m690 26h0m-766 9h0m774 14h0m-909 63h0m68-12h0m319 48h0m601-9h0m2 67h0m-992 22h0m389 50h0m-133 41h0"/>
<path stroke="#ec1f24" d="M456 2201h0m22 251h0m423 155h0m-87 69h0m285 6h0m85 19h0m-128 46h0m111 24h0m-136 74h0"/>
<path stroke="#a9d050" d="M949 2184h0m268 42h0m42 4h0m6 56h0m-876 24h0m253 0h0m-12 44h0m-123 12h0m-109 18h0m133 33h0m661 6h0m-104 29h0m202 23h0m-379 181h0m429-12h0m-996 72h0m187-7h0m-56 11h0m82 11h0m516-4h0m95 15h0m-174 36h0m-407 65h0m514 11h0m-683 12h0m-98 18h0m813 32h0m60-2h0m-480 20h0m-367 43h0m269 21h0m-188 12h0m60 9h0m275 14h0m399-3h0m-583 25h0m69 9h0m225 65h0m97-8h0"/>
<path stroke="#9ccb6a" d="M785 2211h0m-213 36h0m530 2h0m-4 19h0m-814 51h0m376-19h0m351 27h0m349-5h0m-852 20h0m776 13h0m-854 7h0m-175 29h0m110 18h0m-114 87h0m96 11h0m844 25h0m-830 49h0m30 5h0m221 9h0m531 2h0m-730 28h0m679 34h0m-165 14h0m-426 43h0m798 34h0m-975 23h0m491 29h0m-308 35h0m-78 13h0m-29 21h0m133 18h0m-85 60h0m13-9h0m35 3h0m604 18h0m-708 57h0m616-9h0m-752 17h0m270 18h0m740 5h0m-828 30h0m744-5h0m-116 12h0m-445 24h0m557 4h0m129-14h0m-1026 22h0m66 0h0m418-1h0"/>
<path stroke="#94ca76" d="M553 2209h0m206 1h0m-372 19h0m378 0h0m325-3h0m176 13h0m-887 40h0m32-6h0m925 27h0m4-15h0m-513 25h0m538-3h0m-1069 21h0m11 31h0m974-13h0m-705 15h0m-317 20h0m1066 24h0m-223 50h0m197 9h0m-935 23h0m157 28h0m-98 44h0m503 18h0m-501 16h0m670-10h0m-3 52h0m248-11h0m-294 18h0m-318 36h0m191 3h0m-529 31h0m59 25h0m66-7h0m421 11h0m63 40h0m304-1h0m-1007 27h0m128-3h0m179 12h0m579-11h0m-703 15h0m103 74h0m756-5h0m-678 49h0m-292 11h0m74 6h0m-73 40h0m-106 18h0m498-4h0m-433 39h0m407 3h0m-376 22h0m316 2h0m516-9h0m-737 59h0"/>
<path stroke="#77c8b0" d="M467 2195h0m542-4h0m94 18h0m-212 27h0m162-11h0m46 29h0m204 19h0m-419 19h0m258 14h0m-169 16h0m-252 44h0m31 1h0m11 0h0m-218 33h0m47 5h0m725 4h0m-823 19h0m361 21h0m227 50h0m-476 73h0m3 1h0m397-9h0m290 49h0m-1029 20h0m574-8h0m24 0h0m-378 63h0m311 1h0m-513 29h0m374 50h0m53-6h0m628 16h0m-72 69h0m-31 29h0m72 188h0m-907 23h0m-6 41h0"/>
<path stroke="#86c98e" d="M882 2198h0m-608 2h0m761 9h0m-316 22h0m-465 22h0m926 24h0m-799 21h0m36 26h0m205 23h0m528 72h0m155 21h0m-815 21h0m422 12h0m-558 8h0m787 5h0m163-5h0m12 50h0m-1044 10h0m181 19h0m692-12h0m-867 21h0m49 63h0m61 39h0m933 7h0m-1067 8h0m415-4h0m202 3h0m-314 44h0m268 10h0m-580 28h0m71 10h0m226 23h0m692-1h0m-569 9h0m-406 24h0m495 5h0m538-3h0m11-14h0m-76 68h0m-867 26h0m150 5h0m-135 84h0m906 5h0m-1032 50h0m91 0h0m947-7h0m-843 46h0m158-1h0m411-13h0m-699 19h0m1042 14h0"/>
<path stroke="#72ccd3" d="M677 2499h0m120 8h0m-159 14h0m117 84h0m47 9h0m79 18h0m-577 19h0m146 2h0m27-9h0m-146 22h0m413 14h0m-29 53h0"/>
<path stroke="#7bc8a3" d="M1044 2231h0m52 48h0m-6 35h0m-362 8h0m476 16h0m-447 4h0m-14 35h0m173 6h0m209 5h0m-154 30h0m-404 3h0m786 12h0m-161 18h0m-550 29h0m-175 22h0m37 32h0m134 0h0m237 35h0m456-1h0m-1055 35h0m503 37h0m-389 28h0m359 32h0m578 11h0m-971 24h0m76-15h0m904 72h0m-581 12h0m79-4h0m-511 29h0m203 19h0m815 7h0m-726 78h0m104-13h0m478 79h0m-941 56h0m714 19h0m134 11h0m-42 24h0m52 2h0"/>
<path stroke="#c0d934" d="M568 2184h0m-189 99h0m10 55h0m-57 68h0m54 4h0m451 10h0m-454 52h0m869 37h0m68 19h0m32 44h0m-330 88h0m-2 59h0m10 8h0m-558 25h0m744 0h0m6 13h0m-864 31h0m816 2h0m-189 20h0m116 41h0m-658 39h0m-47 8h0m660 2h0m-712 19h0m428-5h0m215 11h0m-552 63h0m744 22h0m-100 11h0m-314 48h0m145 40h0m45-4h0"/>
<path stroke="#4172b8" d="M865 2204h0m-160 643h0"/>
<path stroke="#f8ad17" d="M1340 2175h0m-882 31h0m135 12h0m200 647h0m-41 88h0"/>
<path stroke="#73c8bd" d="M1101 2217h0m-74 41h0m-198 19h0m155-8h0m362 149h0m-768 36h0m77 14h0m-48 69h0m48-14h0m-73 20h0m100 13h0m204-6h0m-193 120h0m585-1h0m-899 12h0m162 7h0m121 32h0m159 5h0m63 10h0m-233 29h0m-206 61h0m885 92h0m-196 88h0m-809 36h0m49 68h0"/>
<path stroke="#f16026" d="M443 2268h0m-97 204h0m830 194h0m-69 63h0m-330 257h0"/>
<path stroke="#b4d442" d="M525 2225h0m-186 162h0m42 67h0m890 1h0m-909 18h0m816 26h0m-799 15h0m984-10h0m-977 56h0m24 16h0m194 55h0m74 49h0m355-15h0m-641 62h0m804 4h0m35 54h0m70 69h0m-439 12h0m-279 20h0m169 19h0m259 25h0m-387 29h0m-126 6h0m125 14h0m153 19h0m-237 18h0m50 18h0m81 4h0m18-1h0m17-15h0m-181 29h0m602-8h0m-90 19h0m-528 21h0m524 8h0m209-11h0m-331 48h0"/>
<path stroke="#f0e81a" d="M1301 2222h0m-295 501h0m46 115h0m-139 34h0"/>
<path stroke="#72cac9" d="M1050 2178h0m-16 64h0m-261 34h0m157-8h0m34-5h0m82-1h0m-755 69h0m618 0h0m334 31h0m107 2h0m-384 37h0m-280 78h0m92-12h0m54 3h0m-58 41h0m-158 26h0m-371 39h0m392 10h0m-346 47h0m87 139h0m267 27h0m-115 59h0m614 239h0"/>
<path stroke="#eee61a" d="M435 2209h0m516 560h0m21 25h0m80 74h0m-480 111h0m274-6h0"/>
<path stroke="#8dc982" d="M269 2187h0m941 3h0m-472 63h0m61 19h0m-540 68h0m577 9h0m-249 30h0m40-7h0m-229 22h0m969 6h0m-14 32h0m-91 32h0m-127 103h0m200 1h0m-942 27h0m-19 10h0m567 3h0m143 11h0m-780 8h0m91 25h0m655 3h0m-774 34h0m981 47h0m-990 11h0m107 10h0m-105 33h0m122-9h0m465 4h0m-508 29h0m-94 6h0m1062 128h0m-44 15h0m-928 30h0m693-10h0m238 14h0m-989 105h0m584 16h0m249 1h0"/>
<path stroke="#d4df25" d="M552 2255h0m-13 72h0m54 5h0m-250 24h0m271-13h0m-196 32h0m908 152h0m-327 198h0m-450 41h0m449 66h0m-52 45h0m-125 30h0m-229 33h0m326 8h0m59 97h0"/>
<path stroke="#3a54a4" d="M770 2601h0"/>
<path stroke="#dee220" d="M528 2202h0m-19 66h0m164 65h0m553 103h0m-323 294h0m70 6h0m56 1h0m47 58h0m111 1h0m-265 69h0m118 5h0m-128 20h0m217-5h0m-315 35h0m-203 24h0m173 6h0m144 1h0m109 14h0m317 125h0"/>
<path stroke="#38c6ee" d="M880 2350h0m-263 106h0m224 103h0m74-11h0"/>
<path stroke="#f5921f" d="M1327 2341h0m-212 359h0"/>
<path stroke="#cbdc2b" d="M473 2249h0m733 70h0m-958 102h0m216 159h0m523 207h0m-224 27h0m392 17h0m-279 16h0m-164 35h0m418 3h0m-308 28h0m159 46h0m-361 37h0m-161 90h0m527 2h0"/>
<path stroke="#e8e41c" d="M1001 2808h0m175 1h0m-162 141h0m-457 18h0m198 9h0m-212 17h0m715 126h0"/>
<path stroke="#ee3124" d="M1173 2567h0m11 120h0m-245 272h0"/>
<path stroke="#5ac9e3" d="M808 2491h0m-134 24h0m138-4h0m208 51h0m333 251h0"/>
<path stroke="#f48720" d="M1237 2196h0m-612 18h0m-176 75h0"/>
<path stroke="#2e3192" d="M573 2316h0m-303 247h0"/>
<path stroke="#f05727" d="M366 2197h0m-44 7h0m925 316h0m-103 115h0"/>
<path stroke="#fbbb14" d="M956 2611h0"/>
<path stroke="#f6eb1b" d="M1030 2724h0"/>
<path stroke="#ee3c25" d="M643 2262h0m257 367h0"/>
<path stroke="#f69e1c" d="M289 2194h0m157 114h0m-48 709h0"/>
<path stroke="#3aa9de" d="M955 2364h0m13 1h0m-369 85h0m49 61h0m143 62h0m7 0h0m94 0h0m311 491h0"/>
<path stroke="#3850a3" d="M837 2362h0m-178 33h0"/>
<path stroke="#4ac7e9" d="M786 2452h0"/>
<path stroke="#f3e91b" d="M1041 2751h0"/>
<path stroke="#e81d24" d="M800 2315h0m441 315h0m-66 96h0m-143 121h0"/>
<path stroke="#f04f26" d="M1086 2718h0m-26 52h0"/>
<path stroke="#fae011" d="M939 3009h0"/>
<path stroke="#fcc712" d="M527 2295h0m757 210h0"/>
<path stroke="#fcd40d" d="M510 2395h0m443 385h0"/>
<path stroke="#2d3190" d="M240 2573h0m656 509h0"/>
<path stroke="#3f98d3" d="M929 2266h0m-410 64h0m227 104h0m7 69h0m32 32h0m-281 100h0m201 205h0"/>
<path stroke="#418aca" d="M772 2516h0"/>
<path stroke="#437cc0" d="M885 2230h0"/>
<path stroke="#3c5ca9" d="M831 2336h0m-167 431h0"/>
<path stroke="#323b99" d="M821 2367h0"/>
<path stroke="#303695" d="M1076 2333h0m80 36h0m215 152h0m-607 356h0m3 1h0m-315 23h0m238 108h0m-68 29h0"/>
<path stroke="#ef4726" d="M1265 2398h0m-408 583h0m353 79h0"/>
<path stroke="#f26e24" d="M591 2689h0m-149 338h0m0 26h0"/>
<path stroke="#c82128" d="M493 2281h0m549 511h0m140 39h0m-258 31h0"/>
<path stroke="#ed2824" d="M463 2207h0m-3 51h0m361 589h0m2-2h0m37 139h0"/>
<path stroke="#a41d23" d="M409 2224h0m108 0h0m600 424h0m-43 16h0m0 74h0m-144 126h0"/>
<path stroke="#35bbe9" d="M871 2600h0"/>
<path stroke="#931b1f" d="M386 2191h0m134 20h0"/>
<path stroke="#851a1b" d="M396 2187h0"/>
<path stroke="#f37b21" d="M319 2241h0"/>
<path stroke="#d12027" d="M460 2355h0"/>
</g>
<text class="s" x="53" y="2033.5" font-size="92">B)</text>
<text class="u" x="806" y="1970" font-size="57" text-anchor="middle">M3C2 [mm]</text>
<text class="u" x="403.1" y="2045" font-size="57" text-anchor="middle">-50</text>
<text class="u" x="806.0" y="2045" font-size="57" text-anchor="middle">0</text>
<text class="u" x="1208.9" y="2045" font-size="57" text-anchor="middle">50</text>
<rect x="242" y="2075" width="1128" height="40" fill="url(#bmap)" stroke="#555" stroke-width="1.2"/>
<text class="u" x="225.5" y="2199.8" font-size="63.5" text-anchor="end">1065</text>
<text class="u" x="225.5" y="2481.8" font-size="63.5" text-anchor="end">1060</text>
<text class="u" x="225.5" y="2763.8" font-size="63.5" text-anchor="end">1055</text>
<text class="u" x="225.5" y="3045.8" font-size="63.5" text-anchor="end">1050</text>
<text class="u" x="242.0" y="3215.5" font-size="63.5" text-anchor="middle">1080</text>
<text class="u" x="524.0" y="3215.5" font-size="63.5" text-anchor="middle">1085</text>
<text class="u" x="806.0" y="3215.5" font-size="63.5" text-anchor="middle">1090</text>
<text class="u" x="1088.0" y="3215.5" font-size="63.5" text-anchor="middle">1095</text>
<text class="u" x="1370.0" y="3215.5" font-size="63.5" text-anchor="middle">1100</text>
<text class="u" x="806.5" y="3303.5" font-size="70" text-anchor="middle">x-axis [m]</text>
<text class="u" transform="translate(60,2653) rotate(-90)" font-size="68.5" text-anchor="middle">y-axis [m]</text>
</g></svg></body></html>
